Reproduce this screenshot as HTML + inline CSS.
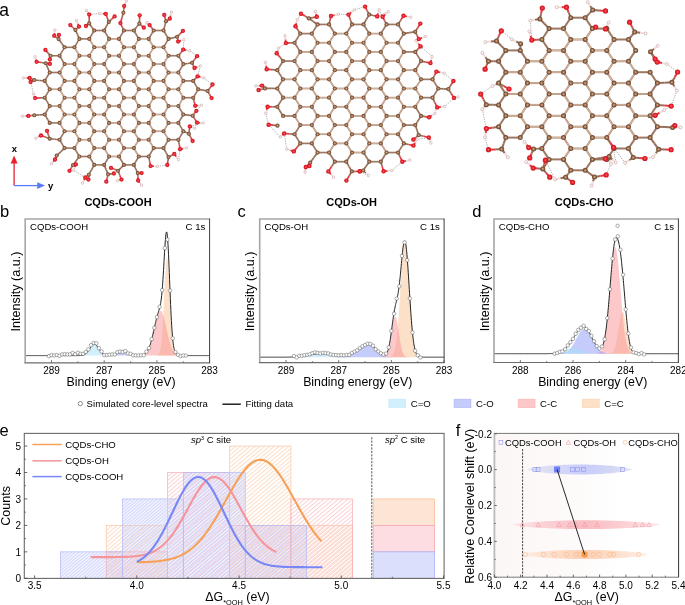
<!DOCTYPE html>
<html><head><meta charset="utf-8"><style>
html,body{margin:0;padding:0;background:#fff;width:685px;height:605px;overflow:hidden;}
svg{display:block;font-family:"Liberation Sans", sans-serif;will-change:transform;}
</style></head><body>
<svg width="685" height="605" viewBox="0 0 685 605">
<defs><clipPath id="clip1"><rect x="25.2" y="219" width="184.4" height="143.8"/></clipPath>
<clipPath id="clip2"><rect x="259.7" y="219" width="184.4" height="143.6"/></clipPath>
<clipPath id="clip3"><rect x="494" y="219" width="184.4" height="143.5"/></clipPath>
<pattern id="ho" patternUnits="userSpaceOnUse" x="0" width="3.1" height="3.1" patternTransform="rotate(50)"><line x1="0.5" y1="0" x2="0.5" y2="3.1" stroke="#fcd0b2" stroke-width="0.85"/></pattern>
<pattern id="hp" patternUnits="userSpaceOnUse" x="1.05" width="3.1" height="3.1" patternTransform="rotate(50)"><line x1="0.5" y1="0" x2="0.5" y2="3.1" stroke="#f9c0c5" stroke-width="0.85"/></pattern>
<pattern id="hb" patternUnits="userSpaceOnUse" x="0.55" width="2.4" height="2.4" patternTransform="rotate(50)"><line x1="0.5" y1="0" x2="0.5" y2="2.4" stroke="#c8cefa" stroke-width="0.85"/></pattern>
<linearGradient id="fbg" x1="0" y1="0" x2="1" y2="0"><stop offset="0" stop-color="#fcf7f6"/><stop offset="0.45" stop-color="#fdfafa"/><stop offset="0.7" stop-color="#ffffff"/></linearGradient>
<linearGradient id="gb" x1="0" y1="0" x2="1" y2="0"><stop offset="0" stop-color="#e6e6ee"/><stop offset="0.3" stop-color="#d6d9f6"/><stop offset="0.55" stop-color="#c8cdfa"/><stop offset="0.8" stop-color="#d4d7f4"/><stop offset="1" stop-color="#e8e8ee"/></linearGradient>
<linearGradient id="gp" x1="0" y1="0" x2="1" y2="0"><stop offset="0" stop-color="#fde6e8"/><stop offset="0.3" stop-color="#fbcbd0"/><stop offset="0.5" stop-color="#f9bcc2"/><stop offset="0.75" stop-color="#fbd0d4"/><stop offset="1" stop-color="#fde8ea"/></linearGradient>
<linearGradient id="go" x1="0" y1="0" x2="1" y2="0"><stop offset="0" stop-color="#fdf0e6"/><stop offset="0.3" stop-color="#fcdcc8"/><stop offset="0.5" stop-color="#fbd2b4"/><stop offset="0.75" stop-color="#fcdecc"/><stop offset="1" stop-color="#fdf2e8"/></linearGradient>
<radialGradient id="gc" cx="0.5" cy="0.5" r="0.5"><stop offset="0" stop-color="#e0b898"/><stop offset="0.4" stop-color="#a87858"/><stop offset="0.85" stop-color="#6e4a34"/><stop offset="1" stop-color="#684530"/></radialGradient>
<radialGradient id="go2" cx="0.5" cy="0.5" r="0.5"><stop offset="0" stop-color="#f46a70"/><stop offset="0.5" stop-color="#e8222c"/><stop offset="1" stop-color="#cc1420"/></radialGradient>
<radialGradient id="gh" cx="0.5" cy="0.5" r="0.5"><stop offset="0" stop-color="#ffffff"/><stop offset="0.6" stop-color="#f8eeee"/><stop offset="1" stop-color="#e2c8c8"/></radialGradient></defs>
<text x="-0.8" y="15.6" font-size="17.5" text-anchor="start" font-weight="normal" fill="#000" >a</text>
<text x="0" y="216.7" font-size="16.5" text-anchor="start" font-weight="normal" fill="#000" >b</text>
<text x="237.6" y="216.9" font-size="16.5" text-anchor="start" font-weight="normal" fill="#000" >c</text>
<text x="472.2" y="216.7" font-size="16.5" text-anchor="start" font-weight="normal" fill="#000" >d</text>
<text x="-0.4" y="436.2" font-size="16.5" text-anchor="start" font-weight="normal" fill="#000" >e</text>
<text x="455.8" y="435.8" font-size="16.5" text-anchor="start" font-weight="normal" fill="#000" >f</text>
<text x="118" y="205.5" font-size="11" text-anchor="middle" font-weight="bold" fill="#000" >CQDs-COOH</text>
<text x="351.6" y="205.5" font-size="11" text-anchor="middle" font-weight="bold" fill="#000" >CQDs-OH</text>
<text x="584.2" y="205.5" font-size="11" text-anchor="middle" font-weight="bold" fill="#000" >CQDs-CHO</text>
<g clip-path="url(#clip1)">
<path d="M155.86,355.6 L155.86,355.57 L156.14,355.55 L156.41,355.53 L156.69,355.5 L156.97,355.45 L157.24,355.39 L157.52,355.3 L157.8,355.18 L158.07,355.01 L158.35,354.8 L158.63,354.51 L158.9,354.14 L159.18,353.66 L159.46,353.04 L159.73,352.26 L160.01,351.29 L160.29,350.1 L160.56,348.64 L160.84,346.89 L161.12,344.8 L161.39,342.34 L161.67,339.48 L161.95,336.21 L162.22,332.5 L162.5,328.35 L162.78,323.78 L163.05,318.82 L163.33,313.5 L163.61,307.9 L163.88,302.08 L164.16,296.16 L164.44,290.24 L164.71,284.44 L164.99,278.89 L165.26,273.74 L165.54,269.12 L165.82,265.13 L166.09,261.91 L166.37,259.54 L166.65,258.09 L166.92,257.6 L167.2,258.09 L167.48,259.54 L167.75,261.91 L168.03,265.13 L168.31,269.12 L168.58,273.74 L168.86,278.89 L169.14,284.44 L169.41,290.24 L169.69,296.16 L169.97,302.08 L170.24,307.9 L170.52,313.5 L170.8,318.82 L171.07,323.78 L171.35,328.35 L171.63,332.5 L171.9,336.21 L172.18,339.48 L172.46,342.34 L172.73,344.8 L173.01,346.89 L173.29,348.64 L173.56,350.1 L173.84,351.29 L174.12,352.26 L174.39,353.04 L174.67,353.66 L174.95,354.14 L175.22,354.51 L175.5,354.8 L175.78,355.01 L176.05,355.18 L176.33,355.3 L176.61,355.39 L176.88,355.45 L177.16,355.5 L177.44,355.53 L177.71,355.55 L177.99,355.57 L177.99,355.6 Z" fill="#fbc191" fill-opacity="0.5"/>
<path d="M136.1,355.6 L136.1,355.58 L136.71,355.58 L137.32,355.57 L137.92,355.55 L138.53,355.53 L139.13,355.5 L139.74,355.46 L140.34,355.41 L140.95,355.33 L141.56,355.23 L142.16,355.1 L142.77,354.93 L143.37,354.71 L143.98,354.42 L144.59,354.07 L145.19,353.62 L145.8,353.07 L146.4,352.4 L147.01,351.6 L147.62,350.64 L148.22,349.51 L148.83,348.2 L149.43,346.69 L150.04,344.99 L150.64,343.09 L151.25,340.99 L151.86,338.71 L152.46,336.27 L153.07,333.7 L153.67,331.03 L154.28,328.31 L154.89,325.59 L155.49,322.92 L156.1,320.38 L156.7,318.01 L157.31,315.89 L157.92,314.06 L158.52,312.58 L159.13,311.49 L159.73,310.82 L160.34,310.6 L160.94,310.82 L161.55,311.49 L162.16,312.58 L162.76,314.06 L163.37,315.89 L163.97,318.01 L164.58,320.38 L165.19,322.92 L165.79,325.59 L166.4,328.31 L167,331.03 L167.61,333.7 L168.22,336.27 L168.82,338.71 L169.43,340.99 L170.03,343.09 L170.64,344.99 L171.24,346.69 L171.85,348.2 L172.46,349.51 L173.06,350.64 L173.67,351.6 L174.27,352.4 L174.88,353.07 L175.49,353.62 L176.09,354.07 L176.7,354.42 L177.3,354.71 L177.91,354.93 L178.52,355.1 L179.12,355.23 L179.73,355.33 L180.33,355.41 L180.94,355.46 L181.54,355.5 L182.15,355.53 L182.76,355.55 L183.36,355.57 L183.97,355.58 L184.57,355.58 L184.57,355.6 Z" fill="#f99195" fill-opacity="0.5"/>
<path d="M101.59,355.6 L101.59,355.6 L102.12,355.6 L102.65,355.6 L103.17,355.6 L103.7,355.59 L104.23,355.59 L104.76,355.59 L105.28,355.58 L105.81,355.57 L106.34,355.56 L106.86,355.55 L107.39,355.53 L107.92,355.51 L108.44,355.48 L108.97,355.45 L109.5,355.4 L110.02,355.35 L110.55,355.28 L111.08,355.2 L111.6,355.1 L112.13,354.99 L112.66,354.86 L113.19,354.71 L113.71,354.54 L114.24,354.35 L114.77,354.14 L115.29,353.91 L115.82,353.67 L116.35,353.41 L116.87,353.14 L117.4,352.87 L117.93,352.6 L118.45,352.33 L118.98,352.08 L119.51,351.84 L120.03,351.63 L120.56,351.45 L121.09,351.3 L121.61,351.19 L122.14,351.12 L122.67,351.1 L123.2,351.12 L123.72,351.19 L124.25,351.3 L124.78,351.45 L125.3,351.63 L125.83,351.84 L126.36,352.08 L126.88,352.33 L127.41,352.6 L127.94,352.87 L128.46,353.14 L128.99,353.41 L129.52,353.67 L130.04,353.91 L130.57,354.14 L131.1,354.35 L131.63,354.54 L132.15,354.71 L132.68,354.86 L133.21,354.99 L133.73,355.1 L134.26,355.2 L134.79,355.28 L135.31,355.35 L135.84,355.4 L136.37,355.45 L136.89,355.48 L137.42,355.51 L137.95,355.53 L138.47,355.55 L139,355.56 L139.53,355.57 L140.05,355.58 L140.58,355.59 L141.11,355.59 L141.64,355.59 L142.16,355.6 L142.69,355.6 L143.22,355.6 L143.74,355.6 L143.74,355.6 Z" fill="#8b97f5" fill-opacity="0.5"/>
<path d="M76.31,355.6 L76.31,355.6 L76.75,355.59 L77.2,355.59 L77.65,355.59 L78.1,355.58 L78.54,355.57 L78.99,355.56 L79.44,355.55 L79.89,355.53 L80.34,355.51 L80.78,355.47 L81.23,355.43 L81.68,355.37 L82.13,355.3 L82.57,355.21 L83.02,355.09 L83.47,354.95 L83.92,354.78 L84.37,354.58 L84.81,354.33 L85.26,354.04 L85.71,353.71 L86.16,353.32 L86.61,352.89 L87.05,352.4 L87.5,351.87 L87.95,351.28 L88.4,350.66 L88.84,350 L89.29,349.32 L89.74,348.62 L90.19,347.93 L90.64,347.25 L91.08,346.6 L91.53,345.99 L91.98,345.45 L92.43,344.98 L92.87,344.61 L93.32,344.33 L93.77,344.16 L94.22,344.1 L94.67,344.16 L95.11,344.33 L95.56,344.61 L96.01,344.98 L96.46,345.45 L96.91,345.99 L97.35,346.6 L97.8,347.25 L98.25,347.93 L98.7,348.62 L99.14,349.32 L99.59,350 L100.04,350.66 L100.49,351.28 L100.94,351.87 L101.38,352.4 L101.83,352.89 L102.28,353.32 L102.73,353.71 L103.17,354.04 L103.62,354.33 L104.07,354.58 L104.52,354.78 L104.97,354.95 L105.41,355.09 L105.86,355.21 L106.31,355.3 L106.76,355.37 L107.21,355.43 L107.65,355.47 L108.1,355.51 L108.55,355.53 L109,355.55 L109.44,355.56 L109.89,355.57 L110.34,355.58 L110.79,355.59 L111.24,355.59 L111.68,355.59 L112.13,355.6 L112.13,355.6 Z" fill="#a5e1f9" fill-opacity="0.5"/>
<path d="M25.2,355.6 L25.46,355.6 L25.73,355.6 L25.99,355.6 L26.25,355.6 L26.52,355.6 L26.78,355.6 L27.04,355.6 L27.31,355.6 L27.57,355.6 L27.83,355.6 L28.1,355.6 L28.36,355.6 L28.62,355.6 L28.89,355.6 L29.15,355.6 L29.41,355.6 L29.68,355.6 L29.94,355.6 L30.21,355.6 L30.47,355.6 L30.73,355.6 L31,355.6 L31.26,355.6 L31.52,355.6 L31.79,355.6 L32.05,355.6 L32.31,355.6 L32.58,355.6 L32.84,355.6 L33.1,355.6 L33.37,355.6 L33.63,355.6 L33.89,355.6 L34.16,355.6 L34.42,355.6 L34.68,355.6 L34.95,355.6 L35.21,355.6 L35.47,355.6 L35.74,355.6 L36,355.6 L36.26,355.6 L36.53,355.6 L36.79,355.6 L37.05,355.6 L37.32,355.6 L37.58,355.6 L37.84,355.6 L38.11,355.6 L38.37,355.6 L38.63,355.6 L38.9,355.6 L39.16,355.6 L39.43,355.6 L39.69,355.6 L39.95,355.6 L40.22,355.6 L40.48,355.6 L40.74,355.6 L41.01,355.6 L41.27,355.6 L41.53,355.6 L41.8,355.6 L42.06,355.6 L42.32,355.6 L42.59,355.6 L42.85,355.6 L43.11,355.6 L43.38,355.6 L43.64,355.6 L43.9,355.6 L44.17,355.6 L44.43,355.6 L44.69,355.6 L44.96,355.6 L45.22,355.6 L45.48,355.6 L45.75,355.6 L46.01,355.6 L46.27,355.6 L46.54,355.6 L46.8,355.6 L47.06,355.6 L47.33,355.6 L47.59,355.6 L47.85,355.6 L48.12,355.6 L48.38,355.6 L48.65,355.6 L48.91,355.6 L49.17,355.6 L49.44,355.6 L49.7,355.6 L49.96,355.6 L50.23,355.6 L50.49,355.6 L50.75,355.6 L51.02,355.6 L51.28,355.6 L51.54,355.6 L51.81,355.6 L52.07,355.6 L52.33,355.6 L52.6,355.6 L52.86,355.6 L53.12,355.6 L53.39,355.6 L53.65,355.6 L53.91,355.6 L54.18,355.6 L54.44,355.6 L54.7,355.6 L54.97,355.6 L55.23,355.6 L55.49,355.6 L55.76,355.6 L56.02,355.6 L56.28,355.6 L56.55,355.6 L56.81,355.6 L57.07,355.6 L57.34,355.6 L57.6,355.6 L57.87,355.6 L58.13,355.6 L58.39,355.6 L58.66,355.6 L58.92,355.6 L59.18,355.6 L59.45,355.6 L59.71,355.6 L59.97,355.6 L60.24,355.6 L60.5,355.6 L60.76,355.6 L61.03,355.6 L61.29,355.6 L61.55,355.6 L61.82,355.6 L62.08,355.6 L62.34,355.6 L62.61,355.6 L62.87,355.6 L63.13,355.6 L63.4,355.6 L63.66,355.6 L63.92,355.6 L64.19,355.6 L64.45,355.6 L64.71,355.6 L64.98,355.6 L65.24,355.6 L65.5,355.6 L65.77,355.6 L66.03,355.6 L66.29,355.6 L66.56,355.6 L66.82,355.6 L67.09,355.6 L67.35,355.6 L67.61,355.6 L67.88,355.6 L68.14,355.6 L68.4,355.6 L68.67,355.6 L68.93,355.6 L69.19,355.6 L69.46,355.6 L69.72,355.6 L69.98,355.6 L70.25,355.6 L70.51,355.6 L70.77,355.6 L71.04,355.6 L71.3,355.6 L71.56,355.6 L71.83,355.6 L72.09,355.6 L72.35,355.6 L72.62,355.6 L72.88,355.6 L73.14,355.6 L73.41,355.6 L73.67,355.6 L73.93,355.6 L74.2,355.6 L74.46,355.6 L74.72,355.6 L74.99,355.6 L75.25,355.6 L75.51,355.6 L75.78,355.6 L76.04,355.6 L76.31,355.6 L76.57,355.6 L76.83,355.59 L77.1,355.59 L77.36,355.59 L77.62,355.59 L77.89,355.59 L78.15,355.58 L78.41,355.58 L78.68,355.57 L78.94,355.57 L79.2,355.56 L79.47,355.55 L79.73,355.54 L79.99,355.53 L80.26,355.51 L80.52,355.49 L80.78,355.47 L81.05,355.45 L81.31,355.42 L81.57,355.39 L81.84,355.35 L82.1,355.3 L82.36,355.25 L82.63,355.2 L82.89,355.13 L83.15,355.06 L83.42,354.97 L83.68,354.88 L83.94,354.77 L84.21,354.65 L84.47,354.52 L84.73,354.38 L85,354.22 L85.26,354.04 L85.53,353.85 L85.79,353.64 L86.05,353.42 L86.32,353.18 L86.58,352.92 L86.84,352.64 L87.11,352.34 L87.37,352.03 L87.63,351.7 L87.9,351.35 L88.16,351 L88.42,350.62 L88.69,350.24 L88.95,349.84 L89.21,349.44 L89.48,349.03 L89.74,348.62 L90,348.22 L90.27,347.81 L90.53,347.41 L90.79,347.02 L91.06,346.64 L91.32,346.27 L91.58,345.93 L91.85,345.6 L92.11,345.31 L92.37,345.03 L92.64,344.79 L92.9,344.59 L93.16,344.41 L93.43,344.28 L93.69,344.18 L93.95,344.12 L94.22,344.1 L94.48,344.12 L94.75,344.18 L95.01,344.28 L95.27,344.41 L95.54,344.59 L95.8,344.79 L96.06,345.03 L96.33,345.31 L96.59,345.6 L96.85,345.93 L97.12,346.27 L97.38,346.64 L97.64,347.02 L97.91,347.41 L98.17,347.81 L98.43,348.21 L98.7,348.62 L98.96,349.03 L99.22,349.44 L99.49,349.84 L99.75,350.24 L100.01,350.62 L100.28,350.99 L100.54,351.35 L100.8,351.7 L101.07,352.03 L101.33,352.34 L101.59,352.64 L101.86,352.91 L102.12,353.17 L102.38,353.42 L102.65,353.64 L102.91,353.85 L103.17,354.04 L103.44,354.21 L103.7,354.37 L103.97,354.52 L104.23,354.64 L104.49,354.76 L104.76,354.86 L105.02,354.96 L105.28,355.04 L105.55,355.11 L105.81,355.17 L106.07,355.22 L106.34,355.27 L106.6,355.31 L106.86,355.34 L107.13,355.36 L107.39,355.38 L107.65,355.39 L107.92,355.4 L108.18,355.41 L108.44,355.41 L108.71,355.4 L108.97,355.4 L109.23,355.38 L109.5,355.37 L109.76,355.35 L110.02,355.32 L110.29,355.3 L110.55,355.27 L110.81,355.23 L111.08,355.19 L111.34,355.15 L111.6,355.1 L111.87,355.04 L112.13,354.99 L112.39,354.92 L112.66,354.86 L112.92,354.79 L113.19,354.71 L113.45,354.63 L113.71,354.54 L113.98,354.45 L114.24,354.35 L114.5,354.25 L114.77,354.14 L115.03,354.03 L115.29,353.91 L115.56,353.79 L115.82,353.67 L116.08,353.54 L116.35,353.41 L116.61,353.28 L116.87,353.14 L117.14,353.01 L117.4,352.87 L117.66,352.73 L117.93,352.6 L118.19,352.46 L118.45,352.33 L118.72,352.2 L118.98,352.08 L119.24,351.96 L119.51,351.84 L119.77,351.73 L120.03,351.63 L120.3,351.53 L120.56,351.45 L120.82,351.37 L121.09,351.3 L121.35,351.24 L121.61,351.19 L121.88,351.15 L122.14,351.12 L122.41,351.11 L122.67,351.1 L122.93,351.11 L123.2,351.12 L123.46,351.15 L123.72,351.19 L123.99,351.24 L124.25,351.3 L124.51,351.37 L124.78,351.45 L125.04,351.53 L125.3,351.63 L125.57,351.73 L125.83,351.84 L126.09,351.96 L126.36,352.08 L126.62,352.2 L126.88,352.33 L127.15,352.46 L127.41,352.6 L127.67,352.73 L127.94,352.87 L128.2,353.01 L128.46,353.14 L128.73,353.28 L128.99,353.41 L129.25,353.54 L129.52,353.67 L129.78,353.79 L130.04,353.91 L130.31,354.03 L130.57,354.14 L130.83,354.25 L131.1,354.35 L131.36,354.45 L131.63,354.54 L131.89,354.63 L132.15,354.71 L132.42,354.79 L132.68,354.86 L132.94,354.93 L133.21,354.99 L133.47,355.05 L133.73,355.1 L134,355.15 L134.26,355.2 L134.52,355.24 L134.79,355.27 L135.05,355.31 L135.31,355.34 L135.58,355.37 L135.84,355.39 L136.1,355.41 L136.37,355.43 L136.63,355.44 L136.89,355.46 L137.16,355.47 L137.42,355.48 L137.68,355.48 L137.95,355.48 L138.21,355.48 L138.47,355.48 L138.74,355.48 L139,355.47 L139.26,355.46 L139.53,355.45 L139.79,355.43 L140.05,355.41 L140.32,355.39 L140.58,355.37 L140.85,355.33 L141.11,355.3 L141.37,355.26 L141.64,355.21 L141.9,355.16 L142.16,355.1 L142.43,355.03 L142.69,354.95 L142.95,354.86 L143.22,354.77 L143.48,354.66 L143.74,354.54 L144.01,354.41 L144.27,354.26 L144.53,354.1 L144.8,353.92 L145.06,353.73 L145.32,353.51 L145.59,353.28 L145.85,353.02 L146.11,352.74 L146.38,352.44 L146.64,352.11 L146.9,351.75 L147.17,351.36 L147.43,350.95 L147.69,350.5 L147.96,350.02 L148.22,349.51 L148.48,348.96 L148.75,348.38 L149.01,347.76 L149.27,347.11 L149.54,346.41 L149.8,345.68 L150.07,344.91 L150.33,344.11 L150.59,343.26 L150.86,342.38 L151.12,341.46 L151.38,340.51 L151.65,339.52 L151.91,338.5 L152.17,337.46 L152.44,336.38 L152.7,335.28 L152.96,334.15 L153.23,333.01 L153.49,331.85 L153.75,330.67 L154.02,329.49 L154.28,328.3 L154.54,327.12 L154.81,325.93 L155.07,324.76 L155.33,323.59 L155.6,322.45 L155.86,321.32 L156.12,320.22 L156.39,319.15 L156.65,318.11 L156.91,317.1 L157.18,316.13 L157.44,315.19 L157.7,314.28 L157.97,313.4 L158.23,312.54 L158.49,311.69 L158.76,310.85 L159.02,310 L159.29,309.11 L159.55,308.18 L159.81,307.18 L160.08,306.07 L160.34,304.84 L160.6,303.45 L160.87,301.87 L161.13,300.07 L161.39,298.01 L161.66,295.68 L161.92,293.04 L162.18,290.09 L162.45,286.82 L162.71,283.23 L162.97,279.33 L163.24,275.17 L163.5,270.79 L163.76,266.24 L164.03,261.6 L164.29,256.95 L164.55,252.4 L164.82,248.04 L165.08,244 L165.34,240.37 L165.61,237.27 L165.87,234.8 L166.13,233.04 L166.4,232.07 L166.66,231.94 L166.92,232.67 L167.19,234.29 L167.45,236.77 L167.71,240.07 L167.98,244.14 L168.24,248.88 L168.51,254.22 L168.77,260.03 L169.03,266.21 L169.3,272.64 L169.56,279.19 L169.82,285.77 L170.09,292.26 L170.35,298.57 L170.61,304.62 L170.88,310.36 L171.14,315.72 L171.4,320.68 L171.67,325.22 L171.93,329.32 L172.19,332.99 L172.46,336.25 L172.72,339.11 L172.98,341.6 L173.25,343.76 L173.51,345.61 L173.77,347.18 L174.04,348.51 L174.3,349.64 L174.56,350.58 L174.83,351.37 L175.09,352.02 L175.35,352.57 L175.62,353.03 L175.88,353.41 L176.14,353.72 L176.41,353.99 L176.67,354.21 L176.93,354.4 L177.2,354.56 L177.46,354.7 L177.73,354.82 L177.99,354.92 L178.25,355.01 L178.52,355.09 L178.78,355.15 L179.04,355.21 L179.31,355.26 L179.57,355.3 L179.83,355.34 L180.1,355.38 L180.36,355.41 L180.62,355.43 L180.89,355.46 L181.15,355.48 L181.41,355.49 L181.68,355.51 L181.94,355.52 L182.2,355.53 L182.47,355.54 L182.73,355.55 L182.99,355.56 L183.26,355.56 L183.52,355.57 L183.78,355.57 L184.05,355.58 L184.31,355.58 L184.57,355.58 L184.84,355.59 L185.1,355.59 L185.36,355.59 L185.63,355.59 L185.89,355.59 L186.15,355.59 L186.42,355.6 L186.68,355.6 L186.95,355.6 L187.21,355.6 L187.47,355.6 L187.74,355.6 L188,355.6 L188.26,355.6 L188.53,355.6 L188.79,355.6 L189.05,355.6 L189.32,355.6 L189.58,355.6 L189.84,355.6 L190.11,355.6 L190.37,355.6 L190.63,355.6 L190.9,355.6 L191.16,355.6 L191.42,355.6 L191.69,355.6 L191.95,355.6 L192.21,355.6 L192.48,355.6 L192.74,355.6 L193,355.6 L193.27,355.6 L193.53,355.6 L193.79,355.6 L194.06,355.6 L194.32,355.6 L194.58,355.6 L194.85,355.6 L195.11,355.6 L195.37,355.6 L195.64,355.6 L195.9,355.6 L196.17,355.6 L196.43,355.6 L196.69,355.6 L196.96,355.6 L197.22,355.6 L197.48,355.6 L197.75,355.6 L198.01,355.6 L198.27,355.6 L198.54,355.6 L198.8,355.6 L199.06,355.6 L199.33,355.6 L199.59,355.6 L199.85,355.6 L200.12,355.6 L200.38,355.6 L200.64,355.6 L200.91,355.6 L201.17,355.6 L201.43,355.6 L201.7,355.6 L201.96,355.6 L202.22,355.6 L202.49,355.6 L202.75,355.6 L203.01,355.6 L203.28,355.6 L203.54,355.6 L203.8,355.6 L204.07,355.6 L204.33,355.6 L204.59,355.6 L204.86,355.6 L205.12,355.6 L205.39,355.6 L205.65,355.6 L205.91,355.6 L206.18,355.6 L206.44,355.6 L206.7,355.6 L206.97,355.6 L207.23,355.6 L207.49,355.6 L207.76,355.6 L208.02,355.6 L208.28,355.6 L208.55,355.6 L208.81,355.6 L209.07,355.6 L209.34,355.6 L209.6,355.6" fill="none" stroke="#222" stroke-width="1"/>
<circle cx="48.91" cy="356.14" r="1.75" fill="#fff" stroke="#666" stroke-width="0.55"/>
<circle cx="51.54" cy="355.1" r="1.75" fill="#fff" stroke="#666" stroke-width="0.55"/>
<circle cx="54.18" cy="355.46" r="1.75" fill="#fff" stroke="#666" stroke-width="0.55"/>
<circle cx="56.81" cy="355.09" r="1.75" fill="#fff" stroke="#666" stroke-width="0.55"/>
<circle cx="59.45" cy="355.81" r="1.75" fill="#fff" stroke="#666" stroke-width="0.55"/>
<circle cx="62.08" cy="354.39" r="1.75" fill="#fff" stroke="#666" stroke-width="0.55"/>
<circle cx="64.71" cy="354.22" r="1.75" fill="#fff" stroke="#666" stroke-width="0.55"/>
<circle cx="67.35" cy="354.39" r="1.75" fill="#fff" stroke="#666" stroke-width="0.55"/>
<circle cx="69.98" cy="354.4" r="1.75" fill="#fff" stroke="#666" stroke-width="0.55"/>
<circle cx="72.62" cy="353.03" r="1.75" fill="#fff" stroke="#666" stroke-width="0.55"/>
<circle cx="75.25" cy="354.23" r="1.75" fill="#fff" stroke="#666" stroke-width="0.55"/>
<circle cx="77.89" cy="352.68" r="1.75" fill="#fff" stroke="#666" stroke-width="0.55"/>
<circle cx="80.52" cy="353.82" r="1.75" fill="#fff" stroke="#666" stroke-width="0.55"/>
<circle cx="83.15" cy="353.87" r="1.75" fill="#fff" stroke="#666" stroke-width="0.55"/>
<circle cx="85.79" cy="351.98" r="1.75" fill="#fff" stroke="#666" stroke-width="0.55"/>
<circle cx="88.42" cy="349.39" r="1.75" fill="#fff" stroke="#666" stroke-width="0.55"/>
<circle cx="91.06" cy="345.21" r="1.75" fill="#fff" stroke="#666" stroke-width="0.55"/>
<circle cx="93.69" cy="342.97" r="1.75" fill="#fff" stroke="#666" stroke-width="0.55"/>
<circle cx="96.33" cy="343.36" r="1.75" fill="#fff" stroke="#666" stroke-width="0.55"/>
<circle cx="98.96" cy="348.22" r="1.75" fill="#fff" stroke="#666" stroke-width="0.55"/>
<circle cx="101.59" cy="351.51" r="1.75" fill="#fff" stroke="#666" stroke-width="0.55"/>
<circle cx="104.23" cy="355.16" r="1.75" fill="#fff" stroke="#666" stroke-width="0.55"/>
<circle cx="106.86" cy="354.94" r="1.75" fill="#fff" stroke="#666" stroke-width="0.55"/>
<circle cx="109.5" cy="354.65" r="1.75" fill="#fff" stroke="#666" stroke-width="0.55"/>
<circle cx="112.13" cy="354.44" r="1.75" fill="#fff" stroke="#666" stroke-width="0.55"/>
<circle cx="114.77" cy="354.44" r="1.75" fill="#fff" stroke="#666" stroke-width="0.55"/>
<circle cx="117.4" cy="352.2" r="1.75" fill="#fff" stroke="#666" stroke-width="0.55"/>
<circle cx="120.03" cy="351.6" r="1.75" fill="#fff" stroke="#666" stroke-width="0.55"/>
<circle cx="122.67" cy="351.91" r="1.75" fill="#fff" stroke="#666" stroke-width="0.55"/>
<circle cx="125.3" cy="351.17" r="1.75" fill="#fff" stroke="#666" stroke-width="0.55"/>
<circle cx="127.94" cy="353.39" r="1.75" fill="#fff" stroke="#666" stroke-width="0.55"/>
<circle cx="130.57" cy="353.8" r="1.75" fill="#fff" stroke="#666" stroke-width="0.55"/>
<circle cx="133.21" cy="355.19" r="1.75" fill="#fff" stroke="#666" stroke-width="0.55"/>
<circle cx="135.84" cy="355.37" r="1.75" fill="#fff" stroke="#666" stroke-width="0.55"/>
<circle cx="138.47" cy="355.45" r="1.75" fill="#fff" stroke="#666" stroke-width="0.55"/>
<circle cx="141.11" cy="355.32" r="1.75" fill="#fff" stroke="#666" stroke-width="0.55"/>
<circle cx="143.74" cy="355.26" r="1.75" fill="#fff" stroke="#666" stroke-width="0.55"/>
<circle cx="146.38" cy="351.65" r="1.75" fill="#fff" stroke="#666" stroke-width="0.55"/>
<circle cx="149.01" cy="348.09" r="1.75" fill="#fff" stroke="#666" stroke-width="0.55"/>
<circle cx="151.65" cy="339.05" r="1.75" fill="#fff" stroke="#666" stroke-width="0.55"/>
<circle cx="154.28" cy="327.81" r="1.75" fill="#fff" stroke="#666" stroke-width="0.55"/>
<circle cx="156.91" cy="317.15" r="1.75" fill="#fff" stroke="#666" stroke-width="0.55"/>
<circle cx="159.55" cy="306.87" r="1.75" fill="#fff" stroke="#666" stroke-width="0.55"/>
<circle cx="162.18" cy="290.13" r="1.75" fill="#fff" stroke="#666" stroke-width="0.55"/>
<circle cx="164.82" cy="248.1" r="1.75" fill="#fff" stroke="#666" stroke-width="0.55"/>
<circle cx="167.45" cy="239.56" r="1.75" fill="#fff" stroke="#666" stroke-width="0.55"/>
<circle cx="170.09" cy="290.59" r="1.75" fill="#fff" stroke="#666" stroke-width="0.55"/>
<circle cx="172.72" cy="338.25" r="1.75" fill="#fff" stroke="#666" stroke-width="0.55"/>
<circle cx="175.35" cy="352.07" r="1.75" fill="#fff" stroke="#666" stroke-width="0.55"/>
<circle cx="177.99" cy="354.83" r="1.75" fill="#fff" stroke="#666" stroke-width="0.55"/>
<circle cx="180.62" cy="356.14" r="1.75" fill="#fff" stroke="#666" stroke-width="0.55"/>
<circle cx="183.26" cy="355.45" r="1.75" fill="#fff" stroke="#666" stroke-width="0.55"/>
<circle cx="185.89" cy="355.59" r="1.75" fill="#fff" stroke="#666" stroke-width="0.55"/>
</g>
<path d="M25.2,362.8 L25.2,219 L209.6,219" fill="none" stroke="#a6a6a6" stroke-width="1.6"/>
<line x1="24.4" y1="362.8" x2="209.6" y2="362.8" stroke="#6e6e6e" stroke-width="1.2"/>
<line x1="209.6" y1="218.5" x2="209.6" y2="363.3" stroke="#3c3c3c" stroke-width="1"/>
<line x1="51.54" y1="362.8" x2="51.54" y2="360.2" stroke="#555" stroke-width="0.8"/>
<text x="51.54" y="374" font-size="10" text-anchor="middle" font-weight="normal" fill="#000" >289</text>
<line x1="104.23" y1="362.8" x2="104.23" y2="360.2" stroke="#555" stroke-width="0.8"/>
<text x="104.23" y="374" font-size="10" text-anchor="middle" font-weight="normal" fill="#000" >287</text>
<line x1="156.91" y1="362.8" x2="156.91" y2="360.2" stroke="#555" stroke-width="0.8"/>
<text x="156.91" y="374" font-size="10" text-anchor="middle" font-weight="normal" fill="#000" >285</text>
<line x1="209.6" y1="362.8" x2="209.6" y2="360.2" stroke="#555" stroke-width="0.8"/>
<text x="209.6" y="374" font-size="10" text-anchor="middle" font-weight="normal" fill="#000" >283</text>
<line x1="77.89" y1="362.8" x2="77.89" y2="361.2" stroke="#555" stroke-width="0.7"/>
<line x1="130.57" y1="362.8" x2="130.57" y2="361.2" stroke="#555" stroke-width="0.7"/>
<line x1="183.26" y1="362.8" x2="183.26" y2="361.2" stroke="#555" stroke-width="0.7"/>
<text x="30" y="229.5" font-size="9.6" text-anchor="start" font-weight="normal" fill="#000" >CQDs-COOH</text>
<text x="205.3" y="229.5" font-size="9.6" text-anchor="end" font-weight="normal" fill="#000" >C 1s</text>
<text x="121.1" y="385.8" font-size="12.35" text-anchor="middle" font-weight="normal" fill="#000" >Binding energy (eV)</text>
<text transform="translate(19.8,291.5) rotate(-90)" font-size="12.6" text-anchor="middle" fill="#000">Intensity (a.u.)</text>
<g clip-path="url(#clip2)">
<path d="M387.46,357.2 L387.46,357.16 L387.9,357.14 L388.33,357.12 L388.77,357.08 L389.2,357.02 L389.64,356.95 L390.07,356.84 L390.51,356.7 L390.94,356.51 L391.37,356.26 L391.81,355.92 L392.24,355.48 L392.68,354.92 L393.11,354.2 L393.55,353.28 L393.98,352.15 L394.42,350.74 L394.85,349.03 L395.29,346.97 L395.72,344.52 L396.16,341.64 L396.59,338.29 L397.03,334.44 L397.46,330.09 L397.89,325.23 L398.33,319.86 L398.76,314.04 L399.2,307.8 L399.63,301.22 L400.07,294.4 L400.5,287.45 L400.94,280.5 L401.37,273.69 L401.81,267.19 L402.24,261.14 L402.68,255.71 L403.11,251.04 L403.55,247.26 L403.98,244.48 L404.41,242.77 L404.85,242.2 L405.28,242.77 L405.72,244.48 L406.15,247.26 L406.59,251.04 L407.02,255.71 L407.46,261.14 L407.89,267.19 L408.33,273.69 L408.76,280.5 L409.2,287.45 L409.63,294.4 L410.07,301.22 L410.5,307.8 L410.93,314.04 L411.37,319.86 L411.8,325.23 L412.24,330.09 L412.67,334.44 L413.11,338.29 L413.54,341.64 L413.98,344.52 L414.41,346.97 L414.85,349.03 L415.28,350.74 L415.72,352.15 L416.15,353.28 L416.58,354.2 L417.02,354.92 L417.45,355.48 L417.89,355.92 L418.32,356.26 L418.76,356.51 L419.19,356.7 L419.63,356.84 L420.06,356.95 L420.5,357.02 L420.93,357.08 L421.37,357.12 L421.8,357.14 L422.24,357.16 L422.24,357.2 Z" fill="#fbc191" fill-opacity="0.5"/>
<path d="M380.35,357.2 L380.35,357.19 L380.72,357.18 L381.09,357.17 L381.46,357.16 L381.83,357.14 L382.19,357.11 L382.56,357.07 L382.93,357.02 L383.3,356.95 L383.67,356.86 L384.04,356.74 L384.41,356.59 L384.78,356.39 L385.14,356.13 L385.51,355.8 L385.88,355.4 L386.25,354.9 L386.62,354.29 L386.99,353.55 L387.36,352.68 L387.73,351.65 L388.1,350.46 L388.46,349.09 L388.83,347.53 L389.2,345.8 L389.57,343.89 L389.94,341.81 L390.31,339.59 L390.68,337.24 L391.05,334.81 L391.41,332.33 L391.78,329.85 L392.15,327.43 L392.52,325.11 L392.89,322.95 L393.26,321.02 L393.63,319.35 L394,318 L394.36,317.01 L394.73,316.4 L395.1,316.2 L395.47,316.4 L395.84,317.01 L396.21,318 L396.58,319.35 L396.95,321.02 L397.32,322.95 L397.68,325.11 L398.05,327.43 L398.42,329.85 L398.79,332.33 L399.16,334.81 L399.53,337.24 L399.9,339.59 L400.27,341.81 L400.63,343.89 L401,345.8 L401.37,347.53 L401.74,349.09 L402.11,350.46 L402.48,351.65 L402.85,352.68 L403.22,353.55 L403.58,354.29 L403.95,354.9 L404.32,355.4 L404.69,355.8 L405.06,356.13 L405.43,356.39 L405.8,356.59 L406.17,356.74 L406.54,356.86 L406.9,356.95 L407.27,357.02 L407.64,357.07 L408.01,357.11 L408.38,357.14 L408.75,357.16 L409.12,357.17 L409.49,357.18 L409.85,357.19 L409.85,357.2 Z" fill="#f99195" fill-opacity="0.5"/>
<path d="M326.87,357.2 L326.87,357.2 L327.76,357.19 L328.64,357.19 L329.52,357.19 L330.4,357.18 L331.29,357.18 L332.17,357.17 L333.05,357.16 L333.93,357.15 L334.82,357.13 L335.7,357.11 L336.58,357.09 L337.46,357.05 L338.35,357.01 L339.23,356.96 L340.11,356.9 L340.99,356.82 L341.88,356.73 L342.76,356.62 L343.64,356.49 L344.52,356.33 L345.41,356.15 L346.29,355.93 L347.17,355.69 L348.05,355.41 L348.94,355.09 L349.82,354.73 L350.7,354.33 L351.58,353.89 L352.47,353.42 L353.35,352.9 L354.23,352.35 L355.11,351.76 L356,351.15 L356.88,350.51 L357.76,349.86 L358.64,349.2 L359.53,348.54 L360.41,347.89 L361.29,347.27 L362.17,346.68 L363.06,346.13 L363.94,345.63 L364.82,345.19 L365.7,344.83 L366.59,344.54 L367.47,344.34 L368.35,344.23 L369.23,344.21 L370.12,344.35 L371,344.69 L371.88,345.21 L372.76,345.88 L373.65,346.68 L374.53,347.57 L375.41,348.51 L376.29,349.49 L377.18,350.46 L378.06,351.4 L378.94,352.28 L379.82,353.1 L380.71,353.83 L381.59,354.47 L382.47,355.02 L383.35,355.49 L384.24,355.88 L385.12,356.2 L386,356.45 L386.88,356.64 L387.77,356.8 L388.65,356.91 L389.53,357 L390.41,357.06 L391.3,357.1 L392.18,357.14 L393.06,357.16 L393.94,357.17 L394.83,357.18 L395.71,357.19 L396.59,357.19 L397.47,357.2 L397.47,357.2 Z" fill="#8b97f5" fill-opacity="0.5"/>
<path d="M274.19,357.2 L274.19,357.2 L275.37,357.2 L276.56,357.2 L277.74,357.2 L278.93,357.19 L280.12,357.19 L281.3,357.19 L282.49,357.18 L283.67,357.18 L284.86,357.17 L286.04,357.16 L287.23,357.15 L288.41,357.13 L289.6,357.11 L290.78,357.08 L291.97,357.04 L293.16,357 L294.34,356.94 L295.53,356.88 L296.71,356.8 L297.9,356.71 L299.08,356.61 L300.27,356.49 L301.45,356.35 L302.64,356.2 L303.82,356.03 L305.01,355.85 L306.2,355.65 L307.38,355.45 L308.57,355.23 L309.75,355.02 L310.94,354.8 L312.12,354.59 L313.31,354.38 L314.49,354.19 L315.68,354.02 L316.86,353.88 L318.05,353.76 L319.23,353.67 L320.42,353.62 L321.61,353.6 L322.79,353.62 L323.98,353.67 L325.16,353.76 L326.35,353.88 L327.53,354.02 L328.72,354.19 L329.9,354.38 L331.09,354.59 L332.27,354.8 L333.46,355.02 L334.65,355.23 L335.83,355.45 L337.02,355.65 L338.2,355.85 L339.39,356.03 L340.57,356.2 L341.76,356.35 L342.94,356.49 L344.13,356.61 L345.31,356.71 L346.5,356.8 L347.69,356.88 L348.87,356.94 L350.06,357 L351.24,357.04 L352.43,357.08 L353.61,357.11 L354.8,357.13 L355.98,357.15 L357.17,357.16 L358.35,357.17 L359.54,357.18 L360.72,357.18 L361.91,357.19 L363.1,357.19 L364.28,357.19 L365.47,357.2 L366.65,357.2 L367.84,357.2 L369.02,357.2 L369.02,357.2 Z" fill="#a5e1f9" fill-opacity="0.5"/>
<path d="M259.7,357.2 L259.96,357.2 L260.23,357.2 L260.49,357.2 L260.75,357.2 L261.02,357.2 L261.28,357.2 L261.54,357.2 L261.81,357.2 L262.07,357.2 L262.33,357.2 L262.6,357.2 L262.86,357.2 L263.12,357.2 L263.39,357.2 L263.65,357.2 L263.91,357.2 L264.18,357.2 L264.44,357.2 L264.71,357.2 L264.97,357.2 L265.23,357.2 L265.5,357.2 L265.76,357.2 L266.02,357.2 L266.29,357.2 L266.55,357.2 L266.81,357.2 L267.08,357.2 L267.34,357.2 L267.6,357.2 L267.87,357.2 L268.13,357.2 L268.39,357.2 L268.66,357.2 L268.92,357.2 L269.18,357.2 L269.45,357.2 L269.71,357.2 L269.97,357.2 L270.24,357.2 L270.5,357.2 L270.76,357.2 L271.03,357.2 L271.29,357.2 L271.55,357.2 L271.82,357.2 L272.08,357.2 L272.34,357.2 L272.61,357.2 L272.87,357.2 L273.13,357.2 L273.4,357.2 L273.66,357.2 L273.93,357.2 L274.19,357.2 L274.45,357.2 L274.72,357.2 L274.98,357.2 L275.24,357.2 L275.51,357.2 L275.77,357.2 L276.03,357.2 L276.3,357.2 L276.56,357.2 L276.82,357.2 L277.09,357.2 L277.35,357.2 L277.61,357.2 L277.88,357.2 L278.14,357.2 L278.4,357.2 L278.67,357.19 L278.93,357.19 L279.19,357.19 L279.46,357.19 L279.72,357.19 L279.98,357.19 L280.25,357.19 L280.51,357.19 L280.77,357.19 L281.04,357.19 L281.3,357.19 L281.56,357.19 L281.83,357.19 L282.09,357.19 L282.35,357.19 L282.62,357.18 L282.88,357.18 L283.15,357.18 L283.41,357.18 L283.67,357.18 L283.94,357.18 L284.2,357.18 L284.46,357.17 L284.73,357.17 L284.99,357.17 L285.25,357.17 L285.52,357.17 L285.78,357.16 L286.04,357.16 L286.31,357.16 L286.57,357.15 L286.83,357.15 L287.1,357.15 L287.36,357.14 L287.62,357.14 L287.89,357.14 L288.15,357.13 L288.41,357.13 L288.68,357.12 L288.94,357.12 L289.2,357.11 L289.47,357.11 L289.73,357.1 L289.99,357.1 L290.26,357.09 L290.52,357.08 L290.78,357.08 L291.05,357.07 L291.31,357.06 L291.57,357.05 L291.84,357.05 L292.1,357.04 L292.37,357.03 L292.63,357.02 L292.89,357.01 L293.16,357 L293.42,356.99 L293.68,356.98 L293.95,356.96 L294.21,356.95 L294.47,356.94 L294.74,356.92 L295,356.91 L295.26,356.9 L295.53,356.88 L295.79,356.86 L296.05,356.85 L296.32,356.83 L296.58,356.81 L296.84,356.79 L297.11,356.77 L297.37,356.75 L297.63,356.73 L297.9,356.71 L298.16,356.69 L298.42,356.67 L298.69,356.64 L298.95,356.62 L299.21,356.6 L299.48,356.57 L299.74,356.54 L300,356.52 L300.27,356.49 L300.53,356.46 L300.79,356.43 L301.06,356.4 L301.32,356.37 L301.59,356.34 L301.85,356.3 L302.11,356.27 L302.38,356.23 L302.64,356.2 L302.9,356.16 L303.17,356.13 L303.43,356.09 L303.69,356.05 L303.96,356.01 L304.22,355.97 L304.48,355.93 L304.75,355.89 L305.01,355.85 L305.27,355.81 L305.54,355.76 L305.8,355.72 L306.06,355.68 L306.33,355.63 L306.59,355.59 L306.85,355.54 L307.12,355.49 L307.38,355.45 L307.64,355.4 L307.91,355.35 L308.17,355.31 L308.43,355.26 L308.7,355.21 L308.96,355.16 L309.22,355.11 L309.49,355.07 L309.75,355.02 L310.01,354.97 L310.28,354.92 L310.54,354.87 L310.81,354.82 L311.07,354.77 L311.33,354.73 L311.6,354.68 L311.86,354.63 L312.12,354.59 L312.39,354.54 L312.65,354.49 L312.91,354.45 L313.18,354.4 L313.44,354.36 L313.7,354.32 L313.97,354.28 L314.23,354.23 L314.49,354.19 L314.76,354.15 L315.02,354.11 L315.28,354.08 L315.55,354.04 L315.81,354.01 L316.07,353.97 L316.34,353.94 L316.6,353.91 L316.86,353.88 L317.13,353.85 L317.39,353.82 L317.65,353.79 L317.92,353.77 L318.18,353.75 L318.44,353.73 L318.71,353.71 L318.97,353.69 L319.23,353.67 L319.5,353.66 L319.76,353.64 L320.03,353.63 L320.29,353.62 L320.55,353.61 L320.82,353.61 L321.08,353.6 L321.34,353.6 L321.61,353.6 L321.87,353.6 L322.13,353.6 L322.4,353.61 L322.66,353.61 L322.92,353.62 L323.19,353.63 L323.45,353.64 L323.71,353.66 L323.98,353.67 L324.24,353.69 L324.5,353.7 L324.77,353.72 L325.03,353.74 L325.29,353.77 L325.56,353.79 L325.82,353.82 L326.08,353.84 L326.35,353.87 L326.61,353.9 L326.87,353.93 L327.14,353.97 L327.4,354 L327.66,354.03 L327.93,354.07 L328.19,354.11 L328.45,354.15 L328.72,354.18 L328.98,354.22 L329.25,354.26 L329.51,354.31 L329.77,354.35 L330.04,354.39 L330.3,354.43 L330.56,354.48 L330.83,354.52 L331.09,354.57 L331.35,354.61 L331.62,354.66 L331.88,354.7 L332.14,354.75 L332.41,354.79 L332.67,354.84 L332.93,354.88 L333.2,354.93 L333.46,354.97 L333.72,355.02 L333.99,355.06 L334.25,355.11 L334.51,355.15 L334.78,355.19 L335.04,355.23 L335.3,355.28 L335.57,355.32 L335.83,355.36 L336.09,355.4 L336.36,355.43 L336.62,355.47 L336.88,355.51 L337.15,355.54 L337.41,355.58 L337.67,355.61 L337.94,355.64 L338.2,355.67 L338.47,355.7 L338.73,355.72 L338.99,355.75 L339.26,355.77 L339.52,355.79 L339.78,355.81 L340.05,355.83 L340.31,355.85 L340.57,355.86 L340.84,355.87 L341.1,355.88 L341.36,355.89 L341.63,355.89 L341.89,355.9 L342.15,355.9 L342.42,355.89 L342.68,355.89 L342.94,355.88 L343.21,355.87 L343.47,355.86 L343.73,355.84 L344,355.82 L344.26,355.8 L344.52,355.77 L344.79,355.74 L345.05,355.71 L345.31,355.68 L345.58,355.64 L345.84,355.6 L346.1,355.55 L346.37,355.5 L346.63,355.45 L346.89,355.4 L347.16,355.34 L347.42,355.27 L347.69,355.21 L347.95,355.14 L348.21,355.06 L348.48,354.98 L348.74,354.9 L349,354.81 L349.27,354.72 L349.53,354.63 L349.79,354.53 L350.06,354.43 L350.32,354.32 L350.58,354.21 L350.85,354.09 L351.11,353.97 L351.37,353.85 L351.64,353.72 L351.9,353.59 L352.16,353.46 L352.43,353.32 L352.69,353.17 L352.95,353.03 L353.22,352.88 L353.48,352.72 L353.74,352.57 L354.01,352.4 L354.27,352.24 L354.53,352.07 L354.8,351.9 L355.06,351.73 L355.32,351.55 L355.59,351.37 L355.85,351.19 L356.11,351.01 L356.38,350.82 L356.64,350.64 L356.91,350.45 L357.17,350.26 L357.43,350.06 L357.7,349.87 L357.96,349.68 L358.22,349.48 L358.49,349.29 L358.75,349.09 L359.01,348.9 L359.28,348.7 L359.54,348.51 L359.8,348.31 L360.07,348.12 L360.33,347.93 L360.59,347.74 L360.86,347.56 L361.12,347.37 L361.38,347.19 L361.65,347.01 L361.91,346.84 L362.17,346.67 L362.44,346.5 L362.7,346.33 L362.96,346.17 L363.23,346.02 L363.49,345.87 L363.75,345.72 L364.02,345.58 L364.28,345.45 L364.54,345.32 L364.81,345.19 L365.07,345.08 L365.33,344.97 L365.6,344.87 L365.86,344.77 L366.13,344.68 L366.39,344.6 L366.65,344.52 L366.92,344.45 L367.18,344.4 L367.44,344.34 L367.71,344.3 L367.97,344.26 L368.23,344.23 L368.5,344.21 L368.76,344.2 L369.02,344.2 L369.29,344.21 L369.55,344.23 L369.81,344.28 L370.08,344.34 L370.34,344.42 L370.6,344.52 L370.87,344.63 L371.13,344.76 L371.39,344.9 L371.66,345.06 L371.92,345.23 L372.18,345.42 L372.45,345.62 L372.71,345.83 L372.97,346.06 L373.24,346.29 L373.5,346.54 L373.76,346.79 L374.03,347.05 L374.29,347.32 L374.55,347.59 L374.82,347.87 L375.08,348.16 L375.35,348.44 L375.61,348.73 L375.87,349.02 L376.14,349.31 L376.4,349.61 L376.66,349.9 L376.93,350.19 L377.19,350.47 L377.45,350.76 L377.72,351.04 L377.98,351.32 L378.24,351.59 L378.51,351.85 L378.77,352.11 L379.03,352.37 L379.3,352.62 L379.56,352.86 L379.82,353.09 L380.09,353.31 L380.35,353.53 L380.61,353.74 L380.88,353.93 L381.14,354.12 L381.4,354.3 L381.67,354.47 L381.93,354.63 L382.19,354.77 L382.46,354.9 L382.72,355.02 L382.98,355.12 L383.25,355.21 L383.51,355.27 L383.77,355.32 L384.04,355.34 L384.3,355.34 L384.57,355.31 L384.83,355.25 L385.09,355.15 L385.36,355.02 L385.62,354.84 L385.88,354.61 L386.15,354.32 L386.41,353.98 L386.67,353.58 L386.94,353.1 L387.2,352.55 L387.46,351.91 L387.73,351.19 L387.99,350.38 L388.25,349.48 L388.52,348.47 L388.78,347.37 L389.04,346.16 L389.31,344.86 L389.57,343.45 L389.83,341.95 L390.1,340.35 L390.36,338.67 L390.62,336.91 L390.89,335.09 L391.15,333.2 L391.41,331.27 L391.68,329.31 L391.94,327.33 L392.2,325.35 L392.47,323.39 L392.73,321.44 L392.99,319.54 L393.26,317.69 L393.52,315.91 L393.79,314.2 L394.05,312.57 L394.31,311.02 L394.58,309.56 L394.84,308.18 L395.1,306.88 L395.37,305.65 L395.63,304.48 L395.89,303.36 L396.16,302.27 L396.42,301.19 L396.68,300.1 L396.95,298.99 L397.21,297.83 L397.47,296.6 L397.74,295.28 L398,293.86 L398.26,292.31 L398.53,290.63 L398.79,288.8 L399.05,286.83 L399.32,284.7 L399.58,282.42 L399.84,280 L400.11,277.45 L400.37,274.78 L400.63,272.02 L400.9,269.2 L401.16,266.33 L401.42,263.45 L401.69,260.6 L401.95,257.81 L402.21,255.11 L402.48,252.55 L402.74,250.15 L403.01,247.97 L403.27,246.02 L403.53,244.35 L403.8,242.98 L404.06,241.94 L404.32,241.24 L404.59,240.91 L404.85,240.95 L405.11,241.38 L405.38,242.2 L405.64,243.39 L405.9,244.97 L406.17,246.91 L406.43,249.19 L406.69,251.8 L406.96,254.72 L407.22,257.91 L407.48,261.35 L407.75,265 L408.01,268.83 L408.27,272.82 L408.54,276.91 L408.8,281.08 L409.06,285.3 L409.33,289.54 L409.59,293.75 L409.85,297.93 L410.12,302.03 L410.38,306.03 L410.64,309.92 L410.91,313.67 L411.17,317.27 L411.43,320.71 L411.7,323.97 L411.96,327.05 L412.23,329.95 L412.49,332.66 L412.75,335.18 L413.02,337.51 L413.28,339.66 L413.54,341.64 L413.81,343.44 L414.07,345.08 L414.33,346.56 L414.6,347.89 L414.86,349.09 L415.12,350.16 L415.39,351.11 L415.65,351.95 L415.91,352.69 L416.18,353.35 L416.44,353.91 L416.7,354.41 L416.97,354.84 L417.23,355.21 L417.49,355.53 L417.76,355.8 L418.02,356.03 L418.28,356.23 L418.55,356.4 L418.81,356.54 L419.07,356.66 L419.34,356.76 L419.6,356.84 L419.86,356.91 L420.13,356.96 L420.39,357.01 L420.65,357.05 L420.92,357.08 L421.18,357.1 L421.45,357.12 L421.71,357.14 L421.97,357.15 L422.24,357.16 L422.5,357.17 L422.76,357.18 L423.03,357.18 L423.29,357.19 L423.55,357.19 L423.82,357.19 L424.08,357.19 L424.34,357.2 L424.61,357.2 L424.87,357.2 L425.13,357.2 L425.4,357.2 L425.66,357.2 L425.92,357.2 L426.19,357.2 L426.45,357.2 L426.71,357.2 L426.98,357.2 L427.24,357.2 L427.5,357.2 L427.77,357.2 L428.03,357.2 L428.29,357.2 L428.56,357.2 L428.82,357.2 L429.08,357.2 L429.35,357.2 L429.61,357.2 L429.87,357.2 L430.14,357.2 L430.4,357.2 L430.67,357.2 L430.93,357.2 L431.19,357.2 L431.46,357.2 L431.72,357.2 L431.98,357.2 L432.25,357.2 L432.51,357.2 L432.77,357.2 L433.04,357.2 L433.3,357.2 L433.56,357.2 L433.83,357.2 L434.09,357.2 L434.35,357.2 L434.62,357.2 L434.88,357.2 L435.14,357.2 L435.41,357.2 L435.67,357.2 L435.93,357.2 L436.2,357.2 L436.46,357.2 L436.72,357.2 L436.99,357.2 L437.25,357.2 L437.51,357.2 L437.78,357.2 L438.04,357.2 L438.3,357.2 L438.57,357.2 L438.83,357.2 L439.09,357.2 L439.36,357.2 L439.62,357.2 L439.89,357.2 L440.15,357.2 L440.41,357.2 L440.68,357.2 L440.94,357.2 L441.2,357.2 L441.47,357.2 L441.73,357.2 L441.99,357.2 L442.26,357.2 L442.52,357.2 L442.78,357.2 L443.05,357.2 L443.31,357.2 L443.57,357.2 L443.84,357.2 L444.1,357.2" fill="none" stroke="#222" stroke-width="1"/>
<circle cx="293.95" cy="356.12" r="1.75" fill="#fff" stroke="#666" stroke-width="0.55"/>
<circle cx="296.58" cy="357.36" r="1.75" fill="#fff" stroke="#666" stroke-width="0.55"/>
<circle cx="299.21" cy="355.79" r="1.75" fill="#fff" stroke="#666" stroke-width="0.55"/>
<circle cx="301.85" cy="355.67" r="1.75" fill="#fff" stroke="#666" stroke-width="0.55"/>
<circle cx="304.48" cy="355.25" r="1.75" fill="#fff" stroke="#666" stroke-width="0.55"/>
<circle cx="307.12" cy="354.76" r="1.75" fill="#fff" stroke="#666" stroke-width="0.55"/>
<circle cx="309.75" cy="354.36" r="1.75" fill="#fff" stroke="#666" stroke-width="0.55"/>
<circle cx="312.39" cy="353.21" r="1.75" fill="#fff" stroke="#666" stroke-width="0.55"/>
<circle cx="315.02" cy="352.41" r="1.75" fill="#fff" stroke="#666" stroke-width="0.55"/>
<circle cx="317.65" cy="352.93" r="1.75" fill="#fff" stroke="#666" stroke-width="0.55"/>
<circle cx="320.29" cy="353.49" r="1.75" fill="#fff" stroke="#666" stroke-width="0.55"/>
<circle cx="322.92" cy="352.82" r="1.75" fill="#fff" stroke="#666" stroke-width="0.55"/>
<circle cx="325.56" cy="353.12" r="1.75" fill="#fff" stroke="#666" stroke-width="0.55"/>
<circle cx="328.19" cy="353.41" r="1.75" fill="#fff" stroke="#666" stroke-width="0.55"/>
<circle cx="330.83" cy="354.52" r="1.75" fill="#fff" stroke="#666" stroke-width="0.55"/>
<circle cx="333.46" cy="354.93" r="1.75" fill="#fff" stroke="#666" stroke-width="0.55"/>
<circle cx="336.09" cy="355.07" r="1.75" fill="#fff" stroke="#666" stroke-width="0.55"/>
<circle cx="338.73" cy="355.3" r="1.75" fill="#fff" stroke="#666" stroke-width="0.55"/>
<circle cx="341.36" cy="355.13" r="1.75" fill="#fff" stroke="#666" stroke-width="0.55"/>
<circle cx="344" cy="355.35" r="1.75" fill="#fff" stroke="#666" stroke-width="0.55"/>
<circle cx="346.63" cy="354.97" r="1.75" fill="#fff" stroke="#666" stroke-width="0.55"/>
<circle cx="349.27" cy="354.87" r="1.75" fill="#fff" stroke="#666" stroke-width="0.55"/>
<circle cx="351.9" cy="352.92" r="1.75" fill="#fff" stroke="#666" stroke-width="0.55"/>
<circle cx="354.53" cy="351.6" r="1.75" fill="#fff" stroke="#666" stroke-width="0.55"/>
<circle cx="357.17" cy="350.3" r="1.75" fill="#fff" stroke="#666" stroke-width="0.55"/>
<circle cx="359.8" cy="348.1" r="1.75" fill="#fff" stroke="#666" stroke-width="0.55"/>
<circle cx="362.44" cy="346.28" r="1.75" fill="#fff" stroke="#666" stroke-width="0.55"/>
<circle cx="365.07" cy="345.03" r="1.75" fill="#fff" stroke="#666" stroke-width="0.55"/>
<circle cx="367.71" cy="343.69" r="1.75" fill="#fff" stroke="#666" stroke-width="0.55"/>
<circle cx="370.34" cy="343.99" r="1.75" fill="#fff" stroke="#666" stroke-width="0.55"/>
<circle cx="372.97" cy="345.71" r="1.75" fill="#fff" stroke="#666" stroke-width="0.55"/>
<circle cx="375.61" cy="349.27" r="1.75" fill="#fff" stroke="#666" stroke-width="0.55"/>
<circle cx="378.24" cy="351.38" r="1.75" fill="#fff" stroke="#666" stroke-width="0.55"/>
<circle cx="380.88" cy="353.33" r="1.75" fill="#fff" stroke="#666" stroke-width="0.55"/>
<circle cx="383.51" cy="354.64" r="1.75" fill="#fff" stroke="#666" stroke-width="0.55"/>
<circle cx="386.15" cy="353.56" r="1.75" fill="#fff" stroke="#666" stroke-width="0.55"/>
<circle cx="388.78" cy="347.35" r="1.75" fill="#fff" stroke="#666" stroke-width="0.55"/>
<circle cx="391.41" cy="330.89" r="1.75" fill="#fff" stroke="#666" stroke-width="0.55"/>
<circle cx="394.05" cy="313.65" r="1.75" fill="#fff" stroke="#666" stroke-width="0.55"/>
<circle cx="396.68" cy="298.6" r="1.75" fill="#fff" stroke="#666" stroke-width="0.55"/>
<circle cx="399.32" cy="286.35" r="1.75" fill="#fff" stroke="#666" stroke-width="0.55"/>
<circle cx="401.95" cy="255.95" r="1.75" fill="#fff" stroke="#666" stroke-width="0.55"/>
<circle cx="404.59" cy="242.41" r="1.75" fill="#fff" stroke="#666" stroke-width="0.55"/>
<circle cx="407.22" cy="260.15" r="1.75" fill="#fff" stroke="#666" stroke-width="0.55"/>
<circle cx="409.85" cy="298.49" r="1.75" fill="#fff" stroke="#666" stroke-width="0.55"/>
<circle cx="412.49" cy="332.54" r="1.75" fill="#fff" stroke="#666" stroke-width="0.55"/>
<circle cx="415.12" cy="350.78" r="1.75" fill="#fff" stroke="#666" stroke-width="0.55"/>
<circle cx="417.76" cy="355.26" r="1.75" fill="#fff" stroke="#666" stroke-width="0.55"/>
<circle cx="420.39" cy="357.47" r="1.75" fill="#fff" stroke="#666" stroke-width="0.55"/>
</g>
<path d="M259.7,362.6 L259.7,219 L444.1,219" fill="none" stroke="#a6a6a6" stroke-width="1.6"/>
<line x1="258.9" y1="362.6" x2="444.1" y2="362.6" stroke="#6e6e6e" stroke-width="1.2"/>
<line x1="444.1" y1="218.5" x2="444.1" y2="363.1" stroke="#3c3c3c" stroke-width="1"/>
<line x1="286.04" y1="362.6" x2="286.04" y2="360" stroke="#555" stroke-width="0.8"/>
<text x="286.04" y="373.8" font-size="10" text-anchor="middle" font-weight="normal" fill="#000" >289</text>
<line x1="338.73" y1="362.6" x2="338.73" y2="360" stroke="#555" stroke-width="0.8"/>
<text x="338.73" y="373.8" font-size="10" text-anchor="middle" font-weight="normal" fill="#000" >287</text>
<line x1="391.41" y1="362.6" x2="391.41" y2="360" stroke="#555" stroke-width="0.8"/>
<text x="391.41" y="373.8" font-size="10" text-anchor="middle" font-weight="normal" fill="#000" >285</text>
<line x1="444.1" y1="362.6" x2="444.1" y2="360" stroke="#555" stroke-width="0.8"/>
<text x="444.1" y="373.8" font-size="10" text-anchor="middle" font-weight="normal" fill="#000" >283</text>
<line x1="312.39" y1="362.6" x2="312.39" y2="361" stroke="#555" stroke-width="0.7"/>
<line x1="365.07" y1="362.6" x2="365.07" y2="361" stroke="#555" stroke-width="0.7"/>
<line x1="417.76" y1="362.6" x2="417.76" y2="361" stroke="#555" stroke-width="0.7"/>
<text x="264.5" y="229.5" font-size="9.6" text-anchor="start" font-weight="normal" fill="#000" >CQDs-OH</text>
<text x="439.8" y="229.5" font-size="9.6" text-anchor="end" font-weight="normal" fill="#000" >C 1s</text>
<text x="357.7" y="385.6" font-size="12.35" text-anchor="middle" font-weight="normal" fill="#000" >Binding energy (eV)</text>
<text transform="translate(254.3,291.4) rotate(-90)" font-size="12.6" text-anchor="middle" fill="#000">Intensity (a.u.)</text>
<circle cx="617.6" cy="225.8" r="1.75" fill="#fff" stroke="#666" stroke-width="0.55"/>
<g clip-path="url(#clip3)">
<path d="M606.75,353.7 L606.75,353.69 L607.14,353.68 L607.54,353.67 L607.93,353.66 L608.33,353.64 L608.72,353.61 L609.12,353.57 L609.51,353.52 L609.91,353.45 L610.3,353.36 L610.7,353.23 L611.09,353.07 L611.49,352.87 L611.88,352.6 L612.28,352.27 L612.67,351.85 L613.07,351.34 L613.46,350.72 L613.86,349.97 L614.26,349.07 L614.65,348.02 L615.05,346.79 L615.44,345.39 L615.84,343.8 L616.23,342.02 L616.63,340.06 L617.02,337.94 L617.42,335.66 L617.81,333.26 L618.21,330.76 L618.6,328.23 L619,325.69 L619.39,323.2 L619.79,320.83 L620.18,318.62 L620.58,316.64 L620.97,314.93 L621.37,313.55 L621.76,312.53 L622.16,311.91 L622.55,311.7 L622.95,311.91 L623.34,312.53 L623.74,313.55 L624.13,314.93 L624.53,316.64 L624.92,318.62 L625.32,320.83 L625.71,323.2 L626.11,325.69 L626.5,328.23 L626.9,330.76 L627.29,333.26 L627.69,335.66 L628.09,337.94 L628.48,340.06 L628.88,342.02 L629.27,343.8 L629.67,345.39 L630.06,346.79 L630.46,348.02 L630.85,349.07 L631.25,349.97 L631.64,350.72 L632.04,351.34 L632.43,351.85 L632.83,352.27 L633.22,352.6 L633.62,352.87 L634.01,353.07 L634.41,353.23 L634.8,353.36 L635.2,353.45 L635.59,353.52 L635.99,353.57 L636.38,353.61 L636.78,353.64 L637.17,353.66 L637.57,353.67 L637.96,353.68 L638.36,353.69 L638.36,353.7 Z" fill="#fbc191" fill-opacity="0.5"/>
<path d="M594.1,353.7 L594.1,353.66 L594.63,353.65 L595.16,353.62 L595.68,353.59 L596.21,353.54 L596.74,353.47 L597.26,353.37 L597.79,353.24 L598.32,353.06 L598.84,352.83 L599.37,352.52 L599.9,352.11 L600.43,351.59 L600.95,350.92 L601.48,350.07 L602.01,349.02 L602.53,347.72 L603.06,346.14 L603.59,344.23 L604.11,341.96 L604.64,339.29 L605.17,336.18 L605.69,332.62 L606.22,328.59 L606.75,324.09 L607.27,319.12 L607.8,313.73 L608.33,307.95 L608.85,301.86 L609.38,295.54 L609.91,289.1 L610.44,282.67 L610.96,276.37 L611.49,270.34 L612.02,264.74 L612.54,259.71 L613.07,255.39 L613.6,251.89 L614.12,249.31 L614.65,247.73 L615.18,247.2 L615.7,247.73 L616.23,249.31 L616.76,251.89 L617.28,255.39 L617.81,259.71 L618.34,264.74 L618.87,270.34 L619.39,276.37 L619.92,282.67 L620.45,289.1 L620.97,295.54 L621.5,301.86 L622.03,307.95 L622.55,313.73 L623.08,319.12 L623.61,324.09 L624.13,328.59 L624.66,332.62 L625.19,336.18 L625.71,339.29 L626.24,341.96 L626.77,344.23 L627.29,346.14 L627.82,347.72 L628.35,349.02 L628.88,350.07 L629.4,350.92 L629.93,351.59 L630.46,352.11 L630.98,352.52 L631.51,352.83 L632.04,353.06 L632.56,353.24 L633.09,353.37 L633.62,353.47 L634.14,353.54 L634.67,353.59 L635.2,353.62 L635.72,353.65 L636.25,353.66 L636.25,353.7 Z" fill="#f99195" fill-opacity="0.5"/>
<path d="M552.74,353.7 L552.74,353.69 L553.53,353.69 L554.33,353.68 L555.12,353.67 L555.91,353.66 L556.7,353.65 L557.49,353.62 L558.28,353.59 L559.07,353.55 L559.86,353.5 L560.65,353.42 L561.44,353.33 L562.23,353.2 L563.02,353.05 L563.81,352.85 L564.6,352.6 L565.39,352.3 L566.18,351.92 L566.97,351.48 L567.76,350.94 L568.55,350.32 L569.34,349.59 L570.13,348.75 L570.92,347.81 L571.71,346.75 L572.5,345.58 L573.29,344.32 L574.08,342.96 L574.87,341.53 L575.66,340.05 L576.45,338.54 L577.24,337.03 L578.03,335.55 L578.82,334.13 L579.61,332.82 L580.4,331.64 L581.19,330.62 L581.99,329.8 L582.78,329.2 L583.57,328.82 L584.36,328.7 L585.15,328.82 L585.94,329.2 L586.73,329.8 L587.52,330.62 L588.31,331.64 L589.1,332.82 L589.89,334.13 L590.68,335.55 L591.47,337.03 L592.26,338.54 L593.05,340.05 L593.84,341.53 L594.63,342.96 L595.42,344.32 L596.21,345.58 L597,346.75 L597.79,347.81 L598.58,348.75 L599.37,349.59 L600.16,350.32 L600.95,350.94 L601.74,351.48 L602.53,351.92 L603.32,352.3 L604.11,352.6 L604.9,352.85 L605.69,353.05 L606.48,353.2 L607.27,353.33 L608.06,353.42 L608.85,353.5 L609.65,353.55 L610.44,353.59 L611.23,353.62 L612.02,353.65 L612.81,353.66 L613.6,353.67 L614.39,353.68 L615.18,353.69 L615.97,353.69 L615.97,353.7 Z" fill="#8b97f5" fill-opacity="0.5"/>
<path d="M541.42,353.7 L541.42,353.7 L542.21,353.7 L543,353.7 L543.79,353.69 L544.58,353.69 L545.37,353.69 L546.16,353.68 L546.95,353.67 L547.74,353.66 L548.53,353.65 L549.32,353.63 L550.11,353.61 L550.9,353.58 L551.69,353.54 L552.48,353.5 L553.27,353.44 L554.06,353.36 L554.85,353.27 L555.64,353.17 L556.43,353.04 L557.22,352.89 L558.01,352.71 L558.8,352.51 L559.59,352.29 L560.38,352.03 L561.17,351.75 L561.96,351.45 L562.75,351.12 L563.55,350.78 L564.34,350.42 L565.13,350.06 L565.92,349.7 L566.71,349.34 L567.5,349 L568.29,348.69 L569.08,348.41 L569.87,348.16 L570.66,347.96 L571.45,347.82 L572.24,347.73 L573.03,347.7 L573.82,347.73 L574.61,347.82 L575.4,347.96 L576.19,348.16 L576.98,348.41 L577.77,348.69 L578.56,349 L579.35,349.34 L580.14,349.7 L580.93,350.06 L581.72,350.42 L582.51,350.78 L583.3,351.12 L584.09,351.45 L584.88,351.75 L585.67,352.03 L586.46,352.29 L587.25,352.51 L588.04,352.71 L588.83,352.89 L589.62,353.04 L590.41,353.17 L591.21,353.27 L592,353.36 L592.79,353.44 L593.58,353.5 L594.37,353.54 L595.16,353.58 L595.95,353.61 L596.74,353.63 L597.53,353.65 L598.32,353.66 L599.11,353.67 L599.9,353.68 L600.69,353.69 L601.48,353.69 L602.27,353.69 L603.06,353.7 L603.85,353.7 L604.64,353.7 L604.64,353.7 Z" fill="#a5e1f9" fill-opacity="0.5"/>
<path d="M494,353.7 L494.26,353.7 L494.53,353.7 L494.79,353.7 L495.05,353.7 L495.32,353.7 L495.58,353.7 L495.84,353.7 L496.11,353.7 L496.37,353.7 L496.63,353.7 L496.9,353.7 L497.16,353.7 L497.42,353.7 L497.69,353.7 L497.95,353.7 L498.21,353.7 L498.48,353.7 L498.74,353.7 L499.01,353.7 L499.27,353.7 L499.53,353.7 L499.8,353.7 L500.06,353.7 L500.32,353.7 L500.59,353.7 L500.85,353.7 L501.11,353.7 L501.38,353.7 L501.64,353.7 L501.9,353.7 L502.17,353.7 L502.43,353.7 L502.69,353.7 L502.96,353.7 L503.22,353.7 L503.48,353.7 L503.75,353.7 L504.01,353.7 L504.27,353.7 L504.54,353.7 L504.8,353.7 L505.06,353.7 L505.33,353.7 L505.59,353.7 L505.85,353.7 L506.12,353.7 L506.38,353.7 L506.64,353.7 L506.91,353.7 L507.17,353.7 L507.43,353.7 L507.7,353.7 L507.96,353.7 L508.23,353.7 L508.49,353.7 L508.75,353.7 L509.02,353.7 L509.28,353.7 L509.54,353.7 L509.81,353.7 L510.07,353.7 L510.33,353.7 L510.6,353.7 L510.86,353.7 L511.12,353.7 L511.39,353.7 L511.65,353.7 L511.91,353.7 L512.18,353.7 L512.44,353.7 L512.7,353.7 L512.97,353.7 L513.23,353.7 L513.49,353.7 L513.76,353.7 L514.02,353.7 L514.28,353.7 L514.55,353.7 L514.81,353.7 L515.07,353.7 L515.34,353.7 L515.6,353.7 L515.86,353.7 L516.13,353.7 L516.39,353.7 L516.65,353.7 L516.92,353.7 L517.18,353.7 L517.45,353.7 L517.71,353.7 L517.97,353.7 L518.24,353.7 L518.5,353.7 L518.76,353.7 L519.03,353.7 L519.29,353.7 L519.55,353.7 L519.82,353.7 L520.08,353.7 L520.34,353.7 L520.61,353.7 L520.87,353.7 L521.13,353.7 L521.4,353.7 L521.66,353.7 L521.92,353.7 L522.19,353.7 L522.45,353.7 L522.71,353.7 L522.98,353.7 L523.24,353.7 L523.5,353.7 L523.77,353.7 L524.03,353.7 L524.29,353.7 L524.56,353.7 L524.82,353.7 L525.08,353.7 L525.35,353.7 L525.61,353.7 L525.87,353.7 L526.14,353.7 L526.4,353.7 L526.67,353.7 L526.93,353.7 L527.19,353.7 L527.46,353.7 L527.72,353.7 L527.98,353.7 L528.25,353.7 L528.51,353.7 L528.77,353.7 L529.04,353.7 L529.3,353.7 L529.56,353.7 L529.83,353.7 L530.09,353.7 L530.35,353.7 L530.62,353.7 L530.88,353.7 L531.14,353.7 L531.41,353.7 L531.67,353.7 L531.93,353.7 L532.2,353.7 L532.46,353.7 L532.72,353.7 L532.99,353.7 L533.25,353.7 L533.51,353.7 L533.78,353.7 L534.04,353.7 L534.3,353.7 L534.57,353.7 L534.83,353.7 L535.09,353.7 L535.36,353.7 L535.62,353.7 L535.89,353.7 L536.15,353.7 L536.41,353.7 L536.68,353.7 L536.94,353.7 L537.2,353.7 L537.47,353.7 L537.73,353.7 L537.99,353.7 L538.26,353.7 L538.52,353.7 L538.78,353.7 L539.05,353.7 L539.31,353.7 L539.57,353.7 L539.84,353.7 L540.1,353.7 L540.36,353.7 L540.63,353.7 L540.89,353.7 L541.15,353.7 L541.42,353.7 L541.68,353.7 L541.94,353.7 L542.21,353.7 L542.47,353.7 L542.73,353.7 L543,353.7 L543.26,353.69 L543.52,353.69 L543.79,353.69 L544.05,353.69 L544.31,353.69 L544.58,353.69 L544.84,353.69 L545.11,353.69 L545.37,353.69 L545.63,353.69 L545.9,353.68 L546.16,353.68 L546.42,353.68 L546.69,353.68 L546.95,353.67 L547.21,353.67 L547.48,353.67 L547.74,353.66 L548,353.66 L548.27,353.65 L548.53,353.65 L548.79,353.64 L549.06,353.64 L549.32,353.63 L549.58,353.62 L549.85,353.62 L550.11,353.61 L550.37,353.6 L550.64,353.59 L550.9,353.58 L551.16,353.57 L551.43,353.55 L551.69,353.54 L551.95,353.52 L552.22,353.51 L552.48,353.49 L552.74,353.47 L553.01,353.45 L553.27,353.43 L553.53,353.4 L553.8,353.38 L554.06,353.35 L554.33,353.32 L554.59,353.28 L554.85,353.25 L555.12,353.21 L555.38,353.17 L555.64,353.13 L555.91,353.09 L556.17,353.04 L556.43,352.99 L556.7,352.94 L556.96,352.88 L557.22,352.82 L557.49,352.76 L557.75,352.69 L558.01,352.62 L558.28,352.54 L558.54,352.46 L558.8,352.38 L559.07,352.29 L559.33,352.2 L559.59,352.1 L559.86,352 L560.12,351.89 L560.38,351.78 L560.65,351.66 L560.91,351.54 L561.17,351.41 L561.44,351.28 L561.7,351.14 L561.96,351 L562.23,350.85 L562.49,350.69 L562.75,350.53 L563.02,350.36 L563.28,350.18 L563.55,350 L563.81,349.81 L564.07,349.62 L564.34,349.41 L564.6,349.2 L564.86,348.99 L565.13,348.77 L565.39,348.54 L565.65,348.3 L565.92,348.05 L566.18,347.8 L566.44,347.54 L566.71,347.28 L566.97,347 L567.23,346.72 L567.5,346.44 L567.76,346.14 L568.02,345.84 L568.29,345.52 L568.55,345.21 L568.81,344.88 L569.08,344.55 L569.34,344.21 L569.6,343.86 L569.87,343.5 L570.13,343.14 L570.39,342.77 L570.66,342.4 L570.92,342.02 L571.18,341.63 L571.45,341.23 L571.71,340.83 L571.97,340.43 L572.24,340.01 L572.5,339.6 L572.77,339.18 L573.03,338.75 L573.29,338.32 L573.56,337.89 L573.82,337.45 L574.08,337.01 L574.35,336.57 L574.61,336.13 L574.87,335.69 L575.14,335.25 L575.4,334.81 L575.66,334.37 L575.93,333.94 L576.19,333.5 L576.45,333.07 L576.72,332.65 L576.98,332.23 L577.24,331.82 L577.51,331.42 L577.77,331.02 L578.03,330.64 L578.3,330.26 L578.56,329.9 L578.82,329.55 L579.09,329.21 L579.35,328.89 L579.61,328.58 L579.88,328.29 L580.14,328.01 L580.4,327.76 L580.67,327.52 L580.93,327.3 L581.19,327.1 L581.46,326.93 L581.72,326.77 L581.99,326.64 L582.25,326.54 L582.51,326.45 L582.78,326.39 L583.04,326.35 L583.3,326.34 L583.57,326.36 L583.83,326.4 L584.09,326.46 L584.36,326.55 L584.62,326.67 L584.88,326.81 L585.15,326.97 L585.41,327.16 L585.67,327.38 L585.94,327.61 L586.2,327.88 L586.46,328.16 L586.73,328.46 L586.99,328.79 L587.25,329.14 L587.52,329.5 L587.78,329.89 L588.04,330.29 L588.31,330.71 L588.57,331.15 L588.83,331.6 L589.1,332.06 L589.36,332.53 L589.62,333.02 L589.89,333.51 L590.15,334.02 L590.41,334.53 L590.68,335.05 L590.94,335.57 L591.21,336.1 L591.47,336.63 L591.73,337.16 L592,337.69 L592.26,338.22 L592.52,338.75 L592.79,339.27 L593.05,339.79 L593.31,340.3 L593.58,340.81 L593.84,341.31 L594.1,341.81 L594.37,342.29 L594.63,342.76 L594.89,343.23 L595.16,343.68 L595.42,344.11 L595.68,344.54 L595.95,344.95 L596.21,345.34 L596.47,345.71 L596.74,346.07 L597,346.41 L597.26,346.73 L597.53,347.03 L597.79,347.3 L598.05,347.55 L598.32,347.78 L598.58,347.97 L598.84,348.14 L599.11,348.28 L599.37,348.38 L599.63,348.45 L599.9,348.48 L600.16,348.47 L600.43,348.41 L600.69,348.3 L600.95,348.15 L601.22,347.94 L601.48,347.67 L601.74,347.34 L602.01,346.95 L602.27,346.48 L602.53,345.94 L602.8,345.32 L603.06,344.61 L603.32,343.82 L603.59,342.93 L603.85,341.95 L604.11,340.86 L604.38,339.66 L604.64,338.36 L604.9,336.94 L605.17,335.4 L605.43,333.74 L605.69,331.96 L605.96,330.06 L606.22,328.04 L606.48,325.89 L606.75,323.62 L607.01,321.23 L607.27,318.73 L607.54,316.11 L607.8,313.38 L608.06,310.56 L608.33,307.64 L608.59,304.63 L608.85,301.55 L609.12,298.41 L609.38,295.21 L609.65,291.98 L609.91,288.72 L610.17,285.45 L610.44,282.18 L610.7,278.93 L610.96,275.71 L611.23,272.54 L611.49,269.44 L611.75,266.42 L612.02,263.49 L612.28,260.67 L612.54,257.97 L612.81,255.41 L613.07,253 L613.33,250.74 L613.6,248.64 L613.86,246.72 L614.12,244.97 L614.39,243.41 L614.65,242.03 L614.91,240.84 L615.18,239.83 L615.44,239.01 L615.7,238.37 L615.97,237.91 L616.23,237.62 L616.49,237.51 L616.76,237.55 L617.02,237.76 L617.28,238.12 L617.55,238.62 L617.81,239.27 L618.07,240.05 L618.34,240.96 L618.6,242 L618.87,243.17 L619.13,244.46 L619.39,245.87 L619.66,247.39 L619.92,249.03 L620.18,250.8 L620.45,252.67 L620.71,254.66 L620.97,256.77 L621.24,258.99 L621.5,261.33 L621.76,263.77 L622.03,266.32 L622.29,268.98 L622.55,271.73 L622.82,274.57 L623.08,277.5 L623.34,280.49 L623.61,283.56 L623.87,286.67 L624.13,289.82 L624.4,293 L624.66,296.19 L624.92,299.38 L625.19,302.55 L625.45,305.69 L625.71,308.79 L625.98,311.82 L626.24,314.79 L626.5,317.67 L626.77,320.45 L627.03,323.13 L627.29,325.69 L627.56,328.14 L627.82,330.45 L628.09,332.64 L628.35,334.69 L628.61,336.61 L628.88,338.4 L629.14,340.05 L629.4,341.57 L629.67,342.96 L629.93,344.23 L630.19,345.38 L630.46,346.43 L630.72,347.36 L630.98,348.2 L631.25,348.95 L631.51,349.61 L631.77,350.19 L632.04,350.71 L632.3,351.15 L632.56,351.54 L632.83,351.88 L633.09,352.17 L633.35,352.42 L633.62,352.63 L633.88,352.81 L634.14,352.97 L634.41,353.1 L634.67,353.21 L634.93,353.3 L635.2,353.37 L635.46,353.43 L635.72,353.48 L635.99,353.53 L636.25,353.56 L636.51,353.59 L636.78,353.61 L637.04,353.63 L637.31,353.64 L637.57,353.66 L637.83,353.67 L638.1,353.67 L638.36,353.68 L638.62,353.68 L638.89,353.69 L639.15,353.69 L639.41,353.69 L639.68,353.69 L639.94,353.7 L640.2,353.7 L640.47,353.7 L640.73,353.7 L640.99,353.7 L641.26,353.7 L641.52,353.7 L641.78,353.7 L642.05,353.7 L642.31,353.7 L642.57,353.7 L642.84,353.7 L643.1,353.7 L643.36,353.7 L643.63,353.7 L643.89,353.7 L644.15,353.7 L644.42,353.7 L644.68,353.7 L644.94,353.7 L645.21,353.7 L645.47,353.7 L645.73,353.7 L646,353.7 L646.26,353.7 L646.53,353.7 L646.79,353.7 L647.05,353.7 L647.32,353.7 L647.58,353.7 L647.84,353.7 L648.11,353.7 L648.37,353.7 L648.63,353.7 L648.9,353.7 L649.16,353.7 L649.42,353.7 L649.69,353.7 L649.95,353.7 L650.21,353.7 L650.48,353.7 L650.74,353.7 L651,353.7 L651.27,353.7 L651.53,353.7 L651.79,353.7 L652.06,353.7 L652.32,353.7 L652.58,353.7 L652.85,353.7 L653.11,353.7 L653.37,353.7 L653.64,353.7 L653.9,353.7 L654.16,353.7 L654.43,353.7 L654.69,353.7 L654.95,353.7 L655.22,353.7 L655.48,353.7 L655.75,353.7 L656.01,353.7 L656.27,353.7 L656.54,353.7 L656.8,353.7 L657.06,353.7 L657.33,353.7 L657.59,353.7 L657.85,353.7 L658.12,353.7 L658.38,353.7 L658.64,353.7 L658.91,353.7 L659.17,353.7 L659.43,353.7 L659.7,353.7 L659.96,353.7 L660.22,353.7 L660.49,353.7 L660.75,353.7 L661.01,353.7 L661.28,353.7 L661.54,353.7 L661.8,353.7 L662.07,353.7 L662.33,353.7 L662.59,353.7 L662.86,353.7 L663.12,353.7 L663.38,353.7 L663.65,353.7 L663.91,353.7 L664.17,353.7 L664.44,353.7 L664.7,353.7 L664.97,353.7 L665.23,353.7 L665.49,353.7 L665.76,353.7 L666.02,353.7 L666.28,353.7 L666.55,353.7 L666.81,353.7 L667.07,353.7 L667.34,353.7 L667.6,353.7 L667.86,353.7 L668.13,353.7 L668.39,353.7 L668.65,353.7 L668.92,353.7 L669.18,353.7 L669.44,353.7 L669.71,353.7 L669.97,353.7 L670.23,353.7 L670.5,353.7 L670.76,353.7 L671.02,353.7 L671.29,353.7 L671.55,353.7 L671.81,353.7 L672.08,353.7 L672.34,353.7 L672.6,353.7 L672.87,353.7 L673.13,353.7 L673.39,353.7 L673.66,353.7 L673.92,353.7 L674.19,353.7 L674.45,353.7 L674.71,353.7 L674.98,353.7 L675.24,353.7 L675.5,353.7 L675.77,353.7 L676.03,353.7 L676.29,353.7 L676.56,353.7 L676.82,353.7 L677.08,353.7 L677.35,353.7 L677.61,353.7 L677.87,353.7 L678.14,353.7 L678.4,353.7" fill="none" stroke="#222" stroke-width="1"/>
<circle cx="554.59" cy="353.7" r="1.75" fill="#fff" stroke="#666" stroke-width="0.55"/>
<circle cx="557.22" cy="353.02" r="1.75" fill="#fff" stroke="#666" stroke-width="0.55"/>
<circle cx="559.86" cy="351.84" r="1.75" fill="#fff" stroke="#666" stroke-width="0.55"/>
<circle cx="562.49" cy="351.41" r="1.75" fill="#fff" stroke="#666" stroke-width="0.55"/>
<circle cx="565.13" cy="349.23" r="1.75" fill="#fff" stroke="#666" stroke-width="0.55"/>
<circle cx="567.76" cy="345.36" r="1.75" fill="#fff" stroke="#666" stroke-width="0.55"/>
<circle cx="570.39" cy="342.25" r="1.75" fill="#fff" stroke="#666" stroke-width="0.55"/>
<circle cx="573.03" cy="338.84" r="1.75" fill="#fff" stroke="#666" stroke-width="0.55"/>
<circle cx="575.66" cy="333.73" r="1.75" fill="#fff" stroke="#666" stroke-width="0.55"/>
<circle cx="578.3" cy="329.89" r="1.75" fill="#fff" stroke="#666" stroke-width="0.55"/>
<circle cx="580.93" cy="327.72" r="1.75" fill="#fff" stroke="#666" stroke-width="0.55"/>
<circle cx="583.57" cy="325.8" r="1.75" fill="#fff" stroke="#666" stroke-width="0.55"/>
<circle cx="586.2" cy="328.92" r="1.75" fill="#fff" stroke="#666" stroke-width="0.55"/>
<circle cx="588.83" cy="331.05" r="1.75" fill="#fff" stroke="#666" stroke-width="0.55"/>
<circle cx="591.47" cy="335.89" r="1.75" fill="#fff" stroke="#666" stroke-width="0.55"/>
<circle cx="594.1" cy="341.16" r="1.75" fill="#fff" stroke="#666" stroke-width="0.55"/>
<circle cx="596.74" cy="346.1" r="1.75" fill="#fff" stroke="#666" stroke-width="0.55"/>
<circle cx="599.37" cy="348.33" r="1.75" fill="#fff" stroke="#666" stroke-width="0.55"/>
<circle cx="602.01" cy="346.51" r="1.75" fill="#fff" stroke="#666" stroke-width="0.55"/>
<circle cx="604.64" cy="339.2" r="1.75" fill="#fff" stroke="#666" stroke-width="0.55"/>
<circle cx="607.27" cy="318.12" r="1.75" fill="#fff" stroke="#666" stroke-width="0.55"/>
<circle cx="609.91" cy="289.29" r="1.75" fill="#fff" stroke="#666" stroke-width="0.55"/>
<circle cx="612.54" cy="258.62" r="1.75" fill="#fff" stroke="#666" stroke-width="0.55"/>
<circle cx="615.18" cy="239.49" r="1.75" fill="#fff" stroke="#666" stroke-width="0.55"/>
<circle cx="617.81" cy="236.36" r="1.75" fill="#fff" stroke="#666" stroke-width="0.55"/>
<circle cx="620.45" cy="249.78" r="1.75" fill="#fff" stroke="#666" stroke-width="0.55"/>
<circle cx="623.08" cy="274.68" r="1.75" fill="#fff" stroke="#666" stroke-width="0.55"/>
<circle cx="625.71" cy="309.42" r="1.75" fill="#fff" stroke="#666" stroke-width="0.55"/>
<circle cx="628.35" cy="333.59" r="1.75" fill="#fff" stroke="#666" stroke-width="0.55"/>
<circle cx="630.98" cy="347.53" r="1.75" fill="#fff" stroke="#666" stroke-width="0.55"/>
<circle cx="633.62" cy="352.31" r="1.75" fill="#fff" stroke="#666" stroke-width="0.55"/>
<circle cx="636.25" cy="353.03" r="1.75" fill="#fff" stroke="#666" stroke-width="0.55"/>
<circle cx="638.89" cy="354.03" r="1.75" fill="#fff" stroke="#666" stroke-width="0.55"/>
<circle cx="641.52" cy="353.13" r="1.75" fill="#fff" stroke="#666" stroke-width="0.55"/>
<circle cx="644.15" cy="354.36" r="1.75" fill="#fff" stroke="#666" stroke-width="0.55"/>
</g>
<path d="M494,362.5 L494,219 L678.4,219" fill="none" stroke="#a6a6a6" stroke-width="1.6"/>
<line x1="493.2" y1="362.5" x2="678.4" y2="362.5" stroke="#6e6e6e" stroke-width="1.2"/>
<line x1="678.4" y1="218.5" x2="678.4" y2="363" stroke="#3c3c3c" stroke-width="1"/>
<line x1="520.34" y1="362.5" x2="520.34" y2="359.9" stroke="#555" stroke-width="0.8"/>
<text x="520.34" y="373.7" font-size="10" text-anchor="middle" font-weight="normal" fill="#000" >288</text>
<line x1="573.03" y1="362.5" x2="573.03" y2="359.9" stroke="#555" stroke-width="0.8"/>
<text x="573.03" y="373.7" font-size="10" text-anchor="middle" font-weight="normal" fill="#000" >286</text>
<line x1="625.71" y1="362.5" x2="625.71" y2="359.9" stroke="#555" stroke-width="0.8"/>
<text x="625.71" y="373.7" font-size="10" text-anchor="middle" font-weight="normal" fill="#000" >284</text>
<line x1="678.4" y1="362.5" x2="678.4" y2="359.9" stroke="#555" stroke-width="0.8"/>
<text x="678.4" y="373.7" font-size="10" text-anchor="middle" font-weight="normal" fill="#000" >282</text>
<line x1="546.69" y1="362.5" x2="546.69" y2="360.9" stroke="#555" stroke-width="0.7"/>
<line x1="599.37" y1="362.5" x2="599.37" y2="360.9" stroke="#555" stroke-width="0.7"/>
<line x1="652.06" y1="362.5" x2="652.06" y2="360.9" stroke="#555" stroke-width="0.7"/>
<text x="498.8" y="229.5" font-size="9.6" text-anchor="start" font-weight="normal" fill="#000" >CQDs-CHO</text>
<text x="674.1" y="229.5" font-size="9.6" text-anchor="end" font-weight="normal" fill="#000" >C 1s</text>
<text x="592.7" y="385.5" font-size="12.35" text-anchor="middle" font-weight="normal" fill="#000" >Binding energy (eV)</text>
<text transform="translate(488.6,291.35) rotate(-90)" font-size="12.6" text-anchor="middle" fill="#000">Intensity (a.u.)</text>
<circle cx="80.3" cy="403.6" r="2.1" fill="#fff" stroke="#444" stroke-width="0.6"/>
<text x="86.6" y="407" font-size="9.62" text-anchor="start" font-weight="normal" fill="#000" >Simulated core-level spectra</text>
<line x1="222.4" y1="404.2" x2="240.8" y2="404.2" stroke="#111" stroke-width="1.4"/>
<text x="245.6" y="407" font-size="9.65" text-anchor="start" font-weight="normal" fill="#000" >Fitting data</text>
<rect x="388.8" y="399.1" width="17" height="8.6" fill="#a5e1f9" fill-opacity="0.5" stroke="#a5e1f9" stroke-opacity="0.5" stroke-width="0.6"/>
<text x="410.8" y="407" font-size="9.65" text-anchor="start" font-weight="normal" fill="#000" >C=O</text>
<rect x="454" y="399.1" width="17" height="8.6" fill="#8b97f5" fill-opacity="0.5" stroke="#8b97f5" stroke-opacity="0.5" stroke-width="0.6"/>
<text x="476" y="407" font-size="9.65" text-anchor="start" font-weight="normal" fill="#000" >C-O</text>
<rect x="518.1" y="399.1" width="17" height="8.6" fill="#f99195" fill-opacity="0.5" stroke="#f99195" stroke-opacity="0.5" stroke-width="0.6"/>
<text x="540.1" y="407" font-size="9.65" text-anchor="start" font-weight="normal" fill="#000" >C-C</text>
<rect x="582.3" y="399.1" width="17" height="8.6" fill="#fbc191" fill-opacity="0.5" stroke="#fbc191" stroke-opacity="0.5" stroke-width="0.6"/>
<text x="604.3" y="407" font-size="9.65" text-anchor="start" font-weight="normal" fill="#000" >C=C</text>
<rect x="60.4" y="551.85" width="62.2" height="26.45" fill="#f2f3fe"/>
<rect x="122.6" y="498.95" width="60.7" height="79.35" fill="#f2f3fe"/>
<rect x="183.3" y="472.5" width="61.9" height="105.8" fill="#f2f3fe"/>
<rect x="245.2" y="525.4" width="61.4" height="52.9" fill="#f2f3fe"/>
<rect x="106.3" y="525.4" width="61.1" height="52.9" fill="url(#ho)" fill-opacity="0.85" stroke="#fbc7a6" stroke-width="0.7"/>
<rect x="229.4" y="446.05" width="61.5" height="132.25" fill="url(#ho)" fill-opacity="0.85" stroke="#fbc7a6" stroke-width="0.7"/>
<rect x="290.9" y="525.4" width="61.7" height="52.9" fill="url(#ho)" fill-opacity="0.85" stroke="#fbc7a6" stroke-width="0.7"/>
<rect x="106.3" y="551.85" width="61.1" height="26.45" fill="url(#hp)" fill-opacity="0.85" stroke="#f8aeb4" stroke-width="0.7"/>
<rect x="167.4" y="472.5" width="62" height="105.8" fill="url(#hp)" fill-opacity="0.85" stroke="#f8aeb4" stroke-width="0.7"/>
<rect x="229.4" y="525.4" width="61.5" height="52.9" fill="url(#hp)" fill-opacity="0.85" stroke="#f8aeb4" stroke-width="0.7"/>
<rect x="290.9" y="498.95" width="61.7" height="79.35" fill="url(#hp)" fill-opacity="0.85" stroke="#f8aeb4" stroke-width="0.7"/>
<rect x="60.4" y="551.85" width="62.2" height="26.45" fill="url(#hb)" fill-opacity="0.85" stroke="#b4bbf6" stroke-width="0.7"/>
<rect x="122.6" y="498.95" width="60.7" height="79.35" fill="url(#hb)" fill-opacity="0.85" stroke="#b4bbf6" stroke-width="0.7"/>
<rect x="183.3" y="472.5" width="61.9" height="105.8" fill="url(#hb)" fill-opacity="0.85" stroke="#b4bbf6" stroke-width="0.7"/>
<rect x="245.2" y="525.4" width="61.4" height="52.9" fill="url(#hb)" fill-opacity="0.85" stroke="#b4bbf6" stroke-width="0.7"/>
<rect x="373.2" y="498.95" width="61.3" height="26.45" fill="#fde5d6" stroke="#f9bf98" stroke-width="0.8"/>
<rect x="373.2" y="525.4" width="61.3" height="26.45" fill="#fddde1" stroke="#f7a9af" stroke-width="0.8"/>
<rect x="373.2" y="551.85" width="61.3" height="26.45" fill="#dcdffb" stroke="#a9b1f6" stroke-width="0.8"/>
<line x1="371.8" y1="437.2" x2="371.8" y2="578" stroke="#555" stroke-width="1" stroke-dasharray="2.2,1.2"/>
<path d="M136.82,562.27 L138.36,562.24 L139.9,562.21 L141.44,562.17 L142.98,562.13 L144.52,562.08 L146.06,562.02 L147.59,561.96 L149.13,561.89 L150.67,561.8 L152.21,561.71 L153.75,561.6 L155.29,561.47 L156.83,561.33 L158.36,561.18 L159.9,561 L161.44,560.8 L162.98,560.58 L164.52,560.33 L166.06,560.05 L167.59,559.74 L169.13,559.4 L170.67,559.02 L172.21,558.61 L173.75,558.14 L175.29,557.64 L176.83,557.08 L178.36,556.47 L179.9,555.81 L181.44,555.08 L182.98,554.29 L184.52,553.44 L186.06,552.51 L187.6,551.52 L189.13,550.44 L190.67,549.29 L192.21,548.06 L193.75,546.74 L195.29,545.33 L196.83,543.84 L198.36,542.25 L199.9,540.57 L201.44,538.81 L202.98,536.95 L204.52,535 L206.06,532.96 L207.6,530.83 L209.13,528.61 L210.67,526.31 L212.21,523.94 L213.75,521.49 L215.29,518.97 L216.83,516.38 L218.36,513.75 L219.9,511.06 L221.44,508.34 L222.98,505.58 L224.52,502.8 L226.06,500.02 L227.6,497.23 L229.13,494.46 L230.67,491.71 L232.21,488.99 L233.75,486.33 L235.29,483.73 L236.83,481.2 L238.37,478.76 L239.9,476.41 L241.44,474.18 L242.98,472.07 L244.52,470.1 L246.06,468.27 L247.6,466.6 L249.13,465.1 L250.67,463.77 L252.21,462.62 L253.75,461.66 L255.29,460.9 L256.83,460.33 L258.37,459.97 L259.9,459.81 L261.44,459.86 L262.98,460.11 L264.52,460.57 L266.06,461.23 L267.6,462.09 L269.13,463.13 L270.67,464.37 L272.21,465.78 L273.75,467.36 L275.29,469.11 L276.83,471.01 L278.37,473.04 L279.9,475.21 L281.44,477.5 L282.98,479.89 L284.52,482.37 L286.06,484.94 L287.6,487.57 L289.14,490.26 L290.67,492.99 L292.21,495.75 L293.75,498.54 L295.29,501.32 L296.83,504.11 L298.37,506.87 L299.9,509.62 L301.44,512.32 L302.98,514.99 L304.52,517.6 L306.06,520.16 L307.6,522.64 L309.14,525.06 L310.67,527.4 L312.21,529.66 L313.75,531.84 L315.29,533.92 L316.83,535.92 L318.37,537.83 L319.9,539.65 L321.44,541.37" fill="none" stroke="#f5a258" stroke-width="2.1"/>
<path d="M90.62,557.14 L92.17,557.14 L93.72,557.14 L95.27,557.14 L96.81,557.14 L98.36,557.13 L99.91,557.13 L101.46,557.13 L103.01,557.13 L104.56,557.13 L106.11,557.12 L107.66,557.12 L109.2,557.11 L110.75,557.1 L112.3,557.09 L113.85,557.08 L115.4,557.07 L116.95,557.05 L118.5,557.03 L120.04,557.01 L121.59,556.97 L123.14,556.94 L124.69,556.89 L126.24,556.84 L127.79,556.77 L129.34,556.69 L130.89,556.6 L132.43,556.49 L133.98,556.36 L135.53,556.21 L137.08,556.04 L138.63,555.83 L140.18,555.6 L141.73,555.32 L143.28,555.01 L144.82,554.65 L146.37,554.24 L147.92,553.77 L149.47,553.24 L151.02,552.64 L152.57,551.97 L154.12,551.21 L155.67,550.38 L157.21,549.45 L158.76,548.42 L160.31,547.29 L161.86,546.05 L163.41,544.7 L164.96,543.23 L166.51,541.64 L168.05,539.93 L169.6,538.09 L171.15,536.13 L172.7,534.05 L174.25,531.86 L175.8,529.55 L177.35,527.13 L178.9,524.61 L180.44,522 L181.99,519.31 L183.54,516.56 L185.09,513.76 L186.64,510.92 L188.19,508.07 L189.74,505.22 L191.29,502.39 L192.83,499.61 L194.38,496.9 L195.93,494.28 L197.48,491.76 L199.03,489.38 L200.58,487.16 L202.13,485.11 L203.68,483.26 L205.22,481.62 L206.77,480.2 L208.32,479.04 L209.87,478.13 L211.42,477.48 L212.97,477.1 L214.52,477 L216.06,477.17 L217.61,477.62 L219.16,478.34 L220.71,479.32 L222.26,480.55 L223.81,482.03 L225.36,483.73 L226.91,485.63 L228.45,487.73 L230,490 L231.55,492.41 L233.1,494.96 L234.65,497.61 L236.2,500.34 L237.75,503.14 L239.3,505.97 L240.84,508.82 L242.39,511.67 L243.94,514.5 L245.49,517.29 L247.04,520.03 L248.59,522.7 L250.14,525.28 L251.69,527.78 L253.23,530.17 L254.78,532.45 L256.33,534.61 L257.88,536.66 L259.43,538.59 L260.98,540.39 L262.53,542.07 L264.07,543.63 L265.62,545.06 L267.17,546.39 L268.72,547.6 L270.27,548.7 L271.82,549.7 L273.37,550.61 L274.92,551.42 L276.46,552.15" fill="none" stroke="#f5949b" stroke-width="2.1"/>
<path d="M136.82,561.89 L138.37,561.09 L139.92,560.19 L141.47,559.18 L143.01,558.07 L144.56,556.84 L146.11,555.48 L147.65,553.99 L149.2,552.37 L150.75,550.61 L152.3,548.7 L153.84,546.66 L155.39,544.46 L156.94,542.12 L158.48,539.65 L160.03,537.03 L161.58,534.29 L163.12,531.42 L164.67,528.45 L166.22,525.38 L167.77,522.23 L169.31,519.01 L170.86,515.75 L172.41,512.47 L173.95,509.19 L175.5,505.93 L177.05,502.73 L178.59,499.6 L180.14,496.57 L181.69,493.67 L183.24,490.93 L184.78,488.37 L186.33,486.02 L187.88,483.9 L189.42,482.04 L190.97,480.44 L192.52,479.13 L194.06,478.13 L195.61,477.44 L197.16,477.06 L198.71,477.02 L200.25,477.29 L201.8,477.89 L203.35,478.81 L204.89,480.03 L206.44,481.54 L207.99,483.33 L209.53,485.37 L211.08,487.66 L212.63,490.16 L214.18,492.85 L215.72,495.7 L217.27,498.69 L218.82,501.79 L220.36,504.98 L221.91,508.22 L223.46,511.5 L225,514.79 L226.55,518.05 L228.1,521.28 L229.65,524.45 L231.19,527.55 L232.74,530.55 L234.29,533.45 L235.83,536.23 L237.38,538.89 L238.93,541.41 L240.47,543.79 L242.02,546.02 L243.57,548.12 L245.12,550.06 L246.66,551.87 L248.21,553.53 L249.76,555.06 L251.3,556.45 L252.85,557.72 L254.4,558.87 L255.94,559.9 L257.49,560.83 L259.04,561.66 L260.59,562.4 L262.13,563.06 L263.68,563.64 L265.23,564.15 L266.77,564.59 L268.32,564.98 L269.87,565.32 L271.41,565.61 L272.96,565.86 L274.51,566.07 L276.06,566.26 L277.6,566.41 L279.15,566.55 L280.7,566.66 L282.24,566.75 L283.79,566.83 L285.34,566.9 L286.88,566.95 L288.43,567 L289.98,567.03 L291.53,567.06 L293.07,567.09 L294.62,567.11 L296.17,567.13 L297.71,567.14 L299.26,567.15 L300.81,567.16 L302.35,567.17 L303.9,567.17 L305.45,567.18 L307,567.18 L308.54,567.18 L310.09,567.18 L311.64,567.19 L313.18,567.19 L314.73,567.19 L316.28,567.19 L317.82,567.19 L319.37,567.19 L320.92,567.19 L322.47,567.19" fill="none" stroke="#7788f6" stroke-width="2.1"/>
<rect x="24.3" y="433.4" width="419.8" height="145" fill="none" stroke="#6a6a6a" stroke-width="1.1"/>
<line x1="34.6" y1="578.4" x2="34.6" y2="575.4" stroke="#444" stroke-width="0.8"/>
<text x="34.6" y="588.8" font-size="10" text-anchor="middle" font-weight="normal" fill="#000" >3.5</text>
<line x1="136.82" y1="578.4" x2="136.82" y2="575.4" stroke="#444" stroke-width="0.8"/>
<text x="136.82" y="588.8" font-size="10" text-anchor="middle" font-weight="normal" fill="#000" >4.0</text>
<line x1="239.05" y1="578.4" x2="239.05" y2="575.4" stroke="#444" stroke-width="0.8"/>
<text x="239.05" y="588.8" font-size="10" text-anchor="middle" font-weight="normal" fill="#000" >4.5</text>
<line x1="341.27" y1="578.4" x2="341.27" y2="575.4" stroke="#444" stroke-width="0.8"/>
<text x="341.27" y="588.8" font-size="10" text-anchor="middle" font-weight="normal" fill="#000" >5.0</text>
<line x1="443.5" y1="578.4" x2="443.5" y2="575.4" stroke="#444" stroke-width="0.8"/>
<text x="443.5" y="588.8" font-size="10" text-anchor="middle" font-weight="normal" fill="#000" >5.5</text>
<line x1="85.71" y1="578.4" x2="85.71" y2="576.7" stroke="#444" stroke-width="0.7"/>
<line x1="187.94" y1="578.4" x2="187.94" y2="576.7" stroke="#444" stroke-width="0.7"/>
<line x1="290.16" y1="578.4" x2="290.16" y2="576.7" stroke="#444" stroke-width="0.7"/>
<line x1="392.39" y1="578.4" x2="392.39" y2="576.7" stroke="#444" stroke-width="0.7"/>
<line x1="24.3" y1="578.3" x2="27.3" y2="578.3" stroke="#444" stroke-width="0.8"/>
<text x="21" y="582.2" font-size="10" text-anchor="end" font-weight="normal" fill="#000" >0</text>
<line x1="24.3" y1="551.85" x2="27.3" y2="551.85" stroke="#444" stroke-width="0.8"/>
<text x="21" y="555.75" font-size="10" text-anchor="end" font-weight="normal" fill="#000" >1</text>
<line x1="24.3" y1="525.4" x2="27.3" y2="525.4" stroke="#444" stroke-width="0.8"/>
<text x="21" y="529.3" font-size="10" text-anchor="end" font-weight="normal" fill="#000" >2</text>
<line x1="24.3" y1="498.95" x2="27.3" y2="498.95" stroke="#444" stroke-width="0.8"/>
<text x="21" y="502.85" font-size="10" text-anchor="end" font-weight="normal" fill="#000" >3</text>
<line x1="24.3" y1="472.5" x2="27.3" y2="472.5" stroke="#444" stroke-width="0.8"/>
<text x="21" y="476.4" font-size="10" text-anchor="end" font-weight="normal" fill="#000" >4</text>
<line x1="24.3" y1="446.05" x2="27.3" y2="446.05" stroke="#444" stroke-width="0.8"/>
<text x="21" y="449.95" font-size="10" text-anchor="end" font-weight="normal" fill="#000" >5</text>
<line x1="24.3" y1="565.07" x2="26" y2="565.07" stroke="#444" stroke-width="0.7"/>
<line x1="24.3" y1="538.62" x2="26" y2="538.62" stroke="#444" stroke-width="0.7"/>
<line x1="24.3" y1="512.17" x2="26" y2="512.17" stroke="#444" stroke-width="0.7"/>
<line x1="24.3" y1="485.72" x2="26" y2="485.72" stroke="#444" stroke-width="0.7"/>
<line x1="24.3" y1="459.27" x2="26" y2="459.27" stroke="#444" stroke-width="0.7"/>
<line x1="32.4" y1="444.5" x2="61.7" y2="444.5" stroke="#f5a258" stroke-width="1.5"/>
<text x="65.2" y="448" font-size="9.6" text-anchor="start" font-weight="normal" fill="#000" >CQDs-CHO</text>
<line x1="32.4" y1="460.8" x2="61.7" y2="460.8" stroke="#f5949b" stroke-width="1.5"/>
<text x="65.2" y="464.3" font-size="9.6" text-anchor="start" font-weight="normal" fill="#000" >CQDs-OH</text>
<line x1="32.4" y1="476.6" x2="61.7" y2="476.6" stroke="#7788f6" stroke-width="1.5"/>
<text x="65.2" y="480.1" font-size="9.6" text-anchor="start" font-weight="normal" fill="#000" >CQDs-COOH</text>
<text x="191" y="442.8" font-size="9.55" fill="#000"><tspan font-style="italic">sp</tspan><tspan font-size="5.3" dy="-3.3">3</tspan><tspan dy="3.3"> C site</tspan></text>
<text x="385" y="442.7" font-size="9.55" fill="#000"><tspan font-style="italic">sp</tspan><tspan font-size="5.3" dy="-3.3">2</tspan><tspan dy="3.3"> C site</tspan></text>
<text transform="translate(10.4,505.9) rotate(-90)" font-size="12.5" text-anchor="middle" fill="#000">Counts</text>
<text x="205.3" y="600.7" font-size="12.35" fill="#000">ΔG<tspan font-size="7.4" dy="3.9">*OOH</tspan><tspan dy="-3.9"> (eV)</tspan></text>
<rect x="494.4" y="433.4" width="184.2" height="143.8" fill="url(#fbg)"/>
<path d="M527,469.5 L529.64,468.52 L532.27,467.94 L534.91,467.46 L537.55,467.05 L540.19,466.7 L542.83,466.38 L545.46,466.1 L548.1,465.84 L550.74,465.61 L553.38,465.41 L556.01,465.23 L558.65,465.07 L561.29,464.94 L563.92,464.82 L566.56,464.72 L569.2,464.64 L571.84,464.58 L574.48,464.54 L577.11,464.51 L579.75,464.5 L582.39,464.51 L585.02,464.54 L587.66,464.58 L590.3,464.64 L592.94,464.72 L595.58,464.82 L598.21,464.94 L600.85,465.07 L603.49,465.23 L606.12,465.41 L608.76,465.61 L611.4,465.84 L614.04,466.1 L616.67,466.38 L619.31,466.7 L621.95,467.05 L624.59,467.46 L627.23,467.94 L629.86,468.52 L632.5,469.5 L632.5,469.5 L629.86,470.48 L627.23,471.06 L624.59,471.54 L621.95,471.95 L619.31,472.3 L616.67,472.62 L614.04,472.9 L611.4,473.16 L608.76,473.39 L606.12,473.59 L603.49,473.77 L600.85,473.93 L598.21,474.06 L595.58,474.18 L592.94,474.28 L590.3,474.36 L587.66,474.42 L585.02,474.46 L582.39,474.49 L579.75,474.5 L577.11,474.49 L574.48,474.46 L571.84,474.42 L569.2,474.36 L566.56,474.28 L563.92,474.18 L561.29,474.06 L558.65,473.93 L556.01,473.77 L553.38,473.59 L550.74,473.39 L548.1,473.16 L545.46,472.9 L542.83,472.62 L540.19,472.3 L537.55,471.95 L534.91,471.54 L532.27,471.06 L529.64,470.48 L527,469.5 Z" fill="url(#gb)"/>
<path d="M511.8,524.7 L515.51,523.84 L519.23,523.32 L522.94,522.91 L526.65,522.55 L530.36,522.23 L534.07,521.95 L537.79,521.7 L541.5,521.48 L545.21,521.28 L548.92,521.1 L552.64,520.94 L556.35,520.81 L560.06,520.68 L563.77,520.58 L567.49,520.49 L571.2,520.42 L574.91,520.37 L578.62,520.33 L582.34,520.31 L586.05,520.3 L589.76,520.31 L593.47,520.33 L597.19,520.37 L600.9,520.42 L604.61,520.49 L608.32,520.58 L612.04,520.68 L615.75,520.81 L619.46,520.94 L623.17,521.1 L626.89,521.28 L630.6,521.48 L634.31,521.7 L638.02,521.95 L641.74,522.23 L645.45,522.55 L649.16,522.91 L652.87,523.32 L656.59,523.84 L660.3,524.7 L660.3,524.7 L656.59,525.56 L652.87,526.08 L649.16,526.49 L645.45,526.85 L641.74,527.17 L638.02,527.45 L634.31,527.7 L630.6,527.92 L626.89,528.12 L623.17,528.3 L619.46,528.46 L615.75,528.59 L612.04,528.72 L608.32,528.82 L604.61,528.91 L600.9,528.98 L597.19,529.03 L593.47,529.07 L589.76,529.09 L586.05,529.1 L582.34,529.09 L578.62,529.07 L574.91,529.03 L571.2,528.98 L567.49,528.91 L563.77,528.82 L560.06,528.72 L556.35,528.59 L552.64,528.46 L548.92,528.3 L545.21,528.12 L541.5,527.92 L537.79,527.7 L534.07,527.45 L530.36,527.17 L526.65,526.85 L522.94,526.49 L519.23,526.08 L515.51,525.56 L511.8,524.7 Z" fill="url(#gp)"/>
<path d="M519.7,554.5 L522.92,553.6 L526.13,553.06 L529.35,552.62 L532.57,552.25 L535.79,551.92 L539,551.63 L542.22,551.37 L545.44,551.13 L548.66,550.93 L551.88,550.74 L555.09,550.57 L558.31,550.43 L561.53,550.3 L564.75,550.19 L567.96,550.1 L571.18,550.03 L574.4,549.97 L577.62,549.93 L580.83,549.91 L584.05,549.9 L587.27,549.91 L590.48,549.93 L593.7,549.97 L596.92,550.03 L600.14,550.1 L603.35,550.19 L606.57,550.3 L609.79,550.43 L613.01,550.57 L616.22,550.74 L619.44,550.93 L622.66,551.13 L625.88,551.37 L629.09,551.63 L632.31,551.92 L635.53,552.25 L638.75,552.62 L641.96,553.06 L645.18,553.6 L648.4,554.5 L648.4,554.5 L645.18,555.4 L641.96,555.94 L638.75,556.38 L635.53,556.75 L632.31,557.08 L629.09,557.37 L625.88,557.63 L622.66,557.87 L619.44,558.07 L616.22,558.26 L613.01,558.43 L609.79,558.57 L606.57,558.7 L603.35,558.81 L600.14,558.9 L596.92,558.97 L593.7,559.03 L590.48,559.07 L587.27,559.09 L584.05,559.1 L580.83,559.09 L577.62,559.07 L574.4,559.03 L571.18,558.97 L567.96,558.9 L564.75,558.81 L561.53,558.7 L558.31,558.57 L555.09,558.43 L551.88,558.26 L548.66,558.07 L545.44,557.87 L542.22,557.63 L539,557.37 L535.79,557.08 L532.57,556.75 L529.35,556.38 L526.13,555.94 L522.92,555.4 L519.7,554.5 Z" fill="url(#go)"/>
<line x1="522.6" y1="449" x2="522.6" y2="577" stroke="#444" stroke-width="1" stroke-dasharray="2.2,1.2"/>
<rect x="532.9" y="467.5" width="4" height="4" fill="none" stroke="#8d95f3" stroke-width="0.6"/>
<rect x="536" y="467.5" width="4" height="4" fill="none" stroke="#8d95f3" stroke-width="0.6"/>
<rect x="570.6" y="467.5" width="4" height="4" fill="none" stroke="#8d95f3" stroke-width="0.6"/>
<rect x="575.5" y="467.5" width="4" height="4" fill="none" stroke="#8d95f3" stroke-width="0.6"/>
<rect x="581.6" y="467.5" width="4" height="4" fill="none" stroke="#8d95f3" stroke-width="0.6"/>
<rect x="620.5" y="467.5" width="4" height="4" fill="none" stroke="#8d95f3" stroke-width="0.6"/>
<rect x="554.1" y="466.5" width="6" height="6" fill="#6b7ef2"/>
<path d="M520,526.6 L524.6,526.6 L522.3,522.4 Z" fill="none" stroke="#f49aa1" stroke-width="0.6"/>
<path d="M535.8,526.6 L540.4,526.6 L538.1,522.4 Z" fill="none" stroke="#f49aa1" stroke-width="0.6"/>
<path d="M556.8,526.6 L561.4,526.6 L559.1,522.4 Z" fill="none" stroke="#f49aa1" stroke-width="0.6"/>
<path d="M567.3,526.6 L571.9,526.6 L569.6,522.4 Z" fill="none" stroke="#f49aa1" stroke-width="0.6"/>
<path d="M573.9,526.6 L578.5,526.6 L576.2,522.4 Z" fill="none" stroke="#f49aa1" stroke-width="0.6"/>
<path d="M582.3,526.6 L586.9,526.6 L584.6,522.4 Z" fill="none" stroke="#f49aa1" stroke-width="0.6"/>
<path d="M594.9,526.6 L599.5,526.6 L597.2,522.4 Z" fill="none" stroke="#f49aa1" stroke-width="0.6"/>
<path d="M633,526.6 L637.6,526.6 L635.3,522.4 Z" fill="none" stroke="#f49aa1" stroke-width="0.6"/>
<path d="M640.4,526.6 L645,526.6 L642.7,522.4 Z" fill="none" stroke="#f49aa1" stroke-width="0.6"/>
<path d="M646.7,526.6 L651.3,526.6 L649,522.4 Z" fill="none" stroke="#f49aa1" stroke-width="0.6"/>
<circle cx="525.5" cy="554.5" r="2.2" fill="none" stroke="#f9b98c" stroke-width="0.6"/>
<circle cx="543.4" cy="554.5" r="2.2" fill="none" stroke="#f9b98c" stroke-width="0.6"/>
<circle cx="553.9" cy="554.5" r="2.2" fill="none" stroke="#f9b98c" stroke-width="0.6"/>
<circle cx="566.5" cy="554.5" r="2.2" fill="none" stroke="#f9b98c" stroke-width="0.6"/>
<circle cx="576.2" cy="554.5" r="2.2" fill="none" stroke="#f9b98c" stroke-width="0.6"/>
<circle cx="580.1" cy="554.5" r="2.2" fill="none" stroke="#f9b98c" stroke-width="0.6"/>
<circle cx="593.3" cy="554.5" r="2.2" fill="none" stroke="#f9b98c" stroke-width="0.6"/>
<circle cx="599.3" cy="554.5" r="2.2" fill="none" stroke="#f9b98c" stroke-width="0.6"/>
<circle cx="609.8" cy="554.5" r="2.2" fill="none" stroke="#f9b98c" stroke-width="0.6"/>
<circle cx="613.8" cy="554.5" r="2.2" fill="none" stroke="#f9b98c" stroke-width="0.6"/>
<circle cx="638.5" cy="554.5" r="2.2" fill="none" stroke="#f9b98c" stroke-width="0.6"/>
<circle cx="584.6" cy="554.5" r="3.2" fill="#f79a4e"/>
<line x1="557.1" y1="469.5" x2="584.6" y2="554.5" stroke="#111" stroke-width="0.9"/>
<line x1="494.4" y1="433.4" x2="494.4" y2="577.2" stroke="#bbb" stroke-width="1.8"/>
<line x1="494.4" y1="433.4" x2="678.6" y2="433.4" stroke="#777" stroke-width="1"/>
<line x1="678.6" y1="433.4" x2="678.6" y2="577.2" stroke="#333" stroke-width="1"/>
<line x1="494.4" y1="577.2" x2="678.6" y2="577.2" stroke="#777" stroke-width="1"/>
<line x1="494.4" y1="577.2" x2="494.4" y2="574.6" stroke="#444" stroke-width="0.8"/>
<text x="494.4" y="589" font-size="10" text-anchor="middle" font-weight="normal" fill="#000" >4.0</text>
<line x1="520.7" y1="577.2" x2="520.7" y2="574.6" stroke="#444" stroke-width="0.8"/>
<text x="520.7" y="589" font-size="10" text-anchor="middle" font-weight="normal" fill="#000" >4.2</text>
<line x1="547" y1="577.2" x2="547" y2="574.6" stroke="#444" stroke-width="0.8"/>
<text x="547" y="589" font-size="10" text-anchor="middle" font-weight="normal" fill="#000" >4.4</text>
<line x1="573.3" y1="577.2" x2="573.3" y2="574.6" stroke="#444" stroke-width="0.8"/>
<text x="573.3" y="589" font-size="10" text-anchor="middle" font-weight="normal" fill="#000" >4.6</text>
<line x1="599.6" y1="577.2" x2="599.6" y2="574.6" stroke="#444" stroke-width="0.8"/>
<text x="599.6" y="589" font-size="10" text-anchor="middle" font-weight="normal" fill="#000" >4.8</text>
<line x1="625.9" y1="577.2" x2="625.9" y2="574.6" stroke="#444" stroke-width="0.8"/>
<text x="625.9" y="589" font-size="10" text-anchor="middle" font-weight="normal" fill="#000" >5.0</text>
<line x1="652.2" y1="577.2" x2="652.2" y2="574.6" stroke="#444" stroke-width="0.8"/>
<text x="652.2" y="589" font-size="10" text-anchor="middle" font-weight="normal" fill="#000" >5.2</text>
<line x1="678.5" y1="577.2" x2="678.5" y2="574.6" stroke="#444" stroke-width="0.8"/>
<text x="678.5" y="589" font-size="10" text-anchor="middle" font-weight="normal" fill="#000" >5.4</text>
<line x1="507.55" y1="577.2" x2="507.55" y2="575.6" stroke="#444" stroke-width="0.7"/>
<line x1="533.85" y1="577.2" x2="533.85" y2="575.6" stroke="#444" stroke-width="0.7"/>
<line x1="560.15" y1="577.2" x2="560.15" y2="575.6" stroke="#444" stroke-width="0.7"/>
<line x1="586.45" y1="577.2" x2="586.45" y2="575.6" stroke="#444" stroke-width="0.7"/>
<line x1="612.75" y1="577.2" x2="612.75" y2="575.6" stroke="#444" stroke-width="0.7"/>
<line x1="639.05" y1="577.2" x2="639.05" y2="575.6" stroke="#444" stroke-width="0.7"/>
<line x1="665.35" y1="577.2" x2="665.35" y2="575.6" stroke="#444" stroke-width="0.7"/>
<line x1="494.4" y1="433.7" x2="496.8" y2="433.7" stroke="#444" stroke-width="0.8"/>
<text x="492" y="437.5" font-size="10" text-anchor="end" font-weight="normal" fill="#000" >-0.2</text>
<line x1="494.4" y1="469.6" x2="496.8" y2="469.6" stroke="#444" stroke-width="0.8"/>
<text x="492" y="473.4" font-size="10" text-anchor="end" font-weight="normal" fill="#000" >0.0</text>
<line x1="494.4" y1="505.5" x2="496.8" y2="505.5" stroke="#444" stroke-width="0.8"/>
<text x="492" y="509.3" font-size="10" text-anchor="end" font-weight="normal" fill="#000" >0.2</text>
<line x1="494.4" y1="541.4" x2="496.8" y2="541.4" stroke="#444" stroke-width="0.8"/>
<text x="492" y="545.2" font-size="10" text-anchor="end" font-weight="normal" fill="#000" >0.4</text>
<line x1="494.4" y1="577.3" x2="496.8" y2="577.3" stroke="#444" stroke-width="0.8"/>
<text x="492" y="581.1" font-size="10" text-anchor="end" font-weight="normal" fill="#000" >0.6</text>
<line x1="494.4" y1="451.65" x2="495.9" y2="451.65" stroke="#444" stroke-width="0.7"/>
<line x1="494.4" y1="487.55" x2="495.9" y2="487.55" stroke="#444" stroke-width="0.7"/>
<line x1="494.4" y1="523.45" x2="495.9" y2="523.45" stroke="#444" stroke-width="0.7"/>
<line x1="494.4" y1="559.35" x2="495.9" y2="559.35" stroke="#444" stroke-width="0.7"/>
<rect x="499" y="440.4" width="3.8" height="3.8" fill="none" stroke="#8d95f3" stroke-width="0.6"/>
<text x="504.9" y="445.8" font-size="9.4" text-anchor="start" font-weight="normal" fill="#000" >CQDs-COOH</text>
<path d="M566.2,444.3 L570.6,444.3 L568.4,440.3 Z" fill="none" stroke="#f49aa1" stroke-width="0.6"/>
<text x="573.4" y="445.8" font-size="9.4" text-anchor="start" font-weight="normal" fill="#000" >CQDs-OH</text>
<circle cx="625" cy="442.3" r="2" fill="none" stroke="#f9b98c" stroke-width="0.6"/>
<text x="628.3" y="445.8" font-size="9.4" text-anchor="start" font-weight="normal" fill="#000" >CQDs-CHO</text>
<text transform="translate(473.6,506.4) rotate(-90)" font-size="12.5" text-anchor="middle" fill="#000">Relative Corelevel shift (eV)</text>
<text x="554.6" y="600.7" font-size="12.35" fill="#000">ΔG<tspan font-size="7.4" dy="3.9">*OOH</tspan><tspan dy="-3.9"> (eV)</tspan></text>
<g stroke="#b38a70" stroke-width="1.65"><line x1="104.15" y1="47.3" x2="109.1" y2="55.7"/><line x1="133.85" y1="148.1" x2="138.8" y2="156.5"/><line x1="153.65" y1="80.9" x2="148.7" y2="89.3"/><line x1="89.3" y1="38.9" x2="94.25" y2="47.3"/><line x1="163.55" y1="114.5" x2="168.5" y2="122.9"/><line x1="138.8" y1="72.5" x2="148.7" y2="72.5"/><line x1="74.45" y1="97.7" x2="79.4" y2="106.1"/><line x1="168.5" y1="89.3" x2="163.55" y2="97.7"/><line x1="94.25" y1="97.7" x2="104.15" y2="97.7"/><line x1="49.7" y1="106.1" x2="59.6" y2="106.1"/><line x1="168.5" y1="55.7" x2="163.55" y2="64.1"/><line x1="104.15" y1="131.3" x2="109.1" y2="139.7"/><line x1="133.85" y1="47.3" x2="138.8" y2="55.7"/><line x1="64.55" y1="131.3" x2="74.45" y2="131.3"/><line x1="64.55" y1="64.1" x2="74.45" y2="64.1"/><line x1="138.8" y1="139.7" x2="148.7" y2="139.7"/><line x1="79.4" y1="72.5" x2="74.45" y2="80.9"/><line x1="94.25" y1="148.1" x2="104.15" y2="148.1"/><line x1="163.55" y1="97.7" x2="168.5" y2="106.1"/><line x1="59.6" y1="72.5" x2="64.55" y2="80.9"/><line x1="153.65" y1="97.7" x2="148.7" y2="106.1"/><line x1="74.45" y1="47.3" x2="79.4" y2="55.7"/><line x1="123.95" y1="97.7" x2="119" y2="106.1"/><line x1="74.45" y1="64.1" x2="79.4" y2="72.5"/><line x1="123.95" y1="131.3" x2="119" y2="139.7"/><line x1="89.3" y1="122.9" x2="94.25" y2="131.3"/><line x1="168.5" y1="72.5" x2="163.55" y2="80.9"/><line x1="123.95" y1="131.3" x2="133.85" y2="131.3"/><line x1="168.5" y1="122.9" x2="163.55" y2="131.3"/><line x1="104.15" y1="114.5" x2="109.1" y2="122.9"/><line x1="123.95" y1="47.3" x2="133.85" y2="47.3"/><line x1="59.6" y1="106.1" x2="64.55" y2="114.5"/><line x1="109.1" y1="38.9" x2="119" y2="38.9"/><line x1="109.1" y1="72.5" x2="119" y2="72.5"/><line x1="123.95" y1="148.1" x2="133.85" y2="148.1"/><line x1="109.1" y1="122.9" x2="104.15" y2="131.3"/><line x1="94.25" y1="148.1" x2="89.3" y2="156.5"/><line x1="138.8" y1="106.1" x2="148.7" y2="106.1"/><line x1="119" y1="38.9" x2="123.95" y2="47.3"/><line x1="109.1" y1="156.5" x2="119" y2="156.5"/><line x1="64.55" y1="80.9" x2="74.45" y2="80.9"/><line x1="119" y1="55.7" x2="123.95" y2="64.1"/><line x1="153.65" y1="131.3" x2="163.55" y2="131.3"/><line x1="138.8" y1="139.7" x2="133.85" y2="148.1"/><line x1="138.8" y1="55.7" x2="148.7" y2="55.7"/><line x1="94.25" y1="64.1" x2="104.15" y2="64.1"/><line x1="59.6" y1="89.3" x2="64.55" y2="97.7"/><line x1="109.1" y1="55.7" x2="119" y2="55.7"/><line x1="109.1" y1="55.7" x2="104.15" y2="64.1"/><line x1="59.6" y1="122.9" x2="64.55" y2="131.3"/><line x1="138.8" y1="89.3" x2="133.85" y2="97.7"/><line x1="109.1" y1="38.9" x2="104.15" y2="47.3"/><line x1="109.1" y1="72.5" x2="104.15" y2="80.9"/><line x1="79.4" y1="122.9" x2="89.3" y2="122.9"/><line x1="74.45" y1="114.5" x2="79.4" y2="122.9"/><line x1="133.85" y1="80.9" x2="138.8" y2="89.3"/><line x1="133.85" y1="131.3" x2="138.8" y2="139.7"/><line x1="94.25" y1="80.9" x2="89.3" y2="89.3"/><line x1="89.3" y1="89.3" x2="94.25" y2="97.7"/><line x1="109.1" y1="139.7" x2="119" y2="139.7"/><line x1="94.25" y1="97.7" x2="89.3" y2="106.1"/><line x1="153.65" y1="97.7" x2="163.55" y2="97.7"/><line x1="94.25" y1="131.3" x2="89.3" y2="139.7"/><line x1="64.55" y1="97.7" x2="74.45" y2="97.7"/><line x1="119" y1="89.3" x2="123.95" y2="97.7"/><line x1="89.3" y1="72.5" x2="94.25" y2="80.9"/><line x1="64.55" y1="114.5" x2="74.45" y2="114.5"/><line x1="74.45" y1="131.3" x2="79.4" y2="139.7"/><line x1="94.25" y1="131.3" x2="104.15" y2="131.3"/><line x1="138.8" y1="89.3" x2="148.7" y2="89.3"/><line x1="119" y1="122.9" x2="123.95" y2="131.3"/><line x1="109.1" y1="106.1" x2="104.15" y2="114.5"/><line x1="148.7" y1="89.3" x2="153.65" y2="97.7"/><line x1="109.1" y1="139.7" x2="104.15" y2="148.1"/><line x1="64.55" y1="114.5" x2="59.6" y2="122.9"/><line x1="153.65" y1="80.9" x2="163.55" y2="80.9"/><line x1="79.4" y1="89.3" x2="89.3" y2="89.3"/><line x1="153.65" y1="47.3" x2="163.55" y2="47.3"/><line x1="133.85" y1="64.1" x2="138.8" y2="72.5"/><line x1="163.55" y1="47.3" x2="168.5" y2="55.7"/><line x1="79.4" y1="89.3" x2="74.45" y2="97.7"/><line x1="138.8" y1="122.9" x2="133.85" y2="131.3"/><line x1="148.7" y1="139.7" x2="153.65" y2="148.1"/><line x1="74.45" y1="80.9" x2="79.4" y2="89.3"/><line x1="168.5" y1="89.3" x2="178.4" y2="89.3"/><line x1="148.7" y1="72.5" x2="153.65" y2="80.9"/><line x1="94.25" y1="114.5" x2="104.15" y2="114.5"/><line x1="79.4" y1="55.7" x2="89.3" y2="55.7"/><line x1="64.55" y1="64.1" x2="59.6" y2="72.5"/><line x1="153.65" y1="64.1" x2="163.55" y2="64.1"/><line x1="183.35" y1="80.9" x2="178.4" y2="89.3"/><line x1="94.25" y1="64.1" x2="89.3" y2="72.5"/><line x1="178.4" y1="89.3" x2="183.35" y2="97.7"/><line x1="133.85" y1="114.5" x2="138.8" y2="122.9"/><line x1="89.3" y1="106.1" x2="94.25" y2="114.5"/><line x1="109.1" y1="89.3" x2="104.15" y2="97.7"/><line x1="79.4" y1="139.7" x2="89.3" y2="139.7"/><line x1="138.8" y1="72.5" x2="133.85" y2="80.9"/><line x1="94.25" y1="114.5" x2="89.3" y2="122.9"/><line x1="119" y1="139.7" x2="123.95" y2="148.1"/><line x1="109.1" y1="89.3" x2="119" y2="89.3"/><line x1="123.95" y1="47.3" x2="119" y2="55.7"/><line x1="64.55" y1="97.7" x2="59.6" y2="106.1"/><line x1="89.3" y1="55.7" x2="94.25" y2="64.1"/><line x1="89.3" y1="139.7" x2="94.25" y2="148.1"/><line x1="153.65" y1="47.3" x2="148.7" y2="55.7"/><line x1="123.95" y1="64.1" x2="133.85" y2="64.1"/><line x1="138.8" y1="106.1" x2="133.85" y2="114.5"/><line x1="123.95" y1="114.5" x2="133.85" y2="114.5"/><line x1="153.65" y1="64.1" x2="148.7" y2="72.5"/><line x1="168.5" y1="106.1" x2="163.55" y2="114.5"/><line x1="148.7" y1="55.7" x2="153.65" y2="64.1"/><line x1="79.4" y1="106.1" x2="74.45" y2="114.5"/><line x1="104.15" y1="97.7" x2="109.1" y2="106.1"/><line x1="79.4" y1="55.7" x2="74.45" y2="64.1"/><line x1="138.8" y1="122.9" x2="148.7" y2="122.9"/><line x1="163.55" y1="80.9" x2="168.5" y2="89.3"/><line x1="148.7" y1="38.9" x2="153.65" y2="47.3"/><line x1="94.25" y1="80.9" x2="104.15" y2="80.9"/><line x1="123.95" y1="114.5" x2="119" y2="122.9"/><line x1="49.7" y1="89.3" x2="59.6" y2="89.3"/><line x1="123.95" y1="148.1" x2="119" y2="156.5"/><line x1="123.95" y1="97.7" x2="133.85" y2="97.7"/><line x1="178.4" y1="72.5" x2="183.35" y2="80.9"/><line x1="104.15" y1="148.1" x2="109.1" y2="156.5"/><line x1="79.4" y1="106.1" x2="89.3" y2="106.1"/><line x1="79.4" y1="139.7" x2="74.45" y2="148.1"/><line x1="148.7" y1="106.1" x2="153.65" y2="114.5"/><line x1="168.5" y1="106.1" x2="178.4" y2="106.1"/><line x1="153.65" y1="114.5" x2="163.55" y2="114.5"/><line x1="64.55" y1="80.9" x2="59.6" y2="89.3"/><line x1="119" y1="106.1" x2="123.95" y2="114.5"/><line x1="153.65" y1="131.3" x2="148.7" y2="139.7"/><line x1="94.25" y1="47.3" x2="89.3" y2="55.7"/><line x1="183.35" y1="97.7" x2="178.4" y2="106.1"/><line x1="138.8" y1="55.7" x2="133.85" y2="64.1"/><line x1="123.95" y1="64.1" x2="119" y2="72.5"/><line x1="168.5" y1="122.9" x2="178.4" y2="122.9"/><line x1="153.65" y1="114.5" x2="148.7" y2="122.9"/><line x1="163.55" y1="64.1" x2="168.5" y2="72.5"/><line x1="104.15" y1="80.9" x2="109.1" y2="89.3"/><line x1="123.95" y1="80.9" x2="119" y2="89.3"/><line x1="168.5" y1="72.5" x2="178.4" y2="72.5"/><line x1="163.55" y1="131.3" x2="168.5" y2="139.7"/><line x1="138.8" y1="38.9" x2="148.7" y2="38.9"/><line x1="148.7" y1="122.9" x2="153.65" y2="131.3"/><line x1="109.1" y1="106.1" x2="119" y2="106.1"/><line x1="109.1" y1="122.9" x2="119" y2="122.9"/><line x1="104.15" y1="64.1" x2="109.1" y2="72.5"/><line x1="138.8" y1="38.9" x2="133.85" y2="47.3"/><line x1="133.85" y1="97.7" x2="138.8" y2="106.1"/><line x1="123.95" y1="80.9" x2="133.85" y2="80.9"/><line x1="79.4" y1="72.5" x2="89.3" y2="72.5"/><line x1="94.25" y1="47.3" x2="104.15" y2="47.3"/><line x1="79.4" y1="122.9" x2="74.45" y2="131.3"/><line x1="119" y1="72.5" x2="123.95" y2="80.9"/></g>
<g stroke="#d9bda8" stroke-width="0.74"><line x1="104.15" y1="47.3" x2="109.1" y2="55.7"/><line x1="133.85" y1="148.1" x2="138.8" y2="156.5"/><line x1="153.65" y1="80.9" x2="148.7" y2="89.3"/><line x1="89.3" y1="38.9" x2="94.25" y2="47.3"/><line x1="163.55" y1="114.5" x2="168.5" y2="122.9"/><line x1="138.8" y1="72.5" x2="148.7" y2="72.5"/><line x1="74.45" y1="97.7" x2="79.4" y2="106.1"/><line x1="168.5" y1="89.3" x2="163.55" y2="97.7"/><line x1="94.25" y1="97.7" x2="104.15" y2="97.7"/><line x1="49.7" y1="106.1" x2="59.6" y2="106.1"/><line x1="168.5" y1="55.7" x2="163.55" y2="64.1"/><line x1="104.15" y1="131.3" x2="109.1" y2="139.7"/><line x1="133.85" y1="47.3" x2="138.8" y2="55.7"/><line x1="64.55" y1="131.3" x2="74.45" y2="131.3"/><line x1="64.55" y1="64.1" x2="74.45" y2="64.1"/><line x1="138.8" y1="139.7" x2="148.7" y2="139.7"/><line x1="79.4" y1="72.5" x2="74.45" y2="80.9"/><line x1="94.25" y1="148.1" x2="104.15" y2="148.1"/><line x1="163.55" y1="97.7" x2="168.5" y2="106.1"/><line x1="59.6" y1="72.5" x2="64.55" y2="80.9"/><line x1="153.65" y1="97.7" x2="148.7" y2="106.1"/><line x1="74.45" y1="47.3" x2="79.4" y2="55.7"/><line x1="123.95" y1="97.7" x2="119" y2="106.1"/><line x1="74.45" y1="64.1" x2="79.4" y2="72.5"/><line x1="123.95" y1="131.3" x2="119" y2="139.7"/><line x1="89.3" y1="122.9" x2="94.25" y2="131.3"/><line x1="168.5" y1="72.5" x2="163.55" y2="80.9"/><line x1="123.95" y1="131.3" x2="133.85" y2="131.3"/><line x1="168.5" y1="122.9" x2="163.55" y2="131.3"/><line x1="104.15" y1="114.5" x2="109.1" y2="122.9"/><line x1="123.95" y1="47.3" x2="133.85" y2="47.3"/><line x1="59.6" y1="106.1" x2="64.55" y2="114.5"/><line x1="109.1" y1="38.9" x2="119" y2="38.9"/><line x1="109.1" y1="72.5" x2="119" y2="72.5"/><line x1="123.95" y1="148.1" x2="133.85" y2="148.1"/><line x1="109.1" y1="122.9" x2="104.15" y2="131.3"/><line x1="94.25" y1="148.1" x2="89.3" y2="156.5"/><line x1="138.8" y1="106.1" x2="148.7" y2="106.1"/><line x1="119" y1="38.9" x2="123.95" y2="47.3"/><line x1="109.1" y1="156.5" x2="119" y2="156.5"/><line x1="64.55" y1="80.9" x2="74.45" y2="80.9"/><line x1="119" y1="55.7" x2="123.95" y2="64.1"/><line x1="153.65" y1="131.3" x2="163.55" y2="131.3"/><line x1="138.8" y1="139.7" x2="133.85" y2="148.1"/><line x1="138.8" y1="55.7" x2="148.7" y2="55.7"/><line x1="94.25" y1="64.1" x2="104.15" y2="64.1"/><line x1="59.6" y1="89.3" x2="64.55" y2="97.7"/><line x1="109.1" y1="55.7" x2="119" y2="55.7"/><line x1="109.1" y1="55.7" x2="104.15" y2="64.1"/><line x1="59.6" y1="122.9" x2="64.55" y2="131.3"/><line x1="138.8" y1="89.3" x2="133.85" y2="97.7"/><line x1="109.1" y1="38.9" x2="104.15" y2="47.3"/><line x1="109.1" y1="72.5" x2="104.15" y2="80.9"/><line x1="79.4" y1="122.9" x2="89.3" y2="122.9"/><line x1="74.45" y1="114.5" x2="79.4" y2="122.9"/><line x1="133.85" y1="80.9" x2="138.8" y2="89.3"/><line x1="133.85" y1="131.3" x2="138.8" y2="139.7"/><line x1="94.25" y1="80.9" x2="89.3" y2="89.3"/><line x1="89.3" y1="89.3" x2="94.25" y2="97.7"/><line x1="109.1" y1="139.7" x2="119" y2="139.7"/><line x1="94.25" y1="97.7" x2="89.3" y2="106.1"/><line x1="153.65" y1="97.7" x2="163.55" y2="97.7"/><line x1="94.25" y1="131.3" x2="89.3" y2="139.7"/><line x1="64.55" y1="97.7" x2="74.45" y2="97.7"/><line x1="119" y1="89.3" x2="123.95" y2="97.7"/><line x1="89.3" y1="72.5" x2="94.25" y2="80.9"/><line x1="64.55" y1="114.5" x2="74.45" y2="114.5"/><line x1="74.45" y1="131.3" x2="79.4" y2="139.7"/><line x1="94.25" y1="131.3" x2="104.15" y2="131.3"/><line x1="138.8" y1="89.3" x2="148.7" y2="89.3"/><line x1="119" y1="122.9" x2="123.95" y2="131.3"/><line x1="109.1" y1="106.1" x2="104.15" y2="114.5"/><line x1="148.7" y1="89.3" x2="153.65" y2="97.7"/><line x1="109.1" y1="139.7" x2="104.15" y2="148.1"/><line x1="64.55" y1="114.5" x2="59.6" y2="122.9"/><line x1="153.65" y1="80.9" x2="163.55" y2="80.9"/><line x1="79.4" y1="89.3" x2="89.3" y2="89.3"/><line x1="153.65" y1="47.3" x2="163.55" y2="47.3"/><line x1="133.85" y1="64.1" x2="138.8" y2="72.5"/><line x1="163.55" y1="47.3" x2="168.5" y2="55.7"/><line x1="79.4" y1="89.3" x2="74.45" y2="97.7"/><line x1="138.8" y1="122.9" x2="133.85" y2="131.3"/><line x1="148.7" y1="139.7" x2="153.65" y2="148.1"/><line x1="74.45" y1="80.9" x2="79.4" y2="89.3"/><line x1="168.5" y1="89.3" x2="178.4" y2="89.3"/><line x1="148.7" y1="72.5" x2="153.65" y2="80.9"/><line x1="94.25" y1="114.5" x2="104.15" y2="114.5"/><line x1="79.4" y1="55.7" x2="89.3" y2="55.7"/><line x1="64.55" y1="64.1" x2="59.6" y2="72.5"/><line x1="153.65" y1="64.1" x2="163.55" y2="64.1"/><line x1="183.35" y1="80.9" x2="178.4" y2="89.3"/><line x1="94.25" y1="64.1" x2="89.3" y2="72.5"/><line x1="178.4" y1="89.3" x2="183.35" y2="97.7"/><line x1="133.85" y1="114.5" x2="138.8" y2="122.9"/><line x1="89.3" y1="106.1" x2="94.25" y2="114.5"/><line x1="109.1" y1="89.3" x2="104.15" y2="97.7"/><line x1="79.4" y1="139.7" x2="89.3" y2="139.7"/><line x1="138.8" y1="72.5" x2="133.85" y2="80.9"/><line x1="94.25" y1="114.5" x2="89.3" y2="122.9"/><line x1="119" y1="139.7" x2="123.95" y2="148.1"/><line x1="109.1" y1="89.3" x2="119" y2="89.3"/><line x1="123.95" y1="47.3" x2="119" y2="55.7"/><line x1="64.55" y1="97.7" x2="59.6" y2="106.1"/><line x1="89.3" y1="55.7" x2="94.25" y2="64.1"/><line x1="89.3" y1="139.7" x2="94.25" y2="148.1"/><line x1="153.65" y1="47.3" x2="148.7" y2="55.7"/><line x1="123.95" y1="64.1" x2="133.85" y2="64.1"/><line x1="138.8" y1="106.1" x2="133.85" y2="114.5"/><line x1="123.95" y1="114.5" x2="133.85" y2="114.5"/><line x1="153.65" y1="64.1" x2="148.7" y2="72.5"/><line x1="168.5" y1="106.1" x2="163.55" y2="114.5"/><line x1="148.7" y1="55.7" x2="153.65" y2="64.1"/><line x1="79.4" y1="106.1" x2="74.45" y2="114.5"/><line x1="104.15" y1="97.7" x2="109.1" y2="106.1"/><line x1="79.4" y1="55.7" x2="74.45" y2="64.1"/><line x1="138.8" y1="122.9" x2="148.7" y2="122.9"/><line x1="163.55" y1="80.9" x2="168.5" y2="89.3"/><line x1="148.7" y1="38.9" x2="153.65" y2="47.3"/><line x1="94.25" y1="80.9" x2="104.15" y2="80.9"/><line x1="123.95" y1="114.5" x2="119" y2="122.9"/><line x1="49.7" y1="89.3" x2="59.6" y2="89.3"/><line x1="123.95" y1="148.1" x2="119" y2="156.5"/><line x1="123.95" y1="97.7" x2="133.85" y2="97.7"/><line x1="178.4" y1="72.5" x2="183.35" y2="80.9"/><line x1="104.15" y1="148.1" x2="109.1" y2="156.5"/><line x1="79.4" y1="106.1" x2="89.3" y2="106.1"/><line x1="79.4" y1="139.7" x2="74.45" y2="148.1"/><line x1="148.7" y1="106.1" x2="153.65" y2="114.5"/><line x1="168.5" y1="106.1" x2="178.4" y2="106.1"/><line x1="153.65" y1="114.5" x2="163.55" y2="114.5"/><line x1="64.55" y1="80.9" x2="59.6" y2="89.3"/><line x1="119" y1="106.1" x2="123.95" y2="114.5"/><line x1="153.65" y1="131.3" x2="148.7" y2="139.7"/><line x1="94.25" y1="47.3" x2="89.3" y2="55.7"/><line x1="183.35" y1="97.7" x2="178.4" y2="106.1"/><line x1="138.8" y1="55.7" x2="133.85" y2="64.1"/><line x1="123.95" y1="64.1" x2="119" y2="72.5"/><line x1="168.5" y1="122.9" x2="178.4" y2="122.9"/><line x1="153.65" y1="114.5" x2="148.7" y2="122.9"/><line x1="163.55" y1="64.1" x2="168.5" y2="72.5"/><line x1="104.15" y1="80.9" x2="109.1" y2="89.3"/><line x1="123.95" y1="80.9" x2="119" y2="89.3"/><line x1="168.5" y1="72.5" x2="178.4" y2="72.5"/><line x1="163.55" y1="131.3" x2="168.5" y2="139.7"/><line x1="138.8" y1="38.9" x2="148.7" y2="38.9"/><line x1="148.7" y1="122.9" x2="153.65" y2="131.3"/><line x1="109.1" y1="106.1" x2="119" y2="106.1"/><line x1="109.1" y1="122.9" x2="119" y2="122.9"/><line x1="104.15" y1="64.1" x2="109.1" y2="72.5"/><line x1="138.8" y1="38.9" x2="133.85" y2="47.3"/><line x1="133.85" y1="97.7" x2="138.8" y2="106.1"/><line x1="123.95" y1="80.9" x2="133.85" y2="80.9"/><line x1="79.4" y1="72.5" x2="89.3" y2="72.5"/><line x1="94.25" y1="47.3" x2="104.15" y2="47.3"/><line x1="79.4" y1="122.9" x2="74.45" y2="131.3"/><line x1="119" y1="72.5" x2="123.95" y2="80.9"/></g>
<g stroke="#9e7862" stroke-width="1.65"><line x1="163.55" y1="30.5" x2="168.5" y2="38.9"/><line x1="79.4" y1="38.9" x2="74.45" y2="47.3"/><line x1="153.65" y1="30.5" x2="148.7" y2="38.9"/><line x1="44.75" y1="97.7" x2="49.7" y2="106.1"/><line x1="138.8" y1="156.5" x2="133.85" y2="164.9"/><line x1="79.4" y1="156.5" x2="89.3" y2="156.5"/><line x1="183.35" y1="80.9" x2="193.25" y2="80.9"/><line x1="198.2" y1="89.3" x2="193.25" y2="97.7"/><line x1="49.7" y1="122.9" x2="59.6" y2="122.9"/><line x1="193.25" y1="80.9" x2="198.2" y2="89.3"/><line x1="44.75" y1="80.9" x2="49.7" y2="89.3"/><line x1="123.95" y1="30.5" x2="133.85" y2="30.5"/><line x1="49.7" y1="72.5" x2="59.6" y2="72.5"/><line x1="138.8" y1="156.5" x2="148.7" y2="156.5"/><line x1="49.7" y1="106.1" x2="44.75" y2="114.5"/><line x1="183.35" y1="114.5" x2="178.4" y2="122.9"/><line x1="64.55" y1="47.3" x2="59.6" y2="55.7"/><line x1="59.6" y1="139.7" x2="64.55" y2="148.1"/><line x1="94.25" y1="30.5" x2="104.15" y2="30.5"/><line x1="94.25" y1="30.5" x2="89.3" y2="38.9"/><line x1="178.4" y1="55.7" x2="183.35" y2="64.1"/><line x1="123.95" y1="164.9" x2="133.85" y2="164.9"/><line x1="64.55" y1="148.1" x2="74.45" y2="148.1"/><line x1="168.5" y1="55.7" x2="178.4" y2="55.7"/><line x1="64.55" y1="47.3" x2="74.45" y2="47.3"/><line x1="153.65" y1="30.5" x2="163.55" y2="30.5"/><line x1="64.55" y1="131.3" x2="59.6" y2="139.7"/><line x1="168.5" y1="38.9" x2="163.55" y2="47.3"/><line x1="153.65" y1="148.1" x2="148.7" y2="156.5"/><line x1="49.7" y1="72.5" x2="44.75" y2="80.9"/><line x1="44.75" y1="114.5" x2="49.7" y2="122.9"/><line x1="133.85" y1="30.5" x2="138.8" y2="38.9"/><line x1="49.7" y1="89.3" x2="44.75" y2="97.7"/><line x1="168.5" y1="139.7" x2="178.4" y2="139.7"/><line x1="183.35" y1="64.1" x2="178.4" y2="72.5"/><line x1="74.45" y1="148.1" x2="79.4" y2="156.5"/><line x1="178.4" y1="122.9" x2="183.35" y2="131.3"/><line x1="119" y1="156.5" x2="123.95" y2="164.9"/><line x1="168.5" y1="139.7" x2="163.55" y2="148.1"/><line x1="178.4" y1="106.1" x2="183.35" y2="114.5"/><line x1="183.35" y1="131.3" x2="178.4" y2="139.7"/><line x1="94.25" y1="164.9" x2="104.15" y2="164.9"/><line x1="89.3" y1="156.5" x2="94.25" y2="164.9"/><line x1="109.1" y1="156.5" x2="104.15" y2="164.9"/><line x1="79.4" y1="38.9" x2="89.3" y2="38.9"/><line x1="123.95" y1="30.5" x2="119" y2="38.9"/><line x1="183.35" y1="97.7" x2="193.25" y2="97.7"/><line x1="104.15" y1="30.5" x2="109.1" y2="38.9"/><line x1="59.6" y1="55.7" x2="64.55" y2="64.1"/><line x1="153.65" y1="148.1" x2="163.55" y2="148.1"/></g>
<line x1="99.5" y1="13.4" x2="89.2" y2="14.6" stroke="#7a7a7a" stroke-width="0.6" stroke-dasharray="1.3,1.1"/><line x1="147" y1="22.6" x2="143.8" y2="27.7" stroke="#7a7a7a" stroke-width="0.6" stroke-dasharray="1.3,1.1"/><line x1="183.9" y1="39.7" x2="183.2" y2="49.6" stroke="#7a7a7a" stroke-width="0.6" stroke-dasharray="1.3,1.1"/><line x1="189.8" y1="50.8" x2="197.1" y2="56.2" stroke="#7a7a7a" stroke-width="0.6" stroke-dasharray="1.3,1.1"/><line x1="200.5" y1="65.9" x2="197.6" y2="76.3" stroke="#7a7a7a" stroke-width="0.6" stroke-dasharray="1.3,1.1"/><line x1="203.8" y1="77.9" x2="212.5" y2="84.5" stroke="#7a7a7a" stroke-width="0.6" stroke-dasharray="1.3,1.1"/><line x1="201.4" y1="105.2" x2="196.4" y2="110.8" stroke="#7a7a7a" stroke-width="0.6" stroke-dasharray="1.3,1.1"/><line x1="203.2" y1="122.9" x2="189.8" y2="126.4" stroke="#7a7a7a" stroke-width="0.6" stroke-dasharray="1.3,1.1"/><line x1="194.7" y1="128.2" x2="197" y2="122.6" stroke="#7a7a7a" stroke-width="0.6" stroke-dasharray="1.3,1.1"/><line x1="178.4" y1="159.5" x2="180.1" y2="149.2" stroke="#7a7a7a" stroke-width="0.6" stroke-dasharray="1.3,1.1"/><line x1="157.4" y1="166.5" x2="167.3" y2="165" stroke="#7a7a7a" stroke-width="0.6" stroke-dasharray="1.3,1.1"/><line x1="73.6" y1="170.2" x2="85.3" y2="177.5" stroke="#7a7a7a" stroke-width="0.6" stroke-dasharray="1.3,1.1"/><line x1="33.6" y1="93.9" x2="30.6" y2="82" stroke="#7a7a7a" stroke-width="0.6" stroke-dasharray="1.3,1.1"/>
<line x1="79.4" y1="38.9" x2="77.4" y2="34.4" stroke="#98705a" stroke-width="1.65"/>
<line x1="77.4" y1="34.4" x2="75.4" y2="29.9" stroke="#98705a" stroke-width="1.65"/>
<line x1="75.4" y1="29.9" x2="72.85" y2="27.5" stroke="#98705a" stroke-width="1.65"/>
<line x1="72.85" y1="27.5" x2="70.3" y2="25.1" stroke="#e83a40" stroke-width="1.65"/>
<line x1="75.4" y1="29.9" x2="77.2" y2="28.25" stroke="#98705a" stroke-width="1.65"/>
<line x1="77.2" y1="28.25" x2="79" y2="26.6" stroke="#e83a40" stroke-width="1.65"/>
<line x1="79" y1="26.6" x2="77.7" y2="23.5" stroke="#e83a40" stroke-width="1.65"/>
<line x1="77.7" y1="23.5" x2="76.4" y2="20.4" stroke="#f0dcdc" stroke-width="1.65"/>
<line x1="94.25" y1="30.5" x2="91.72" y2="26.95" stroke="#98705a" stroke-width="1.65"/>
<line x1="91.72" y1="26.95" x2="89.2" y2="23.4" stroke="#98705a" stroke-width="1.65"/>
<line x1="89.2" y1="23.4" x2="87.6" y2="24.7" stroke="#98705a" stroke-width="1.65"/>
<line x1="87.6" y1="24.7" x2="86" y2="26" stroke="#e83a40" stroke-width="1.65"/>
<line x1="89.2" y1="23.4" x2="89.2" y2="19" stroke="#98705a" stroke-width="1.65"/>
<line x1="89.2" y1="19" x2="89.2" y2="14.6" stroke="#e83a40" stroke-width="1.65"/>
<line x1="89.2" y1="14.6" x2="87.75" y2="12.55" stroke="#e83a40" stroke-width="1.65"/>
<line x1="87.75" y1="12.55" x2="86.3" y2="10.5" stroke="#f0dcdc" stroke-width="1.65"/>
<line x1="104.15" y1="30.5" x2="106.47" y2="26.2" stroke="#98705a" stroke-width="1.65"/>
<line x1="106.47" y1="26.2" x2="108.8" y2="21.9" stroke="#98705a" stroke-width="1.65"/>
<line x1="108.8" y1="21.9" x2="111.7" y2="19.15" stroke="#98705a" stroke-width="1.65"/>
<line x1="111.7" y1="19.15" x2="114.6" y2="16.4" stroke="#e83a40" stroke-width="1.65"/>
<line x1="108.8" y1="21.9" x2="107.3" y2="17.9" stroke="#98705a" stroke-width="1.65"/>
<line x1="107.3" y1="17.9" x2="105.8" y2="13.9" stroke="#e83a40" stroke-width="1.65"/>
<line x1="105.8" y1="13.9" x2="102.65" y2="13.65" stroke="#e83a40" stroke-width="1.65"/>
<line x1="102.65" y1="13.65" x2="99.5" y2="13.4" stroke="#f0dcdc" stroke-width="1.65"/>
<line x1="123.95" y1="30.5" x2="122.18" y2="26.8" stroke="#98705a" stroke-width="1.65"/>
<line x1="122.18" y1="26.8" x2="120.4" y2="23.1" stroke="#e83a40" stroke-width="1.65"/>
<line x1="120.4" y1="23.1" x2="121.9" y2="17.95" stroke="#e83a40" stroke-width="1.65"/>
<line x1="121.9" y1="17.95" x2="123.4" y2="12.8" stroke="#98705a" stroke-width="1.65"/>
<line x1="123.4" y1="12.8" x2="123.75" y2="9.45" stroke="#98705a" stroke-width="1.65"/>
<line x1="123.75" y1="9.45" x2="124.1" y2="6.1" stroke="#e83a40" stroke-width="1.65"/>
<line x1="124.1" y1="6.1" x2="125.2" y2="3.5" stroke="#e83a40" stroke-width="1.65"/>
<line x1="125.2" y1="3.5" x2="126.3" y2="0.9" stroke="#f0dcdc" stroke-width="1.65"/>
<line x1="133.85" y1="30.5" x2="136.62" y2="27.05" stroke="#98705a" stroke-width="1.65"/>
<line x1="136.62" y1="27.05" x2="139.4" y2="23.6" stroke="#98705a" stroke-width="1.65"/>
<line x1="139.4" y1="23.6" x2="139.55" y2="19.45" stroke="#98705a" stroke-width="1.65"/>
<line x1="139.55" y1="19.45" x2="139.7" y2="15.3" stroke="#e83a40" stroke-width="1.65"/>
<line x1="139.4" y1="23.6" x2="141.6" y2="25.65" stroke="#98705a" stroke-width="1.65"/>
<line x1="141.6" y1="25.65" x2="143.8" y2="27.7" stroke="#e83a40" stroke-width="1.65"/>
<line x1="153.65" y1="30.5" x2="151.62" y2="27.8" stroke="#98705a" stroke-width="1.65"/>
<line x1="151.62" y1="27.8" x2="149.6" y2="25.1" stroke="#e83a40" stroke-width="1.65"/>
<line x1="149.6" y1="25.1" x2="148.3" y2="23.85" stroke="#e83a40" stroke-width="1.65"/>
<line x1="148.3" y1="23.85" x2="147" y2="22.6" stroke="#f0dcdc" stroke-width="1.65"/>
<line x1="163.55" y1="30.5" x2="164.78" y2="25.85" stroke="#98705a" stroke-width="1.65"/>
<line x1="164.78" y1="25.85" x2="166" y2="21.2" stroke="#98705a" stroke-width="1.65"/>
<line x1="166" y1="21.2" x2="165.1" y2="18.05" stroke="#98705a" stroke-width="1.65"/>
<line x1="165.1" y1="18.05" x2="164.2" y2="14.9" stroke="#e83a40" stroke-width="1.65"/>
<line x1="166" y1="21.2" x2="167.9" y2="19.95" stroke="#98705a" stroke-width="1.65"/>
<line x1="167.9" y1="19.95" x2="169.8" y2="18.7" stroke="#e83a40" stroke-width="1.65"/>
<line x1="169.8" y1="18.7" x2="170.65" y2="15.35" stroke="#e83a40" stroke-width="1.65"/>
<line x1="170.65" y1="15.35" x2="171.5" y2="12" stroke="#f0dcdc" stroke-width="1.65"/>
<line x1="168.5" y1="38.9" x2="172.8" y2="37.85" stroke="#98705a" stroke-width="1.65"/>
<line x1="172.8" y1="37.85" x2="177.1" y2="36.8" stroke="#98705a" stroke-width="1.65"/>
<line x1="177.1" y1="36.8" x2="180" y2="33.85" stroke="#98705a" stroke-width="1.65"/>
<line x1="180" y1="33.85" x2="182.9" y2="30.9" stroke="#e83a40" stroke-width="1.65"/>
<line x1="177.1" y1="36.8" x2="177.6" y2="39.2" stroke="#98705a" stroke-width="1.65"/>
<line x1="177.6" y1="39.2" x2="178.1" y2="41.6" stroke="#e83a40" stroke-width="1.65"/>
<line x1="178.1" y1="41.6" x2="181" y2="40.65" stroke="#e83a40" stroke-width="1.65"/>
<line x1="181" y1="40.65" x2="183.9" y2="39.7" stroke="#f0dcdc" stroke-width="1.65"/>
<line x1="178.4" y1="55.7" x2="180.8" y2="52.65" stroke="#98705a" stroke-width="1.65"/>
<line x1="180.8" y1="52.65" x2="183.2" y2="49.6" stroke="#e83a40" stroke-width="1.65"/>
<line x1="183.2" y1="49.6" x2="186.5" y2="50.2" stroke="#e83a40" stroke-width="1.65"/>
<line x1="186.5" y1="50.2" x2="189.8" y2="50.8" stroke="#f0dcdc" stroke-width="1.65"/>
<line x1="183.35" y1="64.1" x2="187.68" y2="63.45" stroke="#98705a" stroke-width="1.65"/>
<line x1="187.68" y1="63.45" x2="192" y2="62.8" stroke="#98705a" stroke-width="1.65"/>
<line x1="192" y1="62.8" x2="194.55" y2="59.5" stroke="#98705a" stroke-width="1.65"/>
<line x1="194.55" y1="59.5" x2="197.1" y2="56.2" stroke="#e83a40" stroke-width="1.65"/>
<line x1="192" y1="62.8" x2="193.25" y2="65.4" stroke="#98705a" stroke-width="1.65"/>
<line x1="193.25" y1="65.4" x2="194.5" y2="68" stroke="#e83a40" stroke-width="1.65"/>
<line x1="194.5" y1="68" x2="197.5" y2="66.95" stroke="#e83a40" stroke-width="1.65"/>
<line x1="197.5" y1="66.95" x2="200.5" y2="65.9" stroke="#f0dcdc" stroke-width="1.65"/>
<line x1="193.25" y1="80.9" x2="195.43" y2="78.6" stroke="#98705a" stroke-width="1.65"/>
<line x1="195.43" y1="78.6" x2="197.6" y2="76.3" stroke="#e83a40" stroke-width="1.65"/>
<line x1="197.6" y1="76.3" x2="200.7" y2="77.1" stroke="#e83a40" stroke-width="1.65"/>
<line x1="200.7" y1="77.1" x2="203.8" y2="77.9" stroke="#f0dcdc" stroke-width="1.65"/>
<line x1="198.2" y1="89.3" x2="202.9" y2="90.15" stroke="#98705a" stroke-width="1.65"/>
<line x1="202.9" y1="90.15" x2="207.6" y2="91" stroke="#98705a" stroke-width="1.65"/>
<line x1="207.6" y1="91" x2="210.05" y2="87.75" stroke="#98705a" stroke-width="1.65"/>
<line x1="210.05" y1="87.75" x2="212.5" y2="84.5" stroke="#e83a40" stroke-width="1.65"/>
<line x1="207.6" y1="91" x2="209.6" y2="94.55" stroke="#98705a" stroke-width="1.65"/>
<line x1="209.6" y1="94.55" x2="211.6" y2="98.1" stroke="#e83a40" stroke-width="1.65"/>
<line x1="193.25" y1="97.7" x2="194.23" y2="101.75" stroke="#98705a" stroke-width="1.65"/>
<line x1="194.23" y1="101.75" x2="195.2" y2="105.8" stroke="#e83a40" stroke-width="1.65"/>
<line x1="195.2" y1="105.8" x2="198.3" y2="105.5" stroke="#e83a40" stroke-width="1.65"/>
<line x1="198.3" y1="105.5" x2="201.4" y2="105.2" stroke="#f0dcdc" stroke-width="1.65"/>
<line x1="183.35" y1="114.5" x2="188.03" y2="115.1" stroke="#98705a" stroke-width="1.65"/>
<line x1="188.03" y1="115.1" x2="192.7" y2="115.7" stroke="#98705a" stroke-width="1.65"/>
<line x1="192.7" y1="115.7" x2="194.55" y2="113.25" stroke="#98705a" stroke-width="1.65"/>
<line x1="194.55" y1="113.25" x2="196.4" y2="110.8" stroke="#e83a40" stroke-width="1.65"/>
<line x1="192.7" y1="115.7" x2="194.85" y2="119.15" stroke="#98705a" stroke-width="1.65"/>
<line x1="194.85" y1="119.15" x2="197" y2="122.6" stroke="#e83a40" stroke-width="1.65"/>
<line x1="197" y1="122.6" x2="200.1" y2="122.75" stroke="#e83a40" stroke-width="1.65"/>
<line x1="200.1" y1="122.75" x2="203.2" y2="122.9" stroke="#f0dcdc" stroke-width="1.65"/>
<line x1="183.35" y1="131.3" x2="186.12" y2="132.55" stroke="#98705a" stroke-width="1.65"/>
<line x1="186.12" y1="132.55" x2="188.9" y2="133.8" stroke="#98705a" stroke-width="1.65"/>
<line x1="188.9" y1="133.8" x2="189.35" y2="130.1" stroke="#98705a" stroke-width="1.65"/>
<line x1="189.35" y1="130.1" x2="189.8" y2="126.4" stroke="#e83a40" stroke-width="1.65"/>
<line x1="188.9" y1="133.8" x2="190.75" y2="137.4" stroke="#98705a" stroke-width="1.65"/>
<line x1="190.75" y1="137.4" x2="192.6" y2="141" stroke="#e83a40" stroke-width="1.65"/>
<line x1="189.8" y1="126.4" x2="192.25" y2="127.3" stroke="#e83a40" stroke-width="1.65"/>
<line x1="192.25" y1="127.3" x2="194.7" y2="128.2" stroke="#f0dcdc" stroke-width="1.65"/>
<line x1="178.4" y1="139.7" x2="179.25" y2="144.45" stroke="#98705a" stroke-width="1.65"/>
<line x1="179.25" y1="144.45" x2="180.1" y2="149.2" stroke="#e83a40" stroke-width="1.65"/>
<line x1="180.1" y1="149.2" x2="183.35" y2="148.5" stroke="#e83a40" stroke-width="1.65"/>
<line x1="183.35" y1="148.5" x2="186.6" y2="147.8" stroke="#f0dcdc" stroke-width="1.65"/>
<line x1="163.55" y1="148.1" x2="166.03" y2="152.6" stroke="#98705a" stroke-width="1.65"/>
<line x1="166.03" y1="152.6" x2="168.5" y2="157.1" stroke="#98705a" stroke-width="1.65"/>
<line x1="168.5" y1="157.1" x2="171.4" y2="155.5" stroke="#98705a" stroke-width="1.65"/>
<line x1="171.4" y1="155.5" x2="174.3" y2="153.9" stroke="#e83a40" stroke-width="1.65"/>
<line x1="168.5" y1="157.1" x2="167.9" y2="161.05" stroke="#98705a" stroke-width="1.65"/>
<line x1="167.9" y1="161.05" x2="167.3" y2="165" stroke="#e83a40" stroke-width="1.65"/>
<line x1="174.3" y1="153.9" x2="176.35" y2="156.7" stroke="#e83a40" stroke-width="1.65"/>
<line x1="176.35" y1="156.7" x2="178.4" y2="159.5" stroke="#f0dcdc" stroke-width="1.65"/>
<line x1="148.7" y1="156.5" x2="149.65" y2="161.3" stroke="#98705a" stroke-width="1.65"/>
<line x1="149.65" y1="161.3" x2="150.6" y2="166.1" stroke="#e83a40" stroke-width="1.65"/>
<line x1="150.6" y1="166.1" x2="154" y2="166.3" stroke="#e83a40" stroke-width="1.65"/>
<line x1="154" y1="166.3" x2="157.4" y2="166.5" stroke="#f0dcdc" stroke-width="1.65"/>
<line x1="133.85" y1="164.9" x2="135.82" y2="169" stroke="#98705a" stroke-width="1.65"/>
<line x1="135.82" y1="169" x2="137.8" y2="173.1" stroke="#98705a" stroke-width="1.65"/>
<line x1="137.8" y1="173.1" x2="139.7" y2="173.1" stroke="#98705a" stroke-width="1.65"/>
<line x1="139.7" y1="173.1" x2="141.6" y2="173.1" stroke="#e83a40" stroke-width="1.65"/>
<line x1="137.8" y1="173.1" x2="137.95" y2="176.8" stroke="#98705a" stroke-width="1.65"/>
<line x1="137.95" y1="176.8" x2="138.1" y2="180.5" stroke="#e83a40" stroke-width="1.65"/>
<line x1="138.1" y1="180.5" x2="139.85" y2="182.85" stroke="#e83a40" stroke-width="1.65"/>
<line x1="139.85" y1="182.85" x2="141.6" y2="185.2" stroke="#f0dcdc" stroke-width="1.65"/>
<line x1="123.95" y1="164.9" x2="120.97" y2="167.85" stroke="#98705a" stroke-width="1.65"/>
<line x1="120.97" y1="167.85" x2="118" y2="170.8" stroke="#98705a" stroke-width="1.65"/>
<line x1="118" y1="170.8" x2="114.5" y2="169.35" stroke="#98705a" stroke-width="1.65"/>
<line x1="114.5" y1="169.35" x2="111" y2="167.9" stroke="#e83a40" stroke-width="1.65"/>
<line x1="118" y1="170.8" x2="119.75" y2="175.2" stroke="#98705a" stroke-width="1.65"/>
<line x1="119.75" y1="175.2" x2="121.5" y2="179.6" stroke="#e83a40" stroke-width="1.65"/>
<line x1="121.5" y1="179.6" x2="119.45" y2="180.15" stroke="#e83a40" stroke-width="1.65"/>
<line x1="119.45" y1="180.15" x2="117.4" y2="180.7" stroke="#f0dcdc" stroke-width="1.65"/>
<line x1="104.15" y1="164.9" x2="106.12" y2="169.6" stroke="#98705a" stroke-width="1.65"/>
<line x1="106.12" y1="169.6" x2="108.1" y2="174.3" stroke="#98705a" stroke-width="1.65"/>
<line x1="108.1" y1="174.3" x2="107.2" y2="178" stroke="#98705a" stroke-width="1.65"/>
<line x1="107.2" y1="178" x2="106.3" y2="181.7" stroke="#e83a40" stroke-width="1.65"/>
<line x1="108.1" y1="174.3" x2="111" y2="173.9" stroke="#98705a" stroke-width="1.65"/>
<line x1="111" y1="173.9" x2="113.9" y2="173.5" stroke="#e83a40" stroke-width="1.65"/>
<line x1="94.25" y1="164.9" x2="91.53" y2="169.8" stroke="#98705a" stroke-width="1.65"/>
<line x1="91.53" y1="169.8" x2="88.8" y2="174.7" stroke="#98705a" stroke-width="1.65"/>
<line x1="88.8" y1="174.7" x2="87.05" y2="176.1" stroke="#98705a" stroke-width="1.65"/>
<line x1="87.05" y1="176.1" x2="85.3" y2="177.5" stroke="#e83a40" stroke-width="1.65"/>
<line x1="88.8" y1="174.7" x2="88.6" y2="177.15" stroke="#98705a" stroke-width="1.65"/>
<line x1="88.6" y1="177.15" x2="88.4" y2="179.6" stroke="#e83a40" stroke-width="1.65"/>
<line x1="85.3" y1="177.5" x2="83.85" y2="180.3" stroke="#e83a40" stroke-width="1.65"/>
<line x1="83.85" y1="180.3" x2="82.4" y2="183.1" stroke="#f0dcdc" stroke-width="1.65"/>
<line x1="79.4" y1="156.5" x2="76.2" y2="160.75" stroke="#98705a" stroke-width="1.65"/>
<line x1="76.2" y1="160.75" x2="73" y2="165" stroke="#98705a" stroke-width="1.65"/>
<line x1="73" y1="165" x2="74.45" y2="164.7" stroke="#98705a" stroke-width="1.65"/>
<line x1="74.45" y1="164.7" x2="75.9" y2="164.4" stroke="#e83a40" stroke-width="1.65"/>
<line x1="73" y1="165" x2="71.25" y2="167.9" stroke="#98705a" stroke-width="1.65"/>
<line x1="71.25" y1="167.9" x2="69.5" y2="170.8" stroke="#e83a40" stroke-width="1.65"/>
<line x1="75.9" y1="164.4" x2="74.75" y2="167.3" stroke="#e83a40" stroke-width="1.65"/>
<line x1="74.75" y1="167.3" x2="73.6" y2="170.2" stroke="#f0dcdc" stroke-width="1.65"/>
<line x1="64.55" y1="148.1" x2="60.62" y2="151.85" stroke="#98705a" stroke-width="1.65"/>
<line x1="60.62" y1="151.85" x2="56.7" y2="155.6" stroke="#98705a" stroke-width="1.65"/>
<line x1="56.7" y1="155.6" x2="55.85" y2="157.55" stroke="#98705a" stroke-width="1.65"/>
<line x1="55.85" y1="157.55" x2="55" y2="159.5" stroke="#e83a40" stroke-width="1.65"/>
<line x1="55" y1="159.5" x2="53.2" y2="161.65" stroke="#e83a40" stroke-width="1.65"/>
<line x1="53.2" y1="161.65" x2="51.4" y2="163.8" stroke="#f0dcdc" stroke-width="1.65"/>
<line x1="59.6" y1="139.7" x2="54.65" y2="139.2" stroke="#98705a" stroke-width="1.65"/>
<line x1="54.65" y1="139.2" x2="49.7" y2="138.7" stroke="#98705a" stroke-width="1.65"/>
<line x1="49.7" y1="138.7" x2="48.35" y2="134.75" stroke="#98705a" stroke-width="1.65"/>
<line x1="48.35" y1="134.75" x2="47" y2="130.8" stroke="#e83a40" stroke-width="1.65"/>
<line x1="49.7" y1="138.7" x2="45.35" y2="137.1" stroke="#98705a" stroke-width="1.65"/>
<line x1="45.35" y1="137.1" x2="41" y2="135.5" stroke="#e83a40" stroke-width="1.65"/>
<line x1="41" y1="135.5" x2="38.4" y2="136.85" stroke="#e83a40" stroke-width="1.65"/>
<line x1="38.4" y1="136.85" x2="35.8" y2="138.2" stroke="#f0dcdc" stroke-width="1.65"/>
<line x1="44.75" y1="114.5" x2="39.52" y2="114.85" stroke="#98705a" stroke-width="1.65"/>
<line x1="39.52" y1="114.85" x2="34.3" y2="115.2" stroke="#98705a" stroke-width="1.65"/>
<line x1="34.3" y1="115.2" x2="31.35" y2="115.55" stroke="#98705a" stroke-width="1.65"/>
<line x1="31.35" y1="115.55" x2="28.4" y2="115.9" stroke="#e83a40" stroke-width="1.65"/>
<line x1="28.4" y1="115.9" x2="25.4" y2="116.05" stroke="#e83a40" stroke-width="1.65"/>
<line x1="25.4" y1="116.05" x2="22.4" y2="116.2" stroke="#f0dcdc" stroke-width="1.65"/>
<line x1="44.75" y1="97.7" x2="39.92" y2="97.9" stroke="#98705a" stroke-width="1.65"/>
<line x1="39.92" y1="97.9" x2="35.1" y2="98.1" stroke="#e83a40" stroke-width="1.65"/>
<line x1="35.1" y1="98.1" x2="34.35" y2="96" stroke="#e83a40" stroke-width="1.65"/>
<line x1="34.35" y1="96" x2="33.6" y2="93.9" stroke="#f0dcdc" stroke-width="1.65"/>
<line x1="44.75" y1="80.9" x2="39.52" y2="80.45" stroke="#98705a" stroke-width="1.65"/>
<line x1="39.52" y1="80.45" x2="34.3" y2="80" stroke="#98705a" stroke-width="1.65"/>
<line x1="34.3" y1="80" x2="31.95" y2="79" stroke="#98705a" stroke-width="1.65"/>
<line x1="31.95" y1="79" x2="29.6" y2="78" stroke="#e83a40" stroke-width="1.65"/>
<line x1="34.3" y1="80" x2="32.45" y2="81" stroke="#98705a" stroke-width="1.65"/>
<line x1="32.45" y1="81" x2="30.6" y2="82" stroke="#e83a40" stroke-width="1.65"/>
<line x1="29.6" y1="78" x2="26.4" y2="78" stroke="#e83a40" stroke-width="1.65"/>
<line x1="26.4" y1="78" x2="23.2" y2="78" stroke="#f0dcdc" stroke-width="1.65"/>
<line x1="49.7" y1="72.5" x2="47.75" y2="67.9" stroke="#98705a" stroke-width="1.65"/>
<line x1="47.75" y1="67.9" x2="45.8" y2="63.3" stroke="#98705a" stroke-width="1.65"/>
<line x1="45.8" y1="63.3" x2="41.2" y2="62.55" stroke="#98705a" stroke-width="1.65"/>
<line x1="41.2" y1="62.55" x2="36.6" y2="61.8" stroke="#e83a40" stroke-width="1.65"/>
<line x1="45.8" y1="63.3" x2="47.85" y2="63.6" stroke="#98705a" stroke-width="1.65"/>
<line x1="47.85" y1="63.6" x2="49.9" y2="63.9" stroke="#e83a40" stroke-width="1.65"/>
<line x1="36.6" y1="61.8" x2="35.85" y2="59.3" stroke="#e83a40" stroke-width="1.65"/>
<line x1="35.85" y1="59.3" x2="35.1" y2="56.8" stroke="#f0dcdc" stroke-width="1.65"/>
<line x1="59.6" y1="55.7" x2="55.05" y2="55.75" stroke="#98705a" stroke-width="1.65"/>
<line x1="55.05" y1="55.75" x2="50.5" y2="55.8" stroke="#98705a" stroke-width="1.65"/>
<line x1="50.5" y1="55.8" x2="47.95" y2="52.85" stroke="#98705a" stroke-width="1.65"/>
<line x1="47.95" y1="52.85" x2="45.4" y2="49.9" stroke="#e83a40" stroke-width="1.65"/>
<line x1="50.5" y1="55.8" x2="50.2" y2="57.65" stroke="#98705a" stroke-width="1.65"/>
<line x1="50.2" y1="57.65" x2="49.9" y2="59.5" stroke="#e83a40" stroke-width="1.65"/>
<line x1="64.55" y1="47.3" x2="61.58" y2="43.2" stroke="#98705a" stroke-width="1.65"/>
<line x1="61.58" y1="43.2" x2="58.6" y2="39.1" stroke="#98705a" stroke-width="1.65"/>
<line x1="58.6" y1="39.1" x2="56.4" y2="37.45" stroke="#98705a" stroke-width="1.65"/>
<line x1="56.4" y1="37.45" x2="54.2" y2="35.8" stroke="#e83a40" stroke-width="1.65"/>
<line x1="58.6" y1="39.1" x2="58.75" y2="37.05" stroke="#98705a" stroke-width="1.65"/>
<line x1="58.75" y1="37.05" x2="58.9" y2="35" stroke="#e83a40" stroke-width="1.65"/>
<line x1="54.2" y1="35.8" x2="54.55" y2="32.85" stroke="#e83a40" stroke-width="1.65"/>
<line x1="54.55" y1="32.85" x2="54.9" y2="29.9" stroke="#f0dcdc" stroke-width="1.65"/>
<circle cx="94.25" cy="30.5" r="2.05" fill="url(#gc)"/>
<circle cx="104.15" cy="30.5" r="2.05" fill="url(#gc)"/>
<circle cx="123.95" cy="30.5" r="2.05" fill="url(#gc)"/>
<circle cx="133.85" cy="30.5" r="2.05" fill="url(#gc)"/>
<circle cx="153.65" cy="30.5" r="2.05" fill="url(#gc)"/>
<circle cx="163.55" cy="30.5" r="2.05" fill="url(#gc)"/>
<circle cx="79.4" cy="38.9" r="2.05" fill="url(#gc)"/>
<circle cx="89.3" cy="38.9" r="2.05" fill="url(#gc)"/>
<circle cx="109.1" cy="38.9" r="2.05" fill="url(#gc)"/>
<circle cx="119" cy="38.9" r="2.05" fill="url(#gc)"/>
<circle cx="138.8" cy="38.9" r="2.05" fill="url(#gc)"/>
<circle cx="148.7" cy="38.9" r="2.05" fill="url(#gc)"/>
<circle cx="168.5" cy="38.9" r="2.05" fill="url(#gc)"/>
<circle cx="64.55" cy="47.3" r="2.05" fill="url(#gc)"/>
<circle cx="74.45" cy="47.3" r="2.05" fill="url(#gc)"/>
<circle cx="94.25" cy="47.3" r="2.05" fill="url(#gc)"/>
<circle cx="104.15" cy="47.3" r="2.05" fill="url(#gc)"/>
<circle cx="123.95" cy="47.3" r="2.05" fill="url(#gc)"/>
<circle cx="133.85" cy="47.3" r="2.05" fill="url(#gc)"/>
<circle cx="153.65" cy="47.3" r="2.05" fill="url(#gc)"/>
<circle cx="163.55" cy="47.3" r="2.05" fill="url(#gc)"/>
<circle cx="59.6" cy="55.7" r="2.05" fill="url(#gc)"/>
<circle cx="79.4" cy="55.7" r="2.05" fill="url(#gc)"/>
<circle cx="89.3" cy="55.7" r="2.05" fill="url(#gc)"/>
<circle cx="109.1" cy="55.7" r="2.05" fill="url(#gc)"/>
<circle cx="119" cy="55.7" r="2.05" fill="url(#gc)"/>
<circle cx="138.8" cy="55.7" r="2.05" fill="url(#gc)"/>
<circle cx="148.7" cy="55.7" r="2.05" fill="url(#gc)"/>
<circle cx="168.5" cy="55.7" r="2.05" fill="url(#gc)"/>
<circle cx="178.4" cy="55.7" r="2.05" fill="url(#gc)"/>
<circle cx="64.55" cy="64.1" r="2.05" fill="url(#gc)"/>
<circle cx="74.45" cy="64.1" r="2.05" fill="url(#gc)"/>
<circle cx="94.25" cy="64.1" r="2.05" fill="url(#gc)"/>
<circle cx="104.15" cy="64.1" r="2.05" fill="url(#gc)"/>
<circle cx="123.95" cy="64.1" r="2.05" fill="url(#gc)"/>
<circle cx="133.85" cy="64.1" r="2.05" fill="url(#gc)"/>
<circle cx="153.65" cy="64.1" r="2.05" fill="url(#gc)"/>
<circle cx="163.55" cy="64.1" r="2.05" fill="url(#gc)"/>
<circle cx="183.35" cy="64.1" r="2.05" fill="url(#gc)"/>
<circle cx="49.7" cy="72.5" r="2.05" fill="url(#gc)"/>
<circle cx="59.6" cy="72.5" r="2.05" fill="url(#gc)"/>
<circle cx="79.4" cy="72.5" r="2.05" fill="url(#gc)"/>
<circle cx="89.3" cy="72.5" r="2.05" fill="url(#gc)"/>
<circle cx="109.1" cy="72.5" r="2.05" fill="url(#gc)"/>
<circle cx="119" cy="72.5" r="2.05" fill="url(#gc)"/>
<circle cx="138.8" cy="72.5" r="2.05" fill="url(#gc)"/>
<circle cx="148.7" cy="72.5" r="2.05" fill="url(#gc)"/>
<circle cx="168.5" cy="72.5" r="2.05" fill="url(#gc)"/>
<circle cx="178.4" cy="72.5" r="2.05" fill="url(#gc)"/>
<circle cx="44.75" cy="80.9" r="2.05" fill="url(#gc)"/>
<circle cx="64.55" cy="80.9" r="2.05" fill="url(#gc)"/>
<circle cx="74.45" cy="80.9" r="2.05" fill="url(#gc)"/>
<circle cx="94.25" cy="80.9" r="2.05" fill="url(#gc)"/>
<circle cx="104.15" cy="80.9" r="2.05" fill="url(#gc)"/>
<circle cx="123.95" cy="80.9" r="2.05" fill="url(#gc)"/>
<circle cx="133.85" cy="80.9" r="2.05" fill="url(#gc)"/>
<circle cx="153.65" cy="80.9" r="2.05" fill="url(#gc)"/>
<circle cx="163.55" cy="80.9" r="2.05" fill="url(#gc)"/>
<circle cx="183.35" cy="80.9" r="2.05" fill="url(#gc)"/>
<circle cx="193.25" cy="80.9" r="2.05" fill="url(#gc)"/>
<circle cx="49.7" cy="89.3" r="2.05" fill="url(#gc)"/>
<circle cx="59.6" cy="89.3" r="2.05" fill="url(#gc)"/>
<circle cx="79.4" cy="89.3" r="2.05" fill="url(#gc)"/>
<circle cx="89.3" cy="89.3" r="2.05" fill="url(#gc)"/>
<circle cx="109.1" cy="89.3" r="2.05" fill="url(#gc)"/>
<circle cx="119" cy="89.3" r="2.05" fill="url(#gc)"/>
<circle cx="138.8" cy="89.3" r="2.05" fill="url(#gc)"/>
<circle cx="148.7" cy="89.3" r="2.05" fill="url(#gc)"/>
<circle cx="168.5" cy="89.3" r="2.05" fill="url(#gc)"/>
<circle cx="178.4" cy="89.3" r="2.05" fill="url(#gc)"/>
<circle cx="198.2" cy="89.3" r="2.05" fill="url(#gc)"/>
<circle cx="44.75" cy="97.7" r="2.05" fill="url(#gc)"/>
<circle cx="64.55" cy="97.7" r="2.05" fill="url(#gc)"/>
<circle cx="74.45" cy="97.7" r="2.05" fill="url(#gc)"/>
<circle cx="94.25" cy="97.7" r="2.05" fill="url(#gc)"/>
<circle cx="104.15" cy="97.7" r="2.05" fill="url(#gc)"/>
<circle cx="123.95" cy="97.7" r="2.05" fill="url(#gc)"/>
<circle cx="133.85" cy="97.7" r="2.05" fill="url(#gc)"/>
<circle cx="153.65" cy="97.7" r="2.05" fill="url(#gc)"/>
<circle cx="163.55" cy="97.7" r="2.05" fill="url(#gc)"/>
<circle cx="183.35" cy="97.7" r="2.05" fill="url(#gc)"/>
<circle cx="193.25" cy="97.7" r="2.05" fill="url(#gc)"/>
<circle cx="49.7" cy="106.1" r="2.05" fill="url(#gc)"/>
<circle cx="59.6" cy="106.1" r="2.05" fill="url(#gc)"/>
<circle cx="79.4" cy="106.1" r="2.05" fill="url(#gc)"/>
<circle cx="89.3" cy="106.1" r="2.05" fill="url(#gc)"/>
<circle cx="109.1" cy="106.1" r="2.05" fill="url(#gc)"/>
<circle cx="119" cy="106.1" r="2.05" fill="url(#gc)"/>
<circle cx="138.8" cy="106.1" r="2.05" fill="url(#gc)"/>
<circle cx="148.7" cy="106.1" r="2.05" fill="url(#gc)"/>
<circle cx="168.5" cy="106.1" r="2.05" fill="url(#gc)"/>
<circle cx="178.4" cy="106.1" r="2.05" fill="url(#gc)"/>
<circle cx="44.75" cy="114.5" r="2.05" fill="url(#gc)"/>
<circle cx="64.55" cy="114.5" r="2.05" fill="url(#gc)"/>
<circle cx="74.45" cy="114.5" r="2.05" fill="url(#gc)"/>
<circle cx="94.25" cy="114.5" r="2.05" fill="url(#gc)"/>
<circle cx="104.15" cy="114.5" r="2.05" fill="url(#gc)"/>
<circle cx="123.95" cy="114.5" r="2.05" fill="url(#gc)"/>
<circle cx="133.85" cy="114.5" r="2.05" fill="url(#gc)"/>
<circle cx="153.65" cy="114.5" r="2.05" fill="url(#gc)"/>
<circle cx="163.55" cy="114.5" r="2.05" fill="url(#gc)"/>
<circle cx="183.35" cy="114.5" r="2.05" fill="url(#gc)"/>
<circle cx="49.7" cy="122.9" r="2.05" fill="url(#gc)"/>
<circle cx="59.6" cy="122.9" r="2.05" fill="url(#gc)"/>
<circle cx="79.4" cy="122.9" r="2.05" fill="url(#gc)"/>
<circle cx="89.3" cy="122.9" r="2.05" fill="url(#gc)"/>
<circle cx="109.1" cy="122.9" r="2.05" fill="url(#gc)"/>
<circle cx="119" cy="122.9" r="2.05" fill="url(#gc)"/>
<circle cx="138.8" cy="122.9" r="2.05" fill="url(#gc)"/>
<circle cx="148.7" cy="122.9" r="2.05" fill="url(#gc)"/>
<circle cx="168.5" cy="122.9" r="2.05" fill="url(#gc)"/>
<circle cx="178.4" cy="122.9" r="2.05" fill="url(#gc)"/>
<circle cx="64.55" cy="131.3" r="2.05" fill="url(#gc)"/>
<circle cx="74.45" cy="131.3" r="2.05" fill="url(#gc)"/>
<circle cx="94.25" cy="131.3" r="2.05" fill="url(#gc)"/>
<circle cx="104.15" cy="131.3" r="2.05" fill="url(#gc)"/>
<circle cx="123.95" cy="131.3" r="2.05" fill="url(#gc)"/>
<circle cx="133.85" cy="131.3" r="2.05" fill="url(#gc)"/>
<circle cx="153.65" cy="131.3" r="2.05" fill="url(#gc)"/>
<circle cx="163.55" cy="131.3" r="2.05" fill="url(#gc)"/>
<circle cx="183.35" cy="131.3" r="2.05" fill="url(#gc)"/>
<circle cx="59.6" cy="139.7" r="2.05" fill="url(#gc)"/>
<circle cx="79.4" cy="139.7" r="2.05" fill="url(#gc)"/>
<circle cx="89.3" cy="139.7" r="2.05" fill="url(#gc)"/>
<circle cx="109.1" cy="139.7" r="2.05" fill="url(#gc)"/>
<circle cx="119" cy="139.7" r="2.05" fill="url(#gc)"/>
<circle cx="138.8" cy="139.7" r="2.05" fill="url(#gc)"/>
<circle cx="148.7" cy="139.7" r="2.05" fill="url(#gc)"/>
<circle cx="168.5" cy="139.7" r="2.05" fill="url(#gc)"/>
<circle cx="178.4" cy="139.7" r="2.05" fill="url(#gc)"/>
<circle cx="64.55" cy="148.1" r="2.05" fill="url(#gc)"/>
<circle cx="74.45" cy="148.1" r="2.05" fill="url(#gc)"/>
<circle cx="94.25" cy="148.1" r="2.05" fill="url(#gc)"/>
<circle cx="104.15" cy="148.1" r="2.05" fill="url(#gc)"/>
<circle cx="123.95" cy="148.1" r="2.05" fill="url(#gc)"/>
<circle cx="133.85" cy="148.1" r="2.05" fill="url(#gc)"/>
<circle cx="153.65" cy="148.1" r="2.05" fill="url(#gc)"/>
<circle cx="163.55" cy="148.1" r="2.05" fill="url(#gc)"/>
<circle cx="79.4" cy="156.5" r="2.05" fill="url(#gc)"/>
<circle cx="89.3" cy="156.5" r="2.05" fill="url(#gc)"/>
<circle cx="109.1" cy="156.5" r="2.05" fill="url(#gc)"/>
<circle cx="119" cy="156.5" r="2.05" fill="url(#gc)"/>
<circle cx="138.8" cy="156.5" r="2.05" fill="url(#gc)"/>
<circle cx="148.7" cy="156.5" r="2.05" fill="url(#gc)"/>
<circle cx="94.25" cy="164.9" r="2.05" fill="url(#gc)"/>
<circle cx="104.15" cy="164.9" r="2.05" fill="url(#gc)"/>
<circle cx="123.95" cy="164.9" r="2.05" fill="url(#gc)"/>
<circle cx="133.85" cy="164.9" r="2.05" fill="url(#gc)"/>
<circle cx="75.4" cy="29.9" r="2.05" fill="url(#gc)"/>
<circle cx="70.3" cy="25.1" r="2.15" fill="url(#go2)"/>
<circle cx="79" cy="26.6" r="2.15" fill="url(#go2)"/>
<circle cx="76.4" cy="20.4" r="1.27" fill="url(#gh)" stroke="#c9a4a4" stroke-width="0.45"/>
<circle cx="89.2" cy="23.4" r="2.05" fill="url(#gc)"/>
<circle cx="86" cy="26" r="2.15" fill="url(#go2)"/>
<circle cx="89.2" cy="14.6" r="2.15" fill="url(#go2)"/>
<circle cx="86.3" cy="10.5" r="1.27" fill="url(#gh)" stroke="#c9a4a4" stroke-width="0.45"/>
<circle cx="108.8" cy="21.9" r="2.05" fill="url(#gc)"/>
<circle cx="114.6" cy="16.4" r="2.15" fill="url(#go2)"/>
<circle cx="105.8" cy="13.9" r="2.15" fill="url(#go2)"/>
<circle cx="99.5" cy="13.4" r="1.27" fill="url(#gh)" stroke="#c9a4a4" stroke-width="0.45"/>
<circle cx="120.4" cy="23.1" r="2.15" fill="url(#go2)"/>
<circle cx="123.4" cy="12.8" r="2.05" fill="url(#gc)"/>
<circle cx="124.1" cy="6.1" r="2.15" fill="url(#go2)"/>
<circle cx="126.3" cy="0.9" r="1.27" fill="url(#gh)" stroke="#c9a4a4" stroke-width="0.45"/>
<circle cx="139.4" cy="23.6" r="2.05" fill="url(#gc)"/>
<circle cx="139.7" cy="15.3" r="2.15" fill="url(#go2)"/>
<circle cx="143.8" cy="27.7" r="2.15" fill="url(#go2)"/>
<circle cx="149.6" cy="25.1" r="2.15" fill="url(#go2)"/>
<circle cx="147" cy="22.6" r="1.27" fill="url(#gh)" stroke="#c9a4a4" stroke-width="0.45"/>
<circle cx="166" cy="21.2" r="2.05" fill="url(#gc)"/>
<circle cx="164.2" cy="14.9" r="2.15" fill="url(#go2)"/>
<circle cx="169.8" cy="18.7" r="2.15" fill="url(#go2)"/>
<circle cx="171.5" cy="12" r="1.27" fill="url(#gh)" stroke="#c9a4a4" stroke-width="0.45"/>
<circle cx="177.1" cy="36.8" r="2.05" fill="url(#gc)"/>
<circle cx="182.9" cy="30.9" r="2.15" fill="url(#go2)"/>
<circle cx="178.1" cy="41.6" r="2.15" fill="url(#go2)"/>
<circle cx="183.9" cy="39.7" r="1.27" fill="url(#gh)" stroke="#c9a4a4" stroke-width="0.45"/>
<circle cx="183.2" cy="49.6" r="2.15" fill="url(#go2)"/>
<circle cx="189.8" cy="50.8" r="1.27" fill="url(#gh)" stroke="#c9a4a4" stroke-width="0.45"/>
<circle cx="192" cy="62.8" r="2.05" fill="url(#gc)"/>
<circle cx="197.1" cy="56.2" r="2.15" fill="url(#go2)"/>
<circle cx="194.5" cy="68" r="2.15" fill="url(#go2)"/>
<circle cx="200.5" cy="65.9" r="1.27" fill="url(#gh)" stroke="#c9a4a4" stroke-width="0.45"/>
<circle cx="197.6" cy="76.3" r="2.15" fill="url(#go2)"/>
<circle cx="203.8" cy="77.9" r="1.27" fill="url(#gh)" stroke="#c9a4a4" stroke-width="0.45"/>
<circle cx="207.6" cy="91" r="2.05" fill="url(#gc)"/>
<circle cx="212.5" cy="84.5" r="2.15" fill="url(#go2)"/>
<circle cx="211.6" cy="98.1" r="2.15" fill="url(#go2)"/>
<circle cx="195.2" cy="105.8" r="2.15" fill="url(#go2)"/>
<circle cx="201.4" cy="105.2" r="1.27" fill="url(#gh)" stroke="#c9a4a4" stroke-width="0.45"/>
<circle cx="192.7" cy="115.7" r="2.05" fill="url(#gc)"/>
<circle cx="196.4" cy="110.8" r="2.15" fill="url(#go2)"/>
<circle cx="197" cy="122.6" r="2.15" fill="url(#go2)"/>
<circle cx="203.2" cy="122.9" r="1.27" fill="url(#gh)" stroke="#c9a4a4" stroke-width="0.45"/>
<circle cx="188.9" cy="133.8" r="2.05" fill="url(#gc)"/>
<circle cx="189.8" cy="126.4" r="2.15" fill="url(#go2)"/>
<circle cx="192.6" cy="141" r="2.15" fill="url(#go2)"/>
<circle cx="194.7" cy="128.2" r="1.27" fill="url(#gh)" stroke="#c9a4a4" stroke-width="0.45"/>
<circle cx="180.1" cy="149.2" r="2.15" fill="url(#go2)"/>
<circle cx="186.6" cy="147.8" r="1.27" fill="url(#gh)" stroke="#c9a4a4" stroke-width="0.45"/>
<circle cx="168.5" cy="157.1" r="2.05" fill="url(#gc)"/>
<circle cx="174.3" cy="153.9" r="2.15" fill="url(#go2)"/>
<circle cx="167.3" cy="165" r="2.15" fill="url(#go2)"/>
<circle cx="178.4" cy="159.5" r="1.27" fill="url(#gh)" stroke="#c9a4a4" stroke-width="0.45"/>
<circle cx="150.6" cy="166.1" r="2.15" fill="url(#go2)"/>
<circle cx="157.4" cy="166.5" r="1.27" fill="url(#gh)" stroke="#c9a4a4" stroke-width="0.45"/>
<circle cx="137.8" cy="173.1" r="2.05" fill="url(#gc)"/>
<circle cx="141.6" cy="173.1" r="2.15" fill="url(#go2)"/>
<circle cx="138.1" cy="180.5" r="2.15" fill="url(#go2)"/>
<circle cx="141.6" cy="185.2" r="1.27" fill="url(#gh)" stroke="#c9a4a4" stroke-width="0.45"/>
<circle cx="118" cy="170.8" r="2.05" fill="url(#gc)"/>
<circle cx="111" cy="167.9" r="2.15" fill="url(#go2)"/>
<circle cx="121.5" cy="179.6" r="2.15" fill="url(#go2)"/>
<circle cx="117.4" cy="180.7" r="1.27" fill="url(#gh)" stroke="#c9a4a4" stroke-width="0.45"/>
<circle cx="108.1" cy="174.3" r="2.05" fill="url(#gc)"/>
<circle cx="106.3" cy="181.7" r="2.15" fill="url(#go2)"/>
<circle cx="113.9" cy="173.5" r="2.15" fill="url(#go2)"/>
<circle cx="88.8" cy="174.7" r="2.05" fill="url(#gc)"/>
<circle cx="85.3" cy="177.5" r="2.15" fill="url(#go2)"/>
<circle cx="88.4" cy="179.6" r="2.15" fill="url(#go2)"/>
<circle cx="82.4" cy="183.1" r="1.27" fill="url(#gh)" stroke="#c9a4a4" stroke-width="0.45"/>
<circle cx="73" cy="165" r="2.05" fill="url(#gc)"/>
<circle cx="75.9" cy="164.4" r="2.15" fill="url(#go2)"/>
<circle cx="69.5" cy="170.8" r="2.15" fill="url(#go2)"/>
<circle cx="73.6" cy="170.2" r="1.27" fill="url(#gh)" stroke="#c9a4a4" stroke-width="0.45"/>
<circle cx="56.7" cy="155.6" r="2.05" fill="url(#gc)"/>
<circle cx="55" cy="159.5" r="2.15" fill="url(#go2)"/>
<circle cx="51.4" cy="163.8" r="1.27" fill="url(#gh)" stroke="#c9a4a4" stroke-width="0.45"/>
<circle cx="49.7" cy="138.7" r="2.05" fill="url(#gc)"/>
<circle cx="47" cy="130.8" r="2.15" fill="url(#go2)"/>
<circle cx="41" cy="135.5" r="2.15" fill="url(#go2)"/>
<circle cx="35.8" cy="138.2" r="1.27" fill="url(#gh)" stroke="#c9a4a4" stroke-width="0.45"/>
<circle cx="34.3" cy="115.2" r="2.05" fill="url(#gc)"/>
<circle cx="28.4" cy="115.9" r="2.15" fill="url(#go2)"/>
<circle cx="22.4" cy="116.2" r="1.27" fill="url(#gh)" stroke="#c9a4a4" stroke-width="0.45"/>
<circle cx="35.1" cy="98.1" r="2.15" fill="url(#go2)"/>
<circle cx="33.6" cy="93.9" r="1.27" fill="url(#gh)" stroke="#c9a4a4" stroke-width="0.45"/>
<circle cx="34.3" cy="80" r="2.05" fill="url(#gc)"/>
<circle cx="29.6" cy="78" r="2.15" fill="url(#go2)"/>
<circle cx="30.6" cy="82" r="2.15" fill="url(#go2)"/>
<circle cx="23.2" cy="78" r="1.27" fill="url(#gh)" stroke="#c9a4a4" stroke-width="0.45"/>
<circle cx="45.8" cy="63.3" r="2.05" fill="url(#gc)"/>
<circle cx="36.6" cy="61.8" r="2.15" fill="url(#go2)"/>
<circle cx="49.9" cy="63.9" r="2.15" fill="url(#go2)"/>
<circle cx="35.1" cy="56.8" r="1.27" fill="url(#gh)" stroke="#c9a4a4" stroke-width="0.45"/>
<circle cx="50.5" cy="55.8" r="2.05" fill="url(#gc)"/>
<circle cx="45.4" cy="49.9" r="2.15" fill="url(#go2)"/>
<circle cx="49.9" cy="59.5" r="2.15" fill="url(#go2)"/>
<circle cx="58.6" cy="39.1" r="2.05" fill="url(#gc)"/>
<circle cx="54.2" cy="35.8" r="2.15" fill="url(#go2)"/>
<circle cx="58.9" cy="35" r="2.15" fill="url(#go2)"/>
<circle cx="54.9" cy="29.9" r="1.27" fill="url(#gh)" stroke="#c9a4a4" stroke-width="0.45"/>
<g stroke="#b38a70" stroke-width="1.7"><line x1="329.05" y1="79.35" x2="334.8" y2="88.5"/><line x1="369.3" y1="33.6" x2="363.55" y2="42.75"/><line x1="311.8" y1="70.2" x2="317.55" y2="79.35"/><line x1="369.3" y1="33.6" x2="380.8" y2="33.6"/><line x1="386.55" y1="115.95" x2="380.8" y2="125.1"/><line x1="398.05" y1="61.05" x2="403.8" y2="70.2"/><line x1="369.3" y1="106.8" x2="380.8" y2="106.8"/><line x1="403.8" y1="125.1" x2="398.05" y2="134.25"/><line x1="317.55" y1="134.25" x2="329.05" y2="134.25"/><line x1="403.8" y1="88.5" x2="398.05" y2="97.65"/><line x1="403.8" y1="51.9" x2="398.05" y2="61.05"/><line x1="363.55" y1="79.35" x2="369.3" y2="88.5"/><line x1="283.05" y1="97.65" x2="294.55" y2="97.65"/><line x1="300.3" y1="70.2" x2="294.55" y2="79.35"/><line x1="386.55" y1="61.05" x2="380.8" y2="70.2"/><line x1="386.55" y1="42.75" x2="380.8" y2="51.9"/><line x1="346.3" y1="51.9" x2="352.05" y2="61.05"/><line x1="300.3" y1="106.8" x2="294.55" y2="115.95"/><line x1="380.8" y1="33.6" x2="386.55" y2="42.75"/><line x1="386.55" y1="134.25" x2="380.8" y2="143.4"/><line x1="294.55" y1="79.35" x2="300.3" y2="88.5"/><line x1="352.05" y1="134.25" x2="346.3" y2="143.4"/><line x1="294.55" y1="97.65" x2="300.3" y2="106.8"/><line x1="403.8" y1="106.8" x2="398.05" y2="115.95"/><line x1="311.8" y1="51.9" x2="317.55" y2="61.05"/><line x1="352.05" y1="79.35" x2="363.55" y2="79.35"/><line x1="334.8" y1="51.9" x2="346.3" y2="51.9"/><line x1="352.05" y1="61.05" x2="363.55" y2="61.05"/><line x1="334.8" y1="70.2" x2="346.3" y2="70.2"/><line x1="334.8" y1="106.8" x2="346.3" y2="106.8"/><line x1="369.3" y1="143.4" x2="380.8" y2="143.4"/><line x1="352.05" y1="42.75" x2="346.3" y2="51.9"/><line x1="346.3" y1="70.2" x2="352.05" y2="79.35"/><line x1="346.3" y1="88.5" x2="352.05" y2="97.65"/><line x1="380.8" y1="51.9" x2="386.55" y2="61.05"/><line x1="369.3" y1="88.5" x2="380.8" y2="88.5"/><line x1="317.55" y1="97.65" x2="329.05" y2="97.65"/><line x1="334.8" y1="88.5" x2="346.3" y2="88.5"/><line x1="334.8" y1="88.5" x2="329.05" y2="97.65"/><line x1="386.55" y1="42.75" x2="398.05" y2="42.75"/><line x1="300.3" y1="51.9" x2="311.8" y2="51.9"/><line x1="317.55" y1="61.05" x2="329.05" y2="61.05"/><line x1="317.55" y1="61.05" x2="311.8" y2="70.2"/><line x1="369.3" y1="125.1" x2="363.55" y2="134.25"/><line x1="294.55" y1="61.05" x2="300.3" y2="70.2"/><line x1="415.3" y1="88.5" x2="421.05" y2="97.65"/><line x1="334.8" y1="70.2" x2="329.05" y2="79.35"/><line x1="334.8" y1="106.8" x2="329.05" y2="115.95"/><line x1="317.55" y1="42.75" x2="311.8" y2="51.9"/><line x1="415.3" y1="70.2" x2="421.05" y2="79.35"/><line x1="363.55" y1="115.95" x2="369.3" y2="125.1"/><line x1="346.3" y1="33.6" x2="352.05" y2="42.75"/><line x1="317.55" y1="115.95" x2="311.8" y2="125.1"/><line x1="311.8" y1="125.1" x2="317.55" y2="134.25"/><line x1="398.05" y1="42.75" x2="403.8" y2="51.9"/><line x1="403.8" y1="88.5" x2="415.3" y2="88.5"/><line x1="317.55" y1="134.25" x2="311.8" y2="143.4"/><line x1="386.55" y1="134.25" x2="398.05" y2="134.25"/><line x1="283.05" y1="79.35" x2="294.55" y2="79.35"/><line x1="317.55" y1="42.75" x2="329.05" y2="42.75"/><line x1="334.8" y1="33.6" x2="329.05" y2="42.75"/><line x1="346.3" y1="125.1" x2="352.05" y2="134.25"/><line x1="311.8" y1="106.8" x2="317.55" y2="115.95"/><line x1="369.3" y1="51.9" x2="380.8" y2="51.9"/><line x1="386.55" y1="61.05" x2="398.05" y2="61.05"/><line x1="369.3" y1="51.9" x2="363.55" y2="61.05"/><line x1="403.8" y1="70.2" x2="398.05" y2="79.35"/><line x1="369.3" y1="125.1" x2="380.8" y2="125.1"/><line x1="334.8" y1="143.4" x2="329.05" y2="152.55"/><line x1="380.8" y1="125.1" x2="386.55" y2="134.25"/><line x1="386.55" y1="115.95" x2="398.05" y2="115.95"/><line x1="300.3" y1="51.9" x2="294.55" y2="61.05"/><line x1="386.55" y1="79.35" x2="398.05" y2="79.35"/><line x1="300.3" y1="125.1" x2="311.8" y2="125.1"/><line x1="363.55" y1="97.65" x2="369.3" y2="106.8"/><line x1="398.05" y1="79.35" x2="403.8" y2="88.5"/><line x1="311.8" y1="33.6" x2="317.55" y2="42.75"/><line x1="363.55" y1="61.05" x2="369.3" y2="70.2"/><line x1="294.55" y1="115.95" x2="300.3" y2="125.1"/><line x1="380.8" y1="106.8" x2="386.55" y2="115.95"/><line x1="300.3" y1="88.5" x2="311.8" y2="88.5"/><line x1="421.05" y1="79.35" x2="415.3" y2="88.5"/><line x1="386.55" y1="97.65" x2="398.05" y2="97.65"/><line x1="421.05" y1="97.65" x2="415.3" y2="106.8"/><line x1="317.55" y1="97.65" x2="311.8" y2="106.8"/><line x1="334.8" y1="125.1" x2="329.05" y2="134.25"/><line x1="403.8" y1="70.2" x2="415.3" y2="70.2"/><line x1="369.3" y1="106.8" x2="363.55" y2="115.95"/><line x1="334.8" y1="125.1" x2="346.3" y2="125.1"/><line x1="352.05" y1="79.35" x2="346.3" y2="88.5"/><line x1="311.8" y1="88.5" x2="317.55" y2="97.65"/><line x1="386.55" y1="79.35" x2="380.8" y2="88.5"/><line x1="352.05" y1="97.65" x2="363.55" y2="97.65"/><line x1="369.3" y1="143.4" x2="363.55" y2="152.55"/><line x1="334.8" y1="33.6" x2="346.3" y2="33.6"/><line x1="386.55" y1="97.65" x2="380.8" y2="106.8"/><line x1="352.05" y1="152.55" x2="363.55" y2="152.55"/><line x1="380.8" y1="88.5" x2="386.55" y2="97.65"/><line x1="329.05" y1="134.25" x2="334.8" y2="143.4"/><line x1="300.3" y1="88.5" x2="294.55" y2="97.65"/><line x1="398.05" y1="115.95" x2="403.8" y2="125.1"/><line x1="380.8" y1="70.2" x2="386.55" y2="79.35"/><line x1="317.55" y1="115.95" x2="329.05" y2="115.95"/><line x1="352.05" y1="134.25" x2="363.55" y2="134.25"/><line x1="380.8" y1="143.4" x2="386.55" y2="152.55"/><line x1="346.3" y1="143.4" x2="352.05" y2="152.55"/><line x1="317.55" y1="79.35" x2="311.8" y2="88.5"/><line x1="369.3" y1="88.5" x2="363.55" y2="97.65"/><line x1="352.05" y1="97.65" x2="346.3" y2="106.8"/><line x1="329.05" y1="42.75" x2="334.8" y2="51.9"/><line x1="398.05" y1="97.65" x2="403.8" y2="106.8"/><line x1="329.05" y1="115.95" x2="334.8" y2="125.1"/><line x1="300.3" y1="70.2" x2="311.8" y2="70.2"/><line x1="352.05" y1="61.05" x2="346.3" y2="70.2"/><line x1="352.05" y1="115.95" x2="346.3" y2="125.1"/><line x1="403.8" y1="106.8" x2="415.3" y2="106.8"/><line x1="369.3" y1="70.2" x2="380.8" y2="70.2"/><line x1="334.8" y1="143.4" x2="346.3" y2="143.4"/><line x1="329.05" y1="97.65" x2="334.8" y2="106.8"/><line x1="369.3" y1="70.2" x2="363.55" y2="79.35"/><line x1="363.55" y1="134.25" x2="369.3" y2="143.4"/><line x1="352.05" y1="115.95" x2="363.55" y2="115.95"/><line x1="329.05" y1="61.05" x2="334.8" y2="70.2"/><line x1="300.3" y1="106.8" x2="311.8" y2="106.8"/><line x1="363.55" y1="42.75" x2="369.3" y2="51.9"/><line x1="334.8" y1="51.9" x2="329.05" y2="61.05"/><line x1="317.55" y1="79.35" x2="329.05" y2="79.35"/><line x1="352.05" y1="42.75" x2="363.55" y2="42.75"/><line x1="346.3" y1="106.8" x2="352.05" y2="115.95"/></g>
<g stroke="#d9bda8" stroke-width="0.77"><line x1="329.05" y1="79.35" x2="334.8" y2="88.5"/><line x1="369.3" y1="33.6" x2="363.55" y2="42.75"/><line x1="311.8" y1="70.2" x2="317.55" y2="79.35"/><line x1="369.3" y1="33.6" x2="380.8" y2="33.6"/><line x1="386.55" y1="115.95" x2="380.8" y2="125.1"/><line x1="398.05" y1="61.05" x2="403.8" y2="70.2"/><line x1="369.3" y1="106.8" x2="380.8" y2="106.8"/><line x1="403.8" y1="125.1" x2="398.05" y2="134.25"/><line x1="317.55" y1="134.25" x2="329.05" y2="134.25"/><line x1="403.8" y1="88.5" x2="398.05" y2="97.65"/><line x1="403.8" y1="51.9" x2="398.05" y2="61.05"/><line x1="363.55" y1="79.35" x2="369.3" y2="88.5"/><line x1="283.05" y1="97.65" x2="294.55" y2="97.65"/><line x1="300.3" y1="70.2" x2="294.55" y2="79.35"/><line x1="386.55" y1="61.05" x2="380.8" y2="70.2"/><line x1="386.55" y1="42.75" x2="380.8" y2="51.9"/><line x1="346.3" y1="51.9" x2="352.05" y2="61.05"/><line x1="300.3" y1="106.8" x2="294.55" y2="115.95"/><line x1="380.8" y1="33.6" x2="386.55" y2="42.75"/><line x1="386.55" y1="134.25" x2="380.8" y2="143.4"/><line x1="294.55" y1="79.35" x2="300.3" y2="88.5"/><line x1="352.05" y1="134.25" x2="346.3" y2="143.4"/><line x1="294.55" y1="97.65" x2="300.3" y2="106.8"/><line x1="403.8" y1="106.8" x2="398.05" y2="115.95"/><line x1="311.8" y1="51.9" x2="317.55" y2="61.05"/><line x1="352.05" y1="79.35" x2="363.55" y2="79.35"/><line x1="334.8" y1="51.9" x2="346.3" y2="51.9"/><line x1="352.05" y1="61.05" x2="363.55" y2="61.05"/><line x1="334.8" y1="70.2" x2="346.3" y2="70.2"/><line x1="334.8" y1="106.8" x2="346.3" y2="106.8"/><line x1="369.3" y1="143.4" x2="380.8" y2="143.4"/><line x1="352.05" y1="42.75" x2="346.3" y2="51.9"/><line x1="346.3" y1="70.2" x2="352.05" y2="79.35"/><line x1="346.3" y1="88.5" x2="352.05" y2="97.65"/><line x1="380.8" y1="51.9" x2="386.55" y2="61.05"/><line x1="369.3" y1="88.5" x2="380.8" y2="88.5"/><line x1="317.55" y1="97.65" x2="329.05" y2="97.65"/><line x1="334.8" y1="88.5" x2="346.3" y2="88.5"/><line x1="334.8" y1="88.5" x2="329.05" y2="97.65"/><line x1="386.55" y1="42.75" x2="398.05" y2="42.75"/><line x1="300.3" y1="51.9" x2="311.8" y2="51.9"/><line x1="317.55" y1="61.05" x2="329.05" y2="61.05"/><line x1="317.55" y1="61.05" x2="311.8" y2="70.2"/><line x1="369.3" y1="125.1" x2="363.55" y2="134.25"/><line x1="294.55" y1="61.05" x2="300.3" y2="70.2"/><line x1="415.3" y1="88.5" x2="421.05" y2="97.65"/><line x1="334.8" y1="70.2" x2="329.05" y2="79.35"/><line x1="334.8" y1="106.8" x2="329.05" y2="115.95"/><line x1="317.55" y1="42.75" x2="311.8" y2="51.9"/><line x1="415.3" y1="70.2" x2="421.05" y2="79.35"/><line x1="363.55" y1="115.95" x2="369.3" y2="125.1"/><line x1="346.3" y1="33.6" x2="352.05" y2="42.75"/><line x1="317.55" y1="115.95" x2="311.8" y2="125.1"/><line x1="311.8" y1="125.1" x2="317.55" y2="134.25"/><line x1="398.05" y1="42.75" x2="403.8" y2="51.9"/><line x1="403.8" y1="88.5" x2="415.3" y2="88.5"/><line x1="317.55" y1="134.25" x2="311.8" y2="143.4"/><line x1="386.55" y1="134.25" x2="398.05" y2="134.25"/><line x1="283.05" y1="79.35" x2="294.55" y2="79.35"/><line x1="317.55" y1="42.75" x2="329.05" y2="42.75"/><line x1="334.8" y1="33.6" x2="329.05" y2="42.75"/><line x1="346.3" y1="125.1" x2="352.05" y2="134.25"/><line x1="311.8" y1="106.8" x2="317.55" y2="115.95"/><line x1="369.3" y1="51.9" x2="380.8" y2="51.9"/><line x1="386.55" y1="61.05" x2="398.05" y2="61.05"/><line x1="369.3" y1="51.9" x2="363.55" y2="61.05"/><line x1="403.8" y1="70.2" x2="398.05" y2="79.35"/><line x1="369.3" y1="125.1" x2="380.8" y2="125.1"/><line x1="334.8" y1="143.4" x2="329.05" y2="152.55"/><line x1="380.8" y1="125.1" x2="386.55" y2="134.25"/><line x1="386.55" y1="115.95" x2="398.05" y2="115.95"/><line x1="300.3" y1="51.9" x2="294.55" y2="61.05"/><line x1="386.55" y1="79.35" x2="398.05" y2="79.35"/><line x1="300.3" y1="125.1" x2="311.8" y2="125.1"/><line x1="363.55" y1="97.65" x2="369.3" y2="106.8"/><line x1="398.05" y1="79.35" x2="403.8" y2="88.5"/><line x1="311.8" y1="33.6" x2="317.55" y2="42.75"/><line x1="363.55" y1="61.05" x2="369.3" y2="70.2"/><line x1="294.55" y1="115.95" x2="300.3" y2="125.1"/><line x1="380.8" y1="106.8" x2="386.55" y2="115.95"/><line x1="300.3" y1="88.5" x2="311.8" y2="88.5"/><line x1="421.05" y1="79.35" x2="415.3" y2="88.5"/><line x1="386.55" y1="97.65" x2="398.05" y2="97.65"/><line x1="421.05" y1="97.65" x2="415.3" y2="106.8"/><line x1="317.55" y1="97.65" x2="311.8" y2="106.8"/><line x1="334.8" y1="125.1" x2="329.05" y2="134.25"/><line x1="403.8" y1="70.2" x2="415.3" y2="70.2"/><line x1="369.3" y1="106.8" x2="363.55" y2="115.95"/><line x1="334.8" y1="125.1" x2="346.3" y2="125.1"/><line x1="352.05" y1="79.35" x2="346.3" y2="88.5"/><line x1="311.8" y1="88.5" x2="317.55" y2="97.65"/><line x1="386.55" y1="79.35" x2="380.8" y2="88.5"/><line x1="352.05" y1="97.65" x2="363.55" y2="97.65"/><line x1="369.3" y1="143.4" x2="363.55" y2="152.55"/><line x1="334.8" y1="33.6" x2="346.3" y2="33.6"/><line x1="386.55" y1="97.65" x2="380.8" y2="106.8"/><line x1="352.05" y1="152.55" x2="363.55" y2="152.55"/><line x1="380.8" y1="88.5" x2="386.55" y2="97.65"/><line x1="329.05" y1="134.25" x2="334.8" y2="143.4"/><line x1="300.3" y1="88.5" x2="294.55" y2="97.65"/><line x1="398.05" y1="115.95" x2="403.8" y2="125.1"/><line x1="380.8" y1="70.2" x2="386.55" y2="79.35"/><line x1="317.55" y1="115.95" x2="329.05" y2="115.95"/><line x1="352.05" y1="134.25" x2="363.55" y2="134.25"/><line x1="380.8" y1="143.4" x2="386.55" y2="152.55"/><line x1="346.3" y1="143.4" x2="352.05" y2="152.55"/><line x1="317.55" y1="79.35" x2="311.8" y2="88.5"/><line x1="369.3" y1="88.5" x2="363.55" y2="97.65"/><line x1="352.05" y1="97.65" x2="346.3" y2="106.8"/><line x1="329.05" y1="42.75" x2="334.8" y2="51.9"/><line x1="398.05" y1="97.65" x2="403.8" y2="106.8"/><line x1="329.05" y1="115.95" x2="334.8" y2="125.1"/><line x1="300.3" y1="70.2" x2="311.8" y2="70.2"/><line x1="352.05" y1="61.05" x2="346.3" y2="70.2"/><line x1="352.05" y1="115.95" x2="346.3" y2="125.1"/><line x1="403.8" y1="106.8" x2="415.3" y2="106.8"/><line x1="369.3" y1="70.2" x2="380.8" y2="70.2"/><line x1="334.8" y1="143.4" x2="346.3" y2="143.4"/><line x1="329.05" y1="97.65" x2="334.8" y2="106.8"/><line x1="369.3" y1="70.2" x2="363.55" y2="79.35"/><line x1="363.55" y1="134.25" x2="369.3" y2="143.4"/><line x1="352.05" y1="115.95" x2="363.55" y2="115.95"/><line x1="329.05" y1="61.05" x2="334.8" y2="70.2"/><line x1="300.3" y1="106.8" x2="311.8" y2="106.8"/><line x1="363.55" y1="42.75" x2="369.3" y2="51.9"/><line x1="334.8" y1="51.9" x2="329.05" y2="61.05"/><line x1="317.55" y1="79.35" x2="329.05" y2="79.35"/><line x1="352.05" y1="42.75" x2="363.55" y2="42.75"/><line x1="346.3" y1="106.8" x2="352.05" y2="115.95"/></g>
<g stroke="#9e7862" stroke-width="1.7"><line x1="403.8" y1="51.9" x2="415.3" y2="51.9"/><line x1="421.05" y1="61.05" x2="415.3" y2="70.2"/><line x1="283.05" y1="61.05" x2="294.55" y2="61.05"/><line x1="283.05" y1="61.05" x2="277.3" y2="70.2"/><line x1="294.55" y1="134.25" x2="300.3" y2="143.4"/><line x1="398.05" y1="24.45" x2="403.8" y2="33.6"/><line x1="300.3" y1="33.6" x2="294.55" y2="42.75"/><line x1="398.05" y1="134.25" x2="403.8" y2="143.4"/><line x1="277.3" y1="106.8" x2="283.05" y2="115.95"/><line x1="317.55" y1="24.45" x2="311.8" y2="33.6"/><line x1="329.05" y1="152.55" x2="334.8" y2="161.7"/><line x1="317.55" y1="24.45" x2="329.05" y2="24.45"/><line x1="283.05" y1="115.95" x2="294.55" y2="115.95"/><line x1="421.05" y1="79.35" x2="432.55" y2="79.35"/><line x1="283.05" y1="79.35" x2="277.3" y2="88.5"/><line x1="403.8" y1="33.6" x2="398.05" y2="42.75"/><line x1="438.3" y1="88.5" x2="432.55" y2="97.65"/><line x1="352.05" y1="24.45" x2="363.55" y2="24.45"/><line x1="432.55" y1="79.35" x2="438.3" y2="88.5"/><line x1="300.3" y1="125.1" x2="294.55" y2="134.25"/><line x1="403.8" y1="125.1" x2="415.3" y2="125.1"/><line x1="386.55" y1="24.45" x2="398.05" y2="24.45"/><line x1="317.55" y1="152.55" x2="329.05" y2="152.55"/><line x1="283.05" y1="97.65" x2="277.3" y2="106.8"/><line x1="421.05" y1="115.95" x2="415.3" y2="125.1"/><line x1="363.55" y1="24.45" x2="369.3" y2="33.6"/><line x1="300.3" y1="33.6" x2="311.8" y2="33.6"/><line x1="311.8" y1="143.4" x2="317.55" y2="152.55"/><line x1="363.55" y1="152.55" x2="369.3" y2="161.7"/><line x1="294.55" y1="42.75" x2="300.3" y2="51.9"/><line x1="403.8" y1="143.4" x2="398.05" y2="152.55"/><line x1="369.3" y1="161.7" x2="380.8" y2="161.7"/><line x1="352.05" y1="24.45" x2="346.3" y2="33.6"/><line x1="352.05" y1="152.55" x2="346.3" y2="161.7"/><line x1="415.3" y1="106.8" x2="421.05" y2="115.95"/><line x1="300.3" y1="143.4" x2="311.8" y2="143.4"/><line x1="386.55" y1="152.55" x2="398.05" y2="152.55"/><line x1="386.55" y1="152.55" x2="380.8" y2="161.7"/><line x1="277.3" y1="70.2" x2="283.05" y2="79.35"/><line x1="415.3" y1="51.9" x2="421.05" y2="61.05"/><line x1="421.05" y1="97.65" x2="432.55" y2="97.65"/><line x1="334.8" y1="161.7" x2="346.3" y2="161.7"/><line x1="386.55" y1="24.45" x2="380.8" y2="33.6"/><line x1="329.05" y1="24.45" x2="334.8" y2="33.6"/><line x1="277.3" y1="88.5" x2="283.05" y2="97.65"/></g>
<line x1="338.4" y1="14.2" x2="348.5" y2="14.6" stroke="#7a7a7a" stroke-width="0.6" stroke-dasharray="1.3,1.1"/><line x1="297.3" y1="19.7" x2="301" y2="13.8" stroke="#7a7a7a" stroke-width="0.6" stroke-dasharray="1.3,1.1"/><line x1="278.7" y1="48" x2="285.9" y2="43.1" stroke="#7a7a7a" stroke-width="0.6" stroke-dasharray="1.3,1.1"/><line x1="265.8" y1="113.5" x2="268.6" y2="124.7" stroke="#7a7a7a" stroke-width="0.6" stroke-dasharray="1.3,1.1"/><line x1="280.2" y1="137" x2="268.6" y2="124.7" stroke="#7a7a7a" stroke-width="0.6" stroke-dasharray="1.3,1.1"/><line x1="286.8" y1="149.1" x2="284.2" y2="133.5" stroke="#7a7a7a" stroke-width="0.6" stroke-dasharray="1.3,1.1"/><line x1="368.4" y1="175.5" x2="359.8" y2="171.4" stroke="#7a7a7a" stroke-width="0.6" stroke-dasharray="1.3,1.1"/><line x1="391.8" y1="170.5" x2="402.3" y2="161.7" stroke="#7a7a7a" stroke-width="0.6" stroke-dasharray="1.3,1.1"/><line x1="416.9" y1="139.5" x2="428.8" y2="137.4" stroke="#7a7a7a" stroke-width="0.6" stroke-dasharray="1.3,1.1"/><line x1="434.9" y1="113.4" x2="437.2" y2="107.4" stroke="#7a7a7a" stroke-width="0.6" stroke-dasharray="1.3,1.1"/><line x1="444.7" y1="106.5" x2="454" y2="97.9" stroke="#7a7a7a" stroke-width="0.6" stroke-dasharray="1.3,1.1"/><line x1="444.2" y1="73.3" x2="453.4" y2="81" stroke="#7a7a7a" stroke-width="0.6" stroke-dasharray="1.3,1.1"/><line x1="432" y1="56.6" x2="420.6" y2="46.4" stroke="#7a7a7a" stroke-width="0.6" stroke-dasharray="1.3,1.1"/><line x1="388.2" y1="11.7" x2="377.2" y2="16.4" stroke="#7a7a7a" stroke-width="0.6" stroke-dasharray="1.3,1.1"/><line x1="379.1" y1="9.9" x2="382.6" y2="16.8" stroke="#7a7a7a" stroke-width="0.6" stroke-dasharray="1.3,1.1"/><line x1="354.3" y1="9.9" x2="365.1" y2="6.6" stroke="#7a7a7a" stroke-width="0.6" stroke-dasharray="1.3,1.1"/>
<line x1="329.05" y1="24.45" x2="330.02" y2="20.23" stroke="#98705a" stroke-width="1.7"/>
<line x1="330.02" y1="20.23" x2="331" y2="16" stroke="#e83a40" stroke-width="1.7"/>
<line x1="331" y1="16" x2="334.7" y2="15.1" stroke="#e83a40" stroke-width="1.7"/>
<line x1="334.7" y1="15.1" x2="338.4" y2="14.2" stroke="#f0dcdc" stroke-width="1.7"/>
<line x1="317.55" y1="24.45" x2="313.23" y2="21.43" stroke="#98705a" stroke-width="1.7"/>
<line x1="313.23" y1="21.43" x2="308.9" y2="18.4" stroke="#98705a" stroke-width="1.7"/>
<line x1="308.9" y1="18.4" x2="304.95" y2="16.1" stroke="#98705a" stroke-width="1.7"/>
<line x1="304.95" y1="16.1" x2="301" y2="13.8" stroke="#e83a40" stroke-width="1.7"/>
<line x1="308.9" y1="18.4" x2="312.85" y2="17.6" stroke="#98705a" stroke-width="1.7"/>
<line x1="312.85" y1="17.6" x2="316.8" y2="16.8" stroke="#e83a40" stroke-width="1.7"/>
<line x1="316.8" y1="16.8" x2="316.1" y2="14.15" stroke="#e83a40" stroke-width="1.7"/>
<line x1="316.1" y1="14.15" x2="315.4" y2="11.5" stroke="#f0dcdc" stroke-width="1.7"/>
<line x1="300.3" y1="33.6" x2="297.9" y2="29.95" stroke="#98705a" stroke-width="1.7"/>
<line x1="297.9" y1="29.95" x2="295.5" y2="26.3" stroke="#e83a40" stroke-width="1.7"/>
<line x1="295.5" y1="26.3" x2="296.4" y2="23" stroke="#e83a40" stroke-width="1.7"/>
<line x1="296.4" y1="23" x2="297.3" y2="19.7" stroke="#f0dcdc" stroke-width="1.7"/>
<line x1="294.55" y1="42.75" x2="290.23" y2="42.92" stroke="#98705a" stroke-width="1.7"/>
<line x1="290.23" y1="42.92" x2="285.9" y2="43.1" stroke="#e83a40" stroke-width="1.7"/>
<line x1="285.9" y1="43.1" x2="285.45" y2="39.4" stroke="#e83a40" stroke-width="1.7"/>
<line x1="285.45" y1="39.4" x2="285" y2="35.7" stroke="#f0dcdc" stroke-width="1.7"/>
<line x1="283.05" y1="61.05" x2="279.88" y2="57.12" stroke="#98705a" stroke-width="1.7"/>
<line x1="279.88" y1="57.12" x2="276.7" y2="53.2" stroke="#e83a40" stroke-width="1.7"/>
<line x1="276.7" y1="53.2" x2="277.7" y2="50.6" stroke="#e83a40" stroke-width="1.7"/>
<line x1="277.7" y1="50.6" x2="278.7" y2="48" stroke="#f0dcdc" stroke-width="1.7"/>
<line x1="277.3" y1="70.2" x2="272" y2="69.7" stroke="#98705a" stroke-width="1.7"/>
<line x1="272" y1="69.7" x2="266.7" y2="69.2" stroke="#e83a40" stroke-width="1.7"/>
<line x1="266.7" y1="69.2" x2="266.05" y2="65.7" stroke="#e83a40" stroke-width="1.7"/>
<line x1="266.05" y1="65.7" x2="265.4" y2="62.2" stroke="#f0dcdc" stroke-width="1.7"/>
<line x1="277.3" y1="88.5" x2="271.15" y2="88.45" stroke="#98705a" stroke-width="1.7"/>
<line x1="271.15" y1="88.45" x2="265" y2="88.4" stroke="#98705a" stroke-width="1.7"/>
<line x1="265" y1="88.4" x2="263.55" y2="87" stroke="#98705a" stroke-width="1.7"/>
<line x1="263.55" y1="87" x2="262.1" y2="85.6" stroke="#e83a40" stroke-width="1.7"/>
<line x1="265" y1="88.4" x2="261.8" y2="89.2" stroke="#98705a" stroke-width="1.7"/>
<line x1="261.8" y1="89.2" x2="258.6" y2="90" stroke="#e83a40" stroke-width="1.7"/>
<line x1="262.1" y1="85.6" x2="259" y2="85.75" stroke="#e83a40" stroke-width="1.7"/>
<line x1="259" y1="85.75" x2="255.9" y2="85.9" stroke="#f0dcdc" stroke-width="1.7"/>
<line x1="277.3" y1="106.8" x2="272.45" y2="106.8" stroke="#98705a" stroke-width="1.7"/>
<line x1="272.45" y1="106.8" x2="267.6" y2="106.8" stroke="#e83a40" stroke-width="1.7"/>
<line x1="267.6" y1="106.8" x2="266.7" y2="110.15" stroke="#e83a40" stroke-width="1.7"/>
<line x1="266.7" y1="110.15" x2="265.8" y2="113.5" stroke="#f0dcdc" stroke-width="1.7"/>
<line x1="277.5" y1="125.7" x2="273.05" y2="125.2" stroke="#98705a" stroke-width="1.7"/>
<line x1="273.05" y1="125.2" x2="268.6" y2="124.7" stroke="#e83a40" stroke-width="1.7"/>
<line x1="294.55" y1="134.25" x2="289.38" y2="133.88" stroke="#98705a" stroke-width="1.7"/>
<line x1="289.38" y1="133.88" x2="284.2" y2="133.5" stroke="#e83a40" stroke-width="1.7"/>
<line x1="284.2" y1="133.5" x2="282.2" y2="135.25" stroke="#e83a40" stroke-width="1.7"/>
<line x1="282.2" y1="135.25" x2="280.2" y2="137" stroke="#f0dcdc" stroke-width="1.7"/>
<line x1="300.3" y1="143.4" x2="297.05" y2="147.4" stroke="#98705a" stroke-width="1.7"/>
<line x1="297.05" y1="147.4" x2="293.8" y2="151.4" stroke="#e83a40" stroke-width="1.7"/>
<line x1="293.8" y1="151.4" x2="290.3" y2="150.25" stroke="#e83a40" stroke-width="1.7"/>
<line x1="290.3" y1="150.25" x2="286.8" y2="149.1" stroke="#f0dcdc" stroke-width="1.7"/>
<line x1="317.55" y1="152.55" x2="313.88" y2="157.62" stroke="#98705a" stroke-width="1.7"/>
<line x1="313.88" y1="157.62" x2="310.2" y2="162.7" stroke="#98705a" stroke-width="1.7"/>
<line x1="310.2" y1="162.7" x2="308" y2="164.85" stroke="#98705a" stroke-width="1.7"/>
<line x1="308" y1="164.85" x2="305.8" y2="167" stroke="#e83a40" stroke-width="1.7"/>
<line x1="310.2" y1="162.7" x2="309.8" y2="164.35" stroke="#98705a" stroke-width="1.7"/>
<line x1="309.8" y1="164.35" x2="309.4" y2="166" stroke="#e83a40" stroke-width="1.7"/>
<line x1="305.8" y1="167" x2="305.45" y2="169.6" stroke="#e83a40" stroke-width="1.7"/>
<line x1="305.45" y1="169.6" x2="305.1" y2="172.2" stroke="#f0dcdc" stroke-width="1.7"/>
<line x1="334.8" y1="161.7" x2="331.6" y2="166.55" stroke="#98705a" stroke-width="1.7"/>
<line x1="331.6" y1="166.55" x2="328.4" y2="171.4" stroke="#e83a40" stroke-width="1.7"/>
<line x1="328.4" y1="171.4" x2="330.95" y2="174.35" stroke="#e83a40" stroke-width="1.7"/>
<line x1="330.95" y1="174.35" x2="333.5" y2="177.3" stroke="#f0dcdc" stroke-width="1.7"/>
<line x1="346.3" y1="161.7" x2="349.05" y2="166.55" stroke="#98705a" stroke-width="1.7"/>
<line x1="349.05" y1="166.55" x2="351.8" y2="171.4" stroke="#98705a" stroke-width="1.7"/>
<line x1="351.8" y1="171.4" x2="355.8" y2="171.4" stroke="#98705a" stroke-width="1.7"/>
<line x1="355.8" y1="171.4" x2="359.8" y2="171.4" stroke="#e83a40" stroke-width="1.7"/>
<line x1="351.8" y1="171.4" x2="349.1" y2="176" stroke="#98705a" stroke-width="1.7"/>
<line x1="349.1" y1="176" x2="346.4" y2="180.6" stroke="#e83a40" stroke-width="1.7"/>
<line x1="369.3" y1="161.7" x2="366.25" y2="166.1" stroke="#98705a" stroke-width="1.7"/>
<line x1="366.25" y1="166.1" x2="363.2" y2="170.5" stroke="#98705a" stroke-width="1.7"/>
<line x1="363.2" y1="170.5" x2="361.45" y2="170.9" stroke="#98705a" stroke-width="1.7"/>
<line x1="361.45" y1="170.9" x2="359.7" y2="171.3" stroke="#e83a40" stroke-width="1.7"/>
<line x1="363.2" y1="170.5" x2="365.8" y2="173" stroke="#98705a" stroke-width="1.7"/>
<line x1="365.8" y1="173" x2="368.4" y2="175.5" stroke="#f0dcdc" stroke-width="1.7"/>
<line x1="380.8" y1="161.7" x2="382.2" y2="166.5" stroke="#98705a" stroke-width="1.7"/>
<line x1="382.2" y1="166.5" x2="383.6" y2="171.3" stroke="#e83a40" stroke-width="1.7"/>
<line x1="383.6" y1="171.3" x2="387.7" y2="170.9" stroke="#e83a40" stroke-width="1.7"/>
<line x1="387.7" y1="170.9" x2="391.8" y2="170.5" stroke="#f0dcdc" stroke-width="1.7"/>
<line x1="398.05" y1="152.55" x2="400.18" y2="157.12" stroke="#98705a" stroke-width="1.7"/>
<line x1="400.18" y1="157.12" x2="402.3" y2="161.7" stroke="#e83a40" stroke-width="1.7"/>
<line x1="402.3" y1="161.7" x2="406.1" y2="160.85" stroke="#e83a40" stroke-width="1.7"/>
<line x1="406.1" y1="160.85" x2="409.9" y2="160" stroke="#f0dcdc" stroke-width="1.7"/>
<line x1="403.8" y1="143.4" x2="408.6" y2="144.5" stroke="#98705a" stroke-width="1.7"/>
<line x1="408.6" y1="144.5" x2="413.4" y2="145.6" stroke="#e83a40" stroke-width="1.7"/>
<line x1="413.4" y1="145.6" x2="415.15" y2="142.55" stroke="#e83a40" stroke-width="1.7"/>
<line x1="415.15" y1="142.55" x2="416.9" y2="139.5" stroke="#f0dcdc" stroke-width="1.7"/>
<line x1="415.3" y1="125.1" x2="416.95" y2="130.1" stroke="#98705a" stroke-width="1.7"/>
<line x1="416.95" y1="130.1" x2="418.6" y2="135.1" stroke="#98705a" stroke-width="1.7"/>
<line x1="418.6" y1="135.1" x2="416" y2="137.3" stroke="#98705a" stroke-width="1.7"/>
<line x1="416" y1="137.3" x2="413.4" y2="139.5" stroke="#e83a40" stroke-width="1.7"/>
<line x1="418.6" y1="135.1" x2="423.7" y2="136.25" stroke="#98705a" stroke-width="1.7"/>
<line x1="423.7" y1="136.25" x2="428.8" y2="137.4" stroke="#e83a40" stroke-width="1.7"/>
<line x1="428.8" y1="137.4" x2="429.85" y2="140.2" stroke="#e83a40" stroke-width="1.7"/>
<line x1="429.85" y1="140.2" x2="430.9" y2="143" stroke="#f0dcdc" stroke-width="1.7"/>
<line x1="421.05" y1="115.95" x2="425.08" y2="116.62" stroke="#98705a" stroke-width="1.7"/>
<line x1="425.08" y1="116.62" x2="429.1" y2="117.3" stroke="#e83a40" stroke-width="1.7"/>
<line x1="429.1" y1="117.3" x2="432" y2="115.35" stroke="#e83a40" stroke-width="1.7"/>
<line x1="432" y1="115.35" x2="434.9" y2="113.4" stroke="#f0dcdc" stroke-width="1.7"/>
<line x1="432.55" y1="97.65" x2="434.88" y2="102.53" stroke="#98705a" stroke-width="1.7"/>
<line x1="434.88" y1="102.53" x2="437.2" y2="107.4" stroke="#e83a40" stroke-width="1.7"/>
<line x1="437.2" y1="107.4" x2="440.95" y2="106.95" stroke="#e83a40" stroke-width="1.7"/>
<line x1="440.95" y1="106.95" x2="444.7" y2="106.5" stroke="#f0dcdc" stroke-width="1.7"/>
<line x1="438.3" y1="88.5" x2="443.35" y2="88.8" stroke="#98705a" stroke-width="1.7"/>
<line x1="443.35" y1="88.8" x2="448.4" y2="89.1" stroke="#98705a" stroke-width="1.7"/>
<line x1="448.4" y1="89.1" x2="450.9" y2="85.05" stroke="#98705a" stroke-width="1.7"/>
<line x1="450.9" y1="85.05" x2="453.4" y2="81" stroke="#e83a40" stroke-width="1.7"/>
<line x1="448.4" y1="89.1" x2="451.2" y2="93.5" stroke="#98705a" stroke-width="1.7"/>
<line x1="451.2" y1="93.5" x2="454" y2="97.9" stroke="#e83a40" stroke-width="1.7"/>
<line x1="454" y1="97.9" x2="456" y2="97.45" stroke="#e83a40" stroke-width="1.7"/>
<line x1="456" y1="97.45" x2="458" y2="97" stroke="#f0dcdc" stroke-width="1.7"/>
<line x1="432.55" y1="79.35" x2="434.48" y2="75.47" stroke="#98705a" stroke-width="1.7"/>
<line x1="434.48" y1="75.47" x2="436.4" y2="71.6" stroke="#e83a40" stroke-width="1.7"/>
<line x1="436.4" y1="71.6" x2="440.3" y2="72.45" stroke="#e83a40" stroke-width="1.7"/>
<line x1="440.3" y1="72.45" x2="444.2" y2="73.3" stroke="#f0dcdc" stroke-width="1.7"/>
<line x1="421.05" y1="61.05" x2="425.77" y2="62.08" stroke="#98705a" stroke-width="1.7"/>
<line x1="425.77" y1="62.08" x2="430.5" y2="63.1" stroke="#e83a40" stroke-width="1.7"/>
<line x1="430.5" y1="63.1" x2="431.25" y2="59.85" stroke="#e83a40" stroke-width="1.7"/>
<line x1="431.25" y1="59.85" x2="432" y2="56.6" stroke="#f0dcdc" stroke-width="1.7"/>
<line x1="415.3" y1="51.9" x2="417.95" y2="49.15" stroke="#98705a" stroke-width="1.7"/>
<line x1="417.95" y1="49.15" x2="420.6" y2="46.4" stroke="#e83a40" stroke-width="1.7"/>
<line x1="420.6" y1="46.4" x2="418.25" y2="43.5" stroke="#e83a40" stroke-width="1.7"/>
<line x1="418.25" y1="43.5" x2="415.9" y2="40.6" stroke="#f0dcdc" stroke-width="1.7"/>
<line x1="403.8" y1="33.6" x2="409.5" y2="32.7" stroke="#98705a" stroke-width="1.7"/>
<line x1="409.5" y1="32.7" x2="415.2" y2="31.8" stroke="#98705a" stroke-width="1.7"/>
<line x1="415.2" y1="31.8" x2="417.75" y2="27.7" stroke="#98705a" stroke-width="1.7"/>
<line x1="417.75" y1="27.7" x2="420.3" y2="23.6" stroke="#e83a40" stroke-width="1.7"/>
<line x1="415.2" y1="31.8" x2="417" y2="35.45" stroke="#98705a" stroke-width="1.7"/>
<line x1="417" y1="35.45" x2="418.8" y2="39.1" stroke="#e83a40" stroke-width="1.7"/>
<line x1="418.8" y1="39.1" x2="422.1" y2="37.8" stroke="#e83a40" stroke-width="1.7"/>
<line x1="422.1" y1="37.8" x2="425.4" y2="36.5" stroke="#f0dcdc" stroke-width="1.7"/>
<line x1="398.05" y1="24.45" x2="400.77" y2="20.12" stroke="#98705a" stroke-width="1.7"/>
<line x1="400.77" y1="20.12" x2="403.5" y2="15.8" stroke="#e83a40" stroke-width="1.7"/>
<line x1="403.5" y1="15.8" x2="407.15" y2="16.5" stroke="#e83a40" stroke-width="1.7"/>
<line x1="407.15" y1="16.5" x2="410.8" y2="17.2" stroke="#f0dcdc" stroke-width="1.7"/>
<line x1="386.55" y1="24.45" x2="384.58" y2="20.62" stroke="#98705a" stroke-width="1.7"/>
<line x1="384.58" y1="20.62" x2="382.6" y2="16.8" stroke="#e83a40" stroke-width="1.7"/>
<line x1="382.6" y1="16.8" x2="385.4" y2="14.25" stroke="#e83a40" stroke-width="1.7"/>
<line x1="385.4" y1="14.25" x2="388.2" y2="11.7" stroke="#f0dcdc" stroke-width="1.7"/>
<line x1="363.55" y1="24.45" x2="366.38" y2="19.53" stroke="#98705a" stroke-width="1.7"/>
<line x1="366.38" y1="19.53" x2="369.2" y2="14.6" stroke="#98705a" stroke-width="1.7"/>
<line x1="369.2" y1="14.6" x2="367.15" y2="10.6" stroke="#98705a" stroke-width="1.7"/>
<line x1="367.15" y1="10.6" x2="365.1" y2="6.6" stroke="#e83a40" stroke-width="1.7"/>
<line x1="369.2" y1="14.6" x2="373.2" y2="15.5" stroke="#98705a" stroke-width="1.7"/>
<line x1="373.2" y1="15.5" x2="377.2" y2="16.4" stroke="#e83a40" stroke-width="1.7"/>
<line x1="377.2" y1="16.4" x2="378.15" y2="13.15" stroke="#e83a40" stroke-width="1.7"/>
<line x1="378.15" y1="13.15" x2="379.1" y2="9.9" stroke="#f0dcdc" stroke-width="1.7"/>
<line x1="352.05" y1="24.45" x2="350.27" y2="19.53" stroke="#98705a" stroke-width="1.7"/>
<line x1="350.27" y1="19.53" x2="348.5" y2="14.6" stroke="#e83a40" stroke-width="1.7"/>
<line x1="348.5" y1="14.6" x2="351.4" y2="12.25" stroke="#e83a40" stroke-width="1.7"/>
<line x1="351.4" y1="12.25" x2="354.3" y2="9.9" stroke="#f0dcdc" stroke-width="1.7"/>
<circle cx="317.55" cy="24.45" r="2.1" fill="url(#gc)"/>
<circle cx="329.05" cy="24.45" r="2.1" fill="url(#gc)"/>
<circle cx="352.05" cy="24.45" r="2.1" fill="url(#gc)"/>
<circle cx="363.55" cy="24.45" r="2.1" fill="url(#gc)"/>
<circle cx="386.55" cy="24.45" r="2.1" fill="url(#gc)"/>
<circle cx="398.05" cy="24.45" r="2.1" fill="url(#gc)"/>
<circle cx="300.3" cy="33.6" r="2.1" fill="url(#gc)"/>
<circle cx="311.8" cy="33.6" r="2.1" fill="url(#gc)"/>
<circle cx="334.8" cy="33.6" r="2.1" fill="url(#gc)"/>
<circle cx="346.3" cy="33.6" r="2.1" fill="url(#gc)"/>
<circle cx="369.3" cy="33.6" r="2.1" fill="url(#gc)"/>
<circle cx="380.8" cy="33.6" r="2.1" fill="url(#gc)"/>
<circle cx="403.8" cy="33.6" r="2.1" fill="url(#gc)"/>
<circle cx="294.55" cy="42.75" r="2.1" fill="url(#gc)"/>
<circle cx="317.55" cy="42.75" r="2.1" fill="url(#gc)"/>
<circle cx="329.05" cy="42.75" r="2.1" fill="url(#gc)"/>
<circle cx="352.05" cy="42.75" r="2.1" fill="url(#gc)"/>
<circle cx="363.55" cy="42.75" r="2.1" fill="url(#gc)"/>
<circle cx="386.55" cy="42.75" r="2.1" fill="url(#gc)"/>
<circle cx="398.05" cy="42.75" r="2.1" fill="url(#gc)"/>
<circle cx="300.3" cy="51.9" r="2.1" fill="url(#gc)"/>
<circle cx="311.8" cy="51.9" r="2.1" fill="url(#gc)"/>
<circle cx="334.8" cy="51.9" r="2.1" fill="url(#gc)"/>
<circle cx="346.3" cy="51.9" r="2.1" fill="url(#gc)"/>
<circle cx="369.3" cy="51.9" r="2.1" fill="url(#gc)"/>
<circle cx="380.8" cy="51.9" r="2.1" fill="url(#gc)"/>
<circle cx="403.8" cy="51.9" r="2.1" fill="url(#gc)"/>
<circle cx="415.3" cy="51.9" r="2.1" fill="url(#gc)"/>
<circle cx="283.05" cy="61.05" r="2.1" fill="url(#gc)"/>
<circle cx="294.55" cy="61.05" r="2.1" fill="url(#gc)"/>
<circle cx="317.55" cy="61.05" r="2.1" fill="url(#gc)"/>
<circle cx="329.05" cy="61.05" r="2.1" fill="url(#gc)"/>
<circle cx="352.05" cy="61.05" r="2.1" fill="url(#gc)"/>
<circle cx="363.55" cy="61.05" r="2.1" fill="url(#gc)"/>
<circle cx="386.55" cy="61.05" r="2.1" fill="url(#gc)"/>
<circle cx="398.05" cy="61.05" r="2.1" fill="url(#gc)"/>
<circle cx="421.05" cy="61.05" r="2.1" fill="url(#gc)"/>
<circle cx="277.3" cy="70.2" r="2.1" fill="url(#gc)"/>
<circle cx="300.3" cy="70.2" r="2.1" fill="url(#gc)"/>
<circle cx="311.8" cy="70.2" r="2.1" fill="url(#gc)"/>
<circle cx="334.8" cy="70.2" r="2.1" fill="url(#gc)"/>
<circle cx="346.3" cy="70.2" r="2.1" fill="url(#gc)"/>
<circle cx="369.3" cy="70.2" r="2.1" fill="url(#gc)"/>
<circle cx="380.8" cy="70.2" r="2.1" fill="url(#gc)"/>
<circle cx="403.8" cy="70.2" r="2.1" fill="url(#gc)"/>
<circle cx="415.3" cy="70.2" r="2.1" fill="url(#gc)"/>
<circle cx="283.05" cy="79.35" r="2.1" fill="url(#gc)"/>
<circle cx="294.55" cy="79.35" r="2.1" fill="url(#gc)"/>
<circle cx="317.55" cy="79.35" r="2.1" fill="url(#gc)"/>
<circle cx="329.05" cy="79.35" r="2.1" fill="url(#gc)"/>
<circle cx="352.05" cy="79.35" r="2.1" fill="url(#gc)"/>
<circle cx="363.55" cy="79.35" r="2.1" fill="url(#gc)"/>
<circle cx="386.55" cy="79.35" r="2.1" fill="url(#gc)"/>
<circle cx="398.05" cy="79.35" r="2.1" fill="url(#gc)"/>
<circle cx="421.05" cy="79.35" r="2.1" fill="url(#gc)"/>
<circle cx="432.55" cy="79.35" r="2.1" fill="url(#gc)"/>
<circle cx="277.3" cy="88.5" r="2.1" fill="url(#gc)"/>
<circle cx="300.3" cy="88.5" r="2.1" fill="url(#gc)"/>
<circle cx="311.8" cy="88.5" r="2.1" fill="url(#gc)"/>
<circle cx="334.8" cy="88.5" r="2.1" fill="url(#gc)"/>
<circle cx="346.3" cy="88.5" r="2.1" fill="url(#gc)"/>
<circle cx="369.3" cy="88.5" r="2.1" fill="url(#gc)"/>
<circle cx="380.8" cy="88.5" r="2.1" fill="url(#gc)"/>
<circle cx="403.8" cy="88.5" r="2.1" fill="url(#gc)"/>
<circle cx="415.3" cy="88.5" r="2.1" fill="url(#gc)"/>
<circle cx="438.3" cy="88.5" r="2.1" fill="url(#gc)"/>
<circle cx="283.05" cy="97.65" r="2.1" fill="url(#gc)"/>
<circle cx="294.55" cy="97.65" r="2.1" fill="url(#gc)"/>
<circle cx="317.55" cy="97.65" r="2.1" fill="url(#gc)"/>
<circle cx="329.05" cy="97.65" r="2.1" fill="url(#gc)"/>
<circle cx="352.05" cy="97.65" r="2.1" fill="url(#gc)"/>
<circle cx="363.55" cy="97.65" r="2.1" fill="url(#gc)"/>
<circle cx="386.55" cy="97.65" r="2.1" fill="url(#gc)"/>
<circle cx="398.05" cy="97.65" r="2.1" fill="url(#gc)"/>
<circle cx="421.05" cy="97.65" r="2.1" fill="url(#gc)"/>
<circle cx="432.55" cy="97.65" r="2.1" fill="url(#gc)"/>
<circle cx="277.3" cy="106.8" r="2.1" fill="url(#gc)"/>
<circle cx="300.3" cy="106.8" r="2.1" fill="url(#gc)"/>
<circle cx="311.8" cy="106.8" r="2.1" fill="url(#gc)"/>
<circle cx="334.8" cy="106.8" r="2.1" fill="url(#gc)"/>
<circle cx="346.3" cy="106.8" r="2.1" fill="url(#gc)"/>
<circle cx="369.3" cy="106.8" r="2.1" fill="url(#gc)"/>
<circle cx="380.8" cy="106.8" r="2.1" fill="url(#gc)"/>
<circle cx="403.8" cy="106.8" r="2.1" fill="url(#gc)"/>
<circle cx="415.3" cy="106.8" r="2.1" fill="url(#gc)"/>
<circle cx="283.05" cy="115.95" r="2.1" fill="url(#gc)"/>
<circle cx="294.55" cy="115.95" r="2.1" fill="url(#gc)"/>
<circle cx="317.55" cy="115.95" r="2.1" fill="url(#gc)"/>
<circle cx="329.05" cy="115.95" r="2.1" fill="url(#gc)"/>
<circle cx="352.05" cy="115.95" r="2.1" fill="url(#gc)"/>
<circle cx="363.55" cy="115.95" r="2.1" fill="url(#gc)"/>
<circle cx="386.55" cy="115.95" r="2.1" fill="url(#gc)"/>
<circle cx="398.05" cy="115.95" r="2.1" fill="url(#gc)"/>
<circle cx="421.05" cy="115.95" r="2.1" fill="url(#gc)"/>
<circle cx="300.3" cy="125.1" r="2.1" fill="url(#gc)"/>
<circle cx="311.8" cy="125.1" r="2.1" fill="url(#gc)"/>
<circle cx="334.8" cy="125.1" r="2.1" fill="url(#gc)"/>
<circle cx="346.3" cy="125.1" r="2.1" fill="url(#gc)"/>
<circle cx="369.3" cy="125.1" r="2.1" fill="url(#gc)"/>
<circle cx="380.8" cy="125.1" r="2.1" fill="url(#gc)"/>
<circle cx="403.8" cy="125.1" r="2.1" fill="url(#gc)"/>
<circle cx="415.3" cy="125.1" r="2.1" fill="url(#gc)"/>
<circle cx="294.55" cy="134.25" r="2.1" fill="url(#gc)"/>
<circle cx="317.55" cy="134.25" r="2.1" fill="url(#gc)"/>
<circle cx="329.05" cy="134.25" r="2.1" fill="url(#gc)"/>
<circle cx="352.05" cy="134.25" r="2.1" fill="url(#gc)"/>
<circle cx="363.55" cy="134.25" r="2.1" fill="url(#gc)"/>
<circle cx="386.55" cy="134.25" r="2.1" fill="url(#gc)"/>
<circle cx="398.05" cy="134.25" r="2.1" fill="url(#gc)"/>
<circle cx="300.3" cy="143.4" r="2.1" fill="url(#gc)"/>
<circle cx="311.8" cy="143.4" r="2.1" fill="url(#gc)"/>
<circle cx="334.8" cy="143.4" r="2.1" fill="url(#gc)"/>
<circle cx="346.3" cy="143.4" r="2.1" fill="url(#gc)"/>
<circle cx="369.3" cy="143.4" r="2.1" fill="url(#gc)"/>
<circle cx="380.8" cy="143.4" r="2.1" fill="url(#gc)"/>
<circle cx="403.8" cy="143.4" r="2.1" fill="url(#gc)"/>
<circle cx="317.55" cy="152.55" r="2.1" fill="url(#gc)"/>
<circle cx="329.05" cy="152.55" r="2.1" fill="url(#gc)"/>
<circle cx="352.05" cy="152.55" r="2.1" fill="url(#gc)"/>
<circle cx="363.55" cy="152.55" r="2.1" fill="url(#gc)"/>
<circle cx="386.55" cy="152.55" r="2.1" fill="url(#gc)"/>
<circle cx="398.05" cy="152.55" r="2.1" fill="url(#gc)"/>
<circle cx="334.8" cy="161.7" r="2.1" fill="url(#gc)"/>
<circle cx="346.3" cy="161.7" r="2.1" fill="url(#gc)"/>
<circle cx="369.3" cy="161.7" r="2.1" fill="url(#gc)"/>
<circle cx="380.8" cy="161.7" r="2.1" fill="url(#gc)"/>
<circle cx="331" cy="16" r="2.21" fill="url(#go2)"/>
<circle cx="338.4" cy="14.2" r="1.3" fill="url(#gh)" stroke="#c9a4a4" stroke-width="0.45"/>
<circle cx="308.9" cy="18.4" r="2.1" fill="url(#gc)"/>
<circle cx="301" cy="13.8" r="2.21" fill="url(#go2)"/>
<circle cx="316.8" cy="16.8" r="2.21" fill="url(#go2)"/>
<circle cx="315.4" cy="11.5" r="1.3" fill="url(#gh)" stroke="#c9a4a4" stroke-width="0.45"/>
<circle cx="295.5" cy="26.3" r="2.21" fill="url(#go2)"/>
<circle cx="297.3" cy="19.7" r="1.3" fill="url(#gh)" stroke="#c9a4a4" stroke-width="0.45"/>
<circle cx="285.9" cy="43.1" r="2.21" fill="url(#go2)"/>
<circle cx="285" cy="35.7" r="1.3" fill="url(#gh)" stroke="#c9a4a4" stroke-width="0.45"/>
<circle cx="276.7" cy="53.2" r="2.21" fill="url(#go2)"/>
<circle cx="278.7" cy="48" r="1.3" fill="url(#gh)" stroke="#c9a4a4" stroke-width="0.45"/>
<circle cx="266.7" cy="69.2" r="2.21" fill="url(#go2)"/>
<circle cx="265.4" cy="62.2" r="1.3" fill="url(#gh)" stroke="#c9a4a4" stroke-width="0.45"/>
<circle cx="265" cy="88.4" r="2.1" fill="url(#gc)"/>
<circle cx="262.1" cy="85.6" r="2.21" fill="url(#go2)"/>
<circle cx="258.6" cy="90" r="2.21" fill="url(#go2)"/>
<circle cx="255.9" cy="85.9" r="1.3" fill="url(#gh)" stroke="#c9a4a4" stroke-width="0.45"/>
<circle cx="267.6" cy="106.8" r="2.21" fill="url(#go2)"/>
<circle cx="265.8" cy="113.5" r="1.3" fill="url(#gh)" stroke="#c9a4a4" stroke-width="0.45"/>
<circle cx="277.5" cy="125.7" r="2.1" fill="url(#gc)"/>
<circle cx="268.6" cy="124.7" r="2.21" fill="url(#go2)"/>
<circle cx="284.2" cy="133.5" r="2.21" fill="url(#go2)"/>
<circle cx="280.2" cy="137" r="1.3" fill="url(#gh)" stroke="#c9a4a4" stroke-width="0.45"/>
<circle cx="293.8" cy="151.4" r="2.21" fill="url(#go2)"/>
<circle cx="286.8" cy="149.1" r="1.3" fill="url(#gh)" stroke="#c9a4a4" stroke-width="0.45"/>
<circle cx="310.2" cy="162.7" r="2.1" fill="url(#gc)"/>
<circle cx="305.8" cy="167" r="2.21" fill="url(#go2)"/>
<circle cx="309.4" cy="166" r="2.21" fill="url(#go2)"/>
<circle cx="305.1" cy="172.2" r="1.3" fill="url(#gh)" stroke="#c9a4a4" stroke-width="0.45"/>
<circle cx="328.4" cy="171.4" r="2.21" fill="url(#go2)"/>
<circle cx="333.5" cy="177.3" r="1.3" fill="url(#gh)" stroke="#c9a4a4" stroke-width="0.45"/>
<circle cx="351.8" cy="171.4" r="2.1" fill="url(#gc)"/>
<circle cx="359.8" cy="171.4" r="2.21" fill="url(#go2)"/>
<circle cx="346.4" cy="180.6" r="2.21" fill="url(#go2)"/>
<circle cx="363.2" cy="170.5" r="2.1" fill="url(#gc)"/>
<circle cx="359.7" cy="171.3" r="2.21" fill="url(#go2)"/>
<circle cx="368.4" cy="175.5" r="1.3" fill="url(#gh)" stroke="#c9a4a4" stroke-width="0.45"/>
<circle cx="383.6" cy="171.3" r="2.21" fill="url(#go2)"/>
<circle cx="391.8" cy="170.5" r="1.3" fill="url(#gh)" stroke="#c9a4a4" stroke-width="0.45"/>
<circle cx="402.3" cy="161.7" r="2.21" fill="url(#go2)"/>
<circle cx="409.9" cy="160" r="1.3" fill="url(#gh)" stroke="#c9a4a4" stroke-width="0.45"/>
<circle cx="413.4" cy="145.6" r="2.21" fill="url(#go2)"/>
<circle cx="416.9" cy="139.5" r="1.3" fill="url(#gh)" stroke="#c9a4a4" stroke-width="0.45"/>
<circle cx="418.6" cy="135.1" r="2.1" fill="url(#gc)"/>
<circle cx="413.4" cy="139.5" r="2.21" fill="url(#go2)"/>
<circle cx="428.8" cy="137.4" r="2.21" fill="url(#go2)"/>
<circle cx="430.9" cy="143" r="1.3" fill="url(#gh)" stroke="#c9a4a4" stroke-width="0.45"/>
<circle cx="429.1" cy="117.3" r="2.21" fill="url(#go2)"/>
<circle cx="434.9" cy="113.4" r="1.3" fill="url(#gh)" stroke="#c9a4a4" stroke-width="0.45"/>
<circle cx="437.2" cy="107.4" r="2.21" fill="url(#go2)"/>
<circle cx="444.7" cy="106.5" r="1.3" fill="url(#gh)" stroke="#c9a4a4" stroke-width="0.45"/>
<circle cx="448.4" cy="89.1" r="2.1" fill="url(#gc)"/>
<circle cx="453.4" cy="81" r="2.21" fill="url(#go2)"/>
<circle cx="454" cy="97.9" r="2.21" fill="url(#go2)"/>
<circle cx="458" cy="97" r="1.3" fill="url(#gh)" stroke="#c9a4a4" stroke-width="0.45"/>
<circle cx="436.4" cy="71.6" r="2.21" fill="url(#go2)"/>
<circle cx="444.2" cy="73.3" r="1.3" fill="url(#gh)" stroke="#c9a4a4" stroke-width="0.45"/>
<circle cx="430.5" cy="63.1" r="2.21" fill="url(#go2)"/>
<circle cx="432" cy="56.6" r="1.3" fill="url(#gh)" stroke="#c9a4a4" stroke-width="0.45"/>
<circle cx="420.6" cy="46.4" r="2.21" fill="url(#go2)"/>
<circle cx="415.9" cy="40.6" r="1.3" fill="url(#gh)" stroke="#c9a4a4" stroke-width="0.45"/>
<circle cx="415.2" cy="31.8" r="2.1" fill="url(#gc)"/>
<circle cx="420.3" cy="23.6" r="2.21" fill="url(#go2)"/>
<circle cx="418.8" cy="39.1" r="2.21" fill="url(#go2)"/>
<circle cx="425.4" cy="36.5" r="1.3" fill="url(#gh)" stroke="#c9a4a4" stroke-width="0.45"/>
<circle cx="403.5" cy="15.8" r="2.21" fill="url(#go2)"/>
<circle cx="410.8" cy="17.2" r="1.3" fill="url(#gh)" stroke="#c9a4a4" stroke-width="0.45"/>
<circle cx="382.6" cy="16.8" r="2.21" fill="url(#go2)"/>
<circle cx="388.2" cy="11.7" r="1.3" fill="url(#gh)" stroke="#c9a4a4" stroke-width="0.45"/>
<circle cx="369.2" cy="14.6" r="2.1" fill="url(#gc)"/>
<circle cx="365.1" cy="6.6" r="2.21" fill="url(#go2)"/>
<circle cx="377.2" cy="16.4" r="2.21" fill="url(#go2)"/>
<circle cx="379.1" cy="9.9" r="1.3" fill="url(#gh)" stroke="#c9a4a4" stroke-width="0.45"/>
<circle cx="348.5" cy="14.6" r="2.21" fill="url(#go2)"/>
<circle cx="354.3" cy="9.9" r="1.3" fill="url(#gh)" stroke="#c9a4a4" stroke-width="0.45"/>
<g stroke="#b38a70" stroke-width="2"><line x1="585.17" y1="83.1" x2="592.39" y2="94"/><line x1="527.46" y1="61.3" x2="541.88" y2="61.3"/><line x1="527.46" y1="61.3" x2="520.24" y2="72.2"/><line x1="563.53" y1="72.2" x2="570.75" y2="83.1"/><line x1="635.68" y1="115.8" x2="650.11" y2="115.8"/><line x1="570.75" y1="148.5" x2="585.17" y2="148.5"/><line x1="628.46" y1="83.1" x2="635.68" y2="94"/><line x1="527.46" y1="104.9" x2="541.88" y2="104.9"/><line x1="549.1" y1="72.2" x2="541.88" y2="83.1"/><line x1="606.82" y1="50.4" x2="614.03" y2="61.3"/><line x1="549.1" y1="115.8" x2="541.88" y2="126.7"/><line x1="505.81" y1="94" x2="520.24" y2="94"/><line x1="520.24" y1="115.8" x2="527.46" y2="126.7"/><line x1="541.88" y1="83.1" x2="549.1" y2="94"/><line x1="541.88" y1="104.9" x2="549.1" y2="115.8"/><line x1="563.53" y1="50.4" x2="570.75" y2="61.3"/><line x1="614.03" y1="83.1" x2="628.46" y2="83.1"/><line x1="592.39" y1="50.4" x2="606.82" y2="50.4"/><line x1="614.03" y1="61.3" x2="628.46" y2="61.3"/><line x1="592.39" y1="72.2" x2="606.82" y2="72.2"/><line x1="505.81" y1="115.8" x2="520.24" y2="115.8"/><line x1="592.39" y1="115.8" x2="606.82" y2="115.8"/><line x1="614.03" y1="39.5" x2="606.82" y2="50.4"/><line x1="606.82" y1="72.2" x2="614.03" y2="83.1"/><line x1="527.46" y1="126.7" x2="541.88" y2="126.7"/><line x1="606.82" y1="94" x2="614.03" y2="104.9"/><line x1="527.46" y1="83.1" x2="520.24" y2="94"/><line x1="635.68" y1="94" x2="650.11" y2="94"/><line x1="570.75" y1="104.9" x2="585.17" y2="104.9"/><line x1="592.39" y1="94" x2="606.82" y2="94"/><line x1="592.39" y1="94" x2="585.17" y2="104.9"/><line x1="549.1" y1="50.4" x2="563.53" y2="50.4"/><line x1="570.75" y1="61.3" x2="585.17" y2="61.3"/><line x1="570.75" y1="61.3" x2="563.53" y2="72.2"/><line x1="541.88" y1="61.3" x2="549.1" y2="72.2"/><line x1="592.39" y1="72.2" x2="585.17" y2="83.1"/><line x1="592.39" y1="115.8" x2="585.17" y2="126.7"/><line x1="570.75" y1="39.5" x2="563.53" y2="50.4"/><line x1="628.46" y1="126.7" x2="635.68" y2="137.6"/><line x1="570.75" y1="126.7" x2="563.53" y2="137.6"/><line x1="563.53" y1="137.6" x2="570.75" y2="148.5"/><line x1="570.75" y1="148.5" x2="563.53" y2="159.4"/><line x1="527.46" y1="83.1" x2="541.88" y2="83.1"/><line x1="570.75" y1="39.5" x2="585.17" y2="39.5"/><line x1="592.39" y1="28.6" x2="585.17" y2="39.5"/><line x1="606.82" y1="137.6" x2="614.03" y2="148.5"/><line x1="563.53" y1="115.8" x2="570.75" y2="126.7"/><line x1="549.1" y1="50.4" x2="541.88" y2="61.3"/><line x1="549.1" y1="137.6" x2="563.53" y2="137.6"/><line x1="628.46" y1="104.9" x2="635.68" y2="115.8"/><line x1="563.53" y1="28.6" x2="570.75" y2="39.5"/><line x1="628.46" y1="61.3" x2="635.68" y2="72.2"/><line x1="541.88" y1="126.7" x2="549.1" y2="137.6"/><line x1="549.1" y1="94" x2="563.53" y2="94"/><line x1="527.46" y1="104.9" x2="520.24" y2="115.8"/><line x1="570.75" y1="104.9" x2="563.53" y2="115.8"/><line x1="592.39" y1="137.6" x2="585.17" y2="148.5"/><line x1="635.68" y1="115.8" x2="628.46" y2="126.7"/><line x1="592.39" y1="137.6" x2="606.82" y2="137.6"/><line x1="614.03" y1="83.1" x2="606.82" y2="94"/><line x1="563.53" y1="94" x2="570.75" y2="104.9"/><line x1="614.03" y1="104.9" x2="628.46" y2="104.9"/><line x1="585.17" y1="148.5" x2="592.39" y2="159.4"/><line x1="549.1" y1="94" x2="541.88" y2="104.9"/><line x1="570.75" y1="126.7" x2="585.17" y2="126.7"/><line x1="505.81" y1="72.2" x2="520.24" y2="72.2"/><line x1="570.75" y1="83.1" x2="563.53" y2="94"/><line x1="635.68" y1="94" x2="628.46" y2="104.9"/><line x1="614.03" y1="104.9" x2="606.82" y2="115.8"/><line x1="585.17" y1="39.5" x2="592.39" y2="50.4"/><line x1="585.17" y1="126.7" x2="592.39" y2="137.6"/><line x1="520.24" y1="72.2" x2="527.46" y2="83.1"/><line x1="614.03" y1="61.3" x2="606.82" y2="72.2"/><line x1="549.1" y1="72.2" x2="563.53" y2="72.2"/><line x1="614.03" y1="126.7" x2="606.82" y2="137.6"/><line x1="585.17" y1="104.9" x2="592.39" y2="115.8"/><line x1="635.68" y1="72.2" x2="628.46" y2="83.1"/><line x1="614.03" y1="126.7" x2="628.46" y2="126.7"/><line x1="585.17" y1="61.3" x2="592.39" y2="72.2"/><line x1="549.1" y1="115.8" x2="563.53" y2="115.8"/><line x1="592.39" y1="50.4" x2="585.17" y2="61.3"/><line x1="520.24" y1="94" x2="527.46" y2="104.9"/><line x1="570.75" y1="83.1" x2="585.17" y2="83.1"/><line x1="606.82" y1="115.8" x2="614.03" y2="126.7"/></g>
<g stroke="#d9bda8" stroke-width="0.9"><line x1="585.17" y1="83.1" x2="592.39" y2="94"/><line x1="527.46" y1="61.3" x2="541.88" y2="61.3"/><line x1="527.46" y1="61.3" x2="520.24" y2="72.2"/><line x1="563.53" y1="72.2" x2="570.75" y2="83.1"/><line x1="635.68" y1="115.8" x2="650.11" y2="115.8"/><line x1="570.75" y1="148.5" x2="585.17" y2="148.5"/><line x1="628.46" y1="83.1" x2="635.68" y2="94"/><line x1="527.46" y1="104.9" x2="541.88" y2="104.9"/><line x1="549.1" y1="72.2" x2="541.88" y2="83.1"/><line x1="606.82" y1="50.4" x2="614.03" y2="61.3"/><line x1="549.1" y1="115.8" x2="541.88" y2="126.7"/><line x1="505.81" y1="94" x2="520.24" y2="94"/><line x1="520.24" y1="115.8" x2="527.46" y2="126.7"/><line x1="541.88" y1="83.1" x2="549.1" y2="94"/><line x1="541.88" y1="104.9" x2="549.1" y2="115.8"/><line x1="563.53" y1="50.4" x2="570.75" y2="61.3"/><line x1="614.03" y1="83.1" x2="628.46" y2="83.1"/><line x1="592.39" y1="50.4" x2="606.82" y2="50.4"/><line x1="614.03" y1="61.3" x2="628.46" y2="61.3"/><line x1="592.39" y1="72.2" x2="606.82" y2="72.2"/><line x1="505.81" y1="115.8" x2="520.24" y2="115.8"/><line x1="592.39" y1="115.8" x2="606.82" y2="115.8"/><line x1="614.03" y1="39.5" x2="606.82" y2="50.4"/><line x1="606.82" y1="72.2" x2="614.03" y2="83.1"/><line x1="527.46" y1="126.7" x2="541.88" y2="126.7"/><line x1="606.82" y1="94" x2="614.03" y2="104.9"/><line x1="527.46" y1="83.1" x2="520.24" y2="94"/><line x1="635.68" y1="94" x2="650.11" y2="94"/><line x1="570.75" y1="104.9" x2="585.17" y2="104.9"/><line x1="592.39" y1="94" x2="606.82" y2="94"/><line x1="592.39" y1="94" x2="585.17" y2="104.9"/><line x1="549.1" y1="50.4" x2="563.53" y2="50.4"/><line x1="570.75" y1="61.3" x2="585.17" y2="61.3"/><line x1="570.75" y1="61.3" x2="563.53" y2="72.2"/><line x1="541.88" y1="61.3" x2="549.1" y2="72.2"/><line x1="592.39" y1="72.2" x2="585.17" y2="83.1"/><line x1="592.39" y1="115.8" x2="585.17" y2="126.7"/><line x1="570.75" y1="39.5" x2="563.53" y2="50.4"/><line x1="628.46" y1="126.7" x2="635.68" y2="137.6"/><line x1="570.75" y1="126.7" x2="563.53" y2="137.6"/><line x1="563.53" y1="137.6" x2="570.75" y2="148.5"/><line x1="570.75" y1="148.5" x2="563.53" y2="159.4"/><line x1="527.46" y1="83.1" x2="541.88" y2="83.1"/><line x1="570.75" y1="39.5" x2="585.17" y2="39.5"/><line x1="592.39" y1="28.6" x2="585.17" y2="39.5"/><line x1="606.82" y1="137.6" x2="614.03" y2="148.5"/><line x1="563.53" y1="115.8" x2="570.75" y2="126.7"/><line x1="549.1" y1="50.4" x2="541.88" y2="61.3"/><line x1="549.1" y1="137.6" x2="563.53" y2="137.6"/><line x1="628.46" y1="104.9" x2="635.68" y2="115.8"/><line x1="563.53" y1="28.6" x2="570.75" y2="39.5"/><line x1="628.46" y1="61.3" x2="635.68" y2="72.2"/><line x1="541.88" y1="126.7" x2="549.1" y2="137.6"/><line x1="549.1" y1="94" x2="563.53" y2="94"/><line x1="527.46" y1="104.9" x2="520.24" y2="115.8"/><line x1="570.75" y1="104.9" x2="563.53" y2="115.8"/><line x1="592.39" y1="137.6" x2="585.17" y2="148.5"/><line x1="635.68" y1="115.8" x2="628.46" y2="126.7"/><line x1="592.39" y1="137.6" x2="606.82" y2="137.6"/><line x1="614.03" y1="83.1" x2="606.82" y2="94"/><line x1="563.53" y1="94" x2="570.75" y2="104.9"/><line x1="614.03" y1="104.9" x2="628.46" y2="104.9"/><line x1="585.17" y1="148.5" x2="592.39" y2="159.4"/><line x1="549.1" y1="94" x2="541.88" y2="104.9"/><line x1="570.75" y1="126.7" x2="585.17" y2="126.7"/><line x1="505.81" y1="72.2" x2="520.24" y2="72.2"/><line x1="570.75" y1="83.1" x2="563.53" y2="94"/><line x1="635.68" y1="94" x2="628.46" y2="104.9"/><line x1="614.03" y1="104.9" x2="606.82" y2="115.8"/><line x1="585.17" y1="39.5" x2="592.39" y2="50.4"/><line x1="585.17" y1="126.7" x2="592.39" y2="137.6"/><line x1="520.24" y1="72.2" x2="527.46" y2="83.1"/><line x1="614.03" y1="61.3" x2="606.82" y2="72.2"/><line x1="549.1" y1="72.2" x2="563.53" y2="72.2"/><line x1="614.03" y1="126.7" x2="606.82" y2="137.6"/><line x1="585.17" y1="104.9" x2="592.39" y2="115.8"/><line x1="635.68" y1="72.2" x2="628.46" y2="83.1"/><line x1="614.03" y1="126.7" x2="628.46" y2="126.7"/><line x1="585.17" y1="61.3" x2="592.39" y2="72.2"/><line x1="549.1" y1="115.8" x2="563.53" y2="115.8"/><line x1="592.39" y1="50.4" x2="585.17" y2="61.3"/><line x1="520.24" y1="94" x2="527.46" y2="104.9"/><line x1="570.75" y1="83.1" x2="585.17" y2="83.1"/><line x1="606.82" y1="115.8" x2="614.03" y2="126.7"/></g>
<g stroke="#9e7862" stroke-width="2"><line x1="657.33" y1="126.7" x2="650.11" y2="137.6"/><line x1="505.81" y1="50.4" x2="520.24" y2="50.4"/><line x1="505.81" y1="50.4" x2="498.6" y2="61.3"/><line x1="541.88" y1="148.5" x2="549.1" y2="159.4"/><line x1="549.1" y1="28.6" x2="541.88" y2="39.5"/><line x1="498.6" y1="61.3" x2="505.81" y2="72.2"/><line x1="505.81" y1="94" x2="498.6" y2="104.9"/><line x1="614.03" y1="148.5" x2="606.82" y2="159.4"/><line x1="570.75" y1="17.7" x2="563.53" y2="28.6"/><line x1="498.6" y1="126.7" x2="505.81" y2="137.6"/><line x1="570.75" y1="17.7" x2="585.17" y2="17.7"/><line x1="498.6" y1="83.1" x2="505.81" y2="94"/><line x1="498.6" y1="104.9" x2="505.81" y2="115.8"/><line x1="635.68" y1="137.6" x2="628.46" y2="148.5"/><line x1="606.82" y1="28.6" x2="614.03" y2="39.5"/><line x1="635.68" y1="50.4" x2="628.46" y2="61.3"/><line x1="635.68" y1="137.6" x2="650.11" y2="137.6"/><line x1="592.39" y1="159.4" x2="585.17" y2="170.3"/><line x1="520.24" y1="50.4" x2="527.46" y2="61.3"/><line x1="505.81" y1="115.8" x2="498.6" y2="126.7"/><line x1="549.1" y1="137.6" x2="541.88" y2="148.5"/><line x1="650.11" y1="115.8" x2="657.33" y2="126.7"/><line x1="570.75" y1="170.3" x2="585.17" y2="170.3"/><line x1="549.1" y1="28.6" x2="563.53" y2="28.6"/><line x1="563.53" y1="159.4" x2="570.75" y2="170.3"/><line x1="657.33" y1="83.1" x2="650.11" y2="94"/><line x1="592.39" y1="28.6" x2="606.82" y2="28.6"/><line x1="541.88" y1="39.5" x2="549.1" y2="50.4"/><line x1="657.33" y1="104.9" x2="650.11" y2="115.8"/><line x1="650.11" y1="94" x2="657.33" y2="104.9"/><line x1="650.11" y1="72.2" x2="657.33" y2="83.1"/><line x1="505.81" y1="137.6" x2="520.24" y2="137.6"/><line x1="614.03" y1="148.5" x2="628.46" y2="148.5"/><line x1="549.1" y1="159.4" x2="563.53" y2="159.4"/><line x1="527.46" y1="126.7" x2="520.24" y2="137.6"/><line x1="505.81" y1="72.2" x2="498.6" y2="83.1"/><line x1="635.68" y1="72.2" x2="650.11" y2="72.2"/><line x1="592.39" y1="159.4" x2="606.82" y2="159.4"/><line x1="628.46" y1="39.5" x2="635.68" y2="50.4"/><line x1="585.17" y1="17.7" x2="592.39" y2="28.6"/><line x1="614.03" y1="39.5" x2="628.46" y2="39.5"/></g>
<line x1="530.2" y1="20.6" x2="531.8" y2="40.1" stroke="#7a7a7a" stroke-width="0.6" stroke-dasharray="1.3,1.1"/><line x1="511.8" y1="39.3" x2="501.3" y2="30.8" stroke="#7a7a7a" stroke-width="0.6" stroke-dasharray="1.3,1.1"/><line x1="492.5" y1="86" x2="480.7" y2="94.1" stroke="#7a7a7a" stroke-width="0.6" stroke-dasharray="1.3,1.1"/><line x1="482.3" y1="109.3" x2="486.4" y2="128.6" stroke="#7a7a7a" stroke-width="0.6" stroke-dasharray="1.3,1.1"/><line x1="667" y1="64" x2="677.6" y2="72" stroke="#7a7a7a" stroke-width="0.6" stroke-dasharray="1.3,1.1"/><line x1="676.9" y1="90.7" x2="671.2" y2="106.1" stroke="#7a7a7a" stroke-width="0.6" stroke-dasharray="1.3,1.1"/><line x1="664.2" y1="110" x2="671.2" y2="106.1" stroke="#7a7a7a" stroke-width="0.6" stroke-dasharray="1.3,1.1"/><line x1="652.9" y1="157.3" x2="644.9" y2="158.5" stroke="#7a7a7a" stroke-width="0.6" stroke-dasharray="1.3,1.1"/><line x1="625.1" y1="162.9" x2="613.5" y2="147.4" stroke="#7a7a7a" stroke-width="0.6" stroke-dasharray="1.3,1.1"/><line x1="611" y1="163.9" x2="606.2" y2="174.9" stroke="#7a7a7a" stroke-width="0.6" stroke-dasharray="1.3,1.1"/><line x1="615.7" y1="162.4" x2="613.5" y2="147.4" stroke="#7a7a7a" stroke-width="0.6" stroke-dasharray="1.3,1.1"/><line x1="555.1" y1="179.5" x2="545.4" y2="160.2" stroke="#7a7a7a" stroke-width="0.6" stroke-dasharray="1.3,1.1"/><line x1="485" y1="137.4" x2="488.5" y2="149.7" stroke="#7a7a7a" stroke-width="0.6" stroke-dasharray="1.3,1.1"/>
<line x1="549.1" y1="28.6" x2="544.5" y2="23.8" stroke="#98705a" stroke-width="2"/>
<line x1="544.5" y1="23.8" x2="539.9" y2="19" stroke="#98705a" stroke-width="2"/>
<line x1="539.9" y1="19" x2="541.1" y2="13.5" stroke="#98705a" stroke-width="2"/>
<line x1="541.1" y1="13.5" x2="542.3" y2="8" stroke="#e83a40" stroke-width="2"/>
<line x1="539.9" y1="19" x2="535.05" y2="19.8" stroke="#98705a" stroke-width="2"/>
<line x1="535.05" y1="19.8" x2="530.2" y2="20.6" stroke="#f0dcdc" stroke-width="2"/>
<line x1="570.75" y1="17.7" x2="568.57" y2="12.45" stroke="#98705a" stroke-width="2"/>
<line x1="568.57" y1="12.45" x2="566.4" y2="7.2" stroke="#e83a40" stroke-width="2"/>
<line x1="566.4" y1="7.2" x2="561.55" y2="7.2" stroke="#e83a40" stroke-width="2"/>
<line x1="561.55" y1="7.2" x2="556.7" y2="7.2" stroke="#f0dcdc" stroke-width="2"/>
<line x1="541.88" y1="39.5" x2="536.84" y2="39.8" stroke="#98705a" stroke-width="2"/>
<line x1="536.84" y1="39.8" x2="531.8" y2="40.1" stroke="#e83a40" stroke-width="2"/>
<line x1="531.8" y1="40.1" x2="530.6" y2="35.7" stroke="#e83a40" stroke-width="2"/>
<line x1="530.6" y1="35.7" x2="529.4" y2="31.3" stroke="#f0dcdc" stroke-width="2"/>
<line x1="520.24" y1="50.4" x2="520.42" y2="47.05" stroke="#98705a" stroke-width="2"/>
<line x1="520.42" y1="47.05" x2="520.6" y2="43.7" stroke="#98705a" stroke-width="2"/>
<line x1="520.6" y1="43.7" x2="516.2" y2="41.5" stroke="#98705a" stroke-width="2"/>
<line x1="516.2" y1="41.5" x2="511.8" y2="39.3" stroke="#f0dcdc" stroke-width="2"/>
<line x1="505.81" y1="50.4" x2="501.15" y2="45.7" stroke="#98705a" stroke-width="2"/>
<line x1="501.15" y1="45.7" x2="496.5" y2="41" stroke="#98705a" stroke-width="2"/>
<line x1="496.5" y1="41" x2="498.9" y2="35.9" stroke="#98705a" stroke-width="2"/>
<line x1="498.9" y1="35.9" x2="501.3" y2="30.8" stroke="#e83a40" stroke-width="2"/>
<line x1="496.5" y1="41" x2="490.9" y2="41.55" stroke="#98705a" stroke-width="2"/>
<line x1="490.9" y1="41.55" x2="485.3" y2="42.1" stroke="#f0dcdc" stroke-width="2"/>
<line x1="498.6" y1="61.3" x2="493.5" y2="61.25" stroke="#98705a" stroke-width="2"/>
<line x1="493.5" y1="61.25" x2="488.4" y2="61.2" stroke="#98705a" stroke-width="2"/>
<line x1="488.4" y1="61.2" x2="486.75" y2="65.2" stroke="#98705a" stroke-width="2"/>
<line x1="486.75" y1="65.2" x2="485.1" y2="69.2" stroke="#e83a40" stroke-width="2"/>
<line x1="488.4" y1="61.2" x2="485.35" y2="57.05" stroke="#98705a" stroke-width="2"/>
<line x1="485.35" y1="57.05" x2="482.3" y2="52.9" stroke="#f0dcdc" stroke-width="2"/>
<line x1="498.6" y1="83.1" x2="503.8" y2="86.05" stroke="#98705a" stroke-width="2"/>
<line x1="503.8" y1="86.05" x2="509" y2="89" stroke="#e83a40" stroke-width="2"/>
<line x1="498.6" y1="83.1" x2="495.55" y2="84.55" stroke="#98705a" stroke-width="2"/>
<line x1="495.55" y1="84.55" x2="492.5" y2="86" stroke="#f0dcdc" stroke-width="2"/>
<line x1="498.6" y1="104.9" x2="492.45" y2="104.8" stroke="#98705a" stroke-width="2"/>
<line x1="492.45" y1="104.8" x2="486.3" y2="104.7" stroke="#98705a" stroke-width="2"/>
<line x1="486.3" y1="104.7" x2="483.5" y2="99.4" stroke="#98705a" stroke-width="2"/>
<line x1="483.5" y1="99.4" x2="480.7" y2="94.1" stroke="#e83a40" stroke-width="2"/>
<line x1="486.3" y1="104.7" x2="484.3" y2="107" stroke="#98705a" stroke-width="2"/>
<line x1="484.3" y1="107" x2="482.3" y2="109.3" stroke="#f0dcdc" stroke-width="2"/>
<line x1="585.17" y1="17.7" x2="588.94" y2="13.85" stroke="#98705a" stroke-width="2"/>
<line x1="588.94" y1="13.85" x2="592.7" y2="10" stroke="#98705a" stroke-width="2"/>
<line x1="592.7" y1="10" x2="599.1" y2="10.45" stroke="#98705a" stroke-width="2"/>
<line x1="599.1" y1="10.45" x2="605.5" y2="10.9" stroke="#e83a40" stroke-width="2"/>
<line x1="592.7" y1="10" x2="590.25" y2="6" stroke="#98705a" stroke-width="2"/>
<line x1="590.25" y1="6" x2="587.8" y2="2" stroke="#f0dcdc" stroke-width="2"/>
<line x1="592.39" y1="28.6" x2="594" y2="27.8" stroke="#98705a" stroke-width="2"/>
<line x1="594" y1="27.8" x2="595.6" y2="27" stroke="#e83a40" stroke-width="2"/>
<line x1="606.82" y1="28.6" x2="606.16" y2="28.75" stroke="#98705a" stroke-width="2"/>
<line x1="606.16" y1="28.75" x2="605.5" y2="28.9" stroke="#e83a40" stroke-width="2"/>
<line x1="605.5" y1="28.9" x2="607.1" y2="25.7" stroke="#e83a40" stroke-width="2"/>
<line x1="607.1" y1="25.7" x2="608.7" y2="22.5" stroke="#f0dcdc" stroke-width="2"/>
<line x1="628.46" y1="39.5" x2="631.58" y2="35.8" stroke="#98705a" stroke-width="2"/>
<line x1="631.58" y1="35.8" x2="634.7" y2="32.1" stroke="#98705a" stroke-width="2"/>
<line x1="634.7" y1="32.1" x2="632.15" y2="27.15" stroke="#98705a" stroke-width="2"/>
<line x1="632.15" y1="27.15" x2="629.6" y2="22.2" stroke="#e83a40" stroke-width="2"/>
<line x1="634.7" y1="32.1" x2="640.2" y2="32.75" stroke="#98705a" stroke-width="2"/>
<line x1="640.2" y1="32.75" x2="645.7" y2="33.4" stroke="#f0dcdc" stroke-width="2"/>
<line x1="650.5" y1="51.7" x2="652.8" y2="55.4" stroke="#98705a" stroke-width="2"/>
<line x1="652.8" y1="55.4" x2="655.1" y2="59.1" stroke="#e83a40" stroke-width="2"/>
<line x1="650.5" y1="51.7" x2="653.85" y2="56.9" stroke="#98705a" stroke-width="2"/>
<line x1="653.85" y1="56.9" x2="657.2" y2="62.1" stroke="#e83a40" stroke-width="2"/>
<line x1="650.5" y1="51.7" x2="654.1" y2="48.75" stroke="#98705a" stroke-width="2"/>
<line x1="654.1" y1="48.75" x2="657.7" y2="45.8" stroke="#f0dcdc" stroke-width="2"/>
<line x1="657.2" y1="62.1" x2="662.1" y2="63.05" stroke="#e83a40" stroke-width="2"/>
<line x1="662.1" y1="63.05" x2="667" y2="64" stroke="#f0dcdc" stroke-width="2"/>
<line x1="657.33" y1="83.1" x2="664.61" y2="82.7" stroke="#98705a" stroke-width="2"/>
<line x1="664.61" y1="82.7" x2="671.9" y2="82.3" stroke="#98705a" stroke-width="2"/>
<line x1="671.9" y1="82.3" x2="674.75" y2="77.15" stroke="#98705a" stroke-width="2"/>
<line x1="674.75" y1="77.15" x2="677.6" y2="72" stroke="#e83a40" stroke-width="2"/>
<line x1="671.9" y1="82.3" x2="674.4" y2="86.5" stroke="#98705a" stroke-width="2"/>
<line x1="674.4" y1="86.5" x2="676.9" y2="90.7" stroke="#f0dcdc" stroke-width="2"/>
<line x1="657.33" y1="104.9" x2="664.26" y2="105.5" stroke="#98705a" stroke-width="2"/>
<line x1="664.26" y1="105.5" x2="671.2" y2="106.1" stroke="#e83a40" stroke-width="2"/>
<line x1="650.11" y1="115.8" x2="652.61" y2="115.55" stroke="#98705a" stroke-width="2"/>
<line x1="652.61" y1="115.55" x2="655.1" y2="115.3" stroke="#e83a40" stroke-width="2"/>
<line x1="655.1" y1="115.3" x2="659.65" y2="112.65" stroke="#e83a40" stroke-width="2"/>
<line x1="659.65" y1="112.65" x2="664.2" y2="110" stroke="#f0dcdc" stroke-width="2"/>
<line x1="657.33" y1="126.7" x2="664.96" y2="127.05" stroke="#98705a" stroke-width="2"/>
<line x1="664.96" y1="127.05" x2="672.6" y2="127.4" stroke="#98705a" stroke-width="2"/>
<line x1="672.6" y1="127.4" x2="673.7" y2="126.45" stroke="#98705a" stroke-width="2"/>
<line x1="673.7" y1="126.45" x2="674.8" y2="125.5" stroke="#e83a40" stroke-width="2"/>
<line x1="672.6" y1="127.4" x2="676.6" y2="127.4" stroke="#98705a" stroke-width="2"/>
<line x1="676.6" y1="127.4" x2="680.6" y2="127.4" stroke="#f0dcdc" stroke-width="2"/>
<line x1="650.11" y1="137.6" x2="654.4" y2="143.45" stroke="#98705a" stroke-width="2"/>
<line x1="654.4" y1="143.45" x2="658.7" y2="149.3" stroke="#98705a" stroke-width="2"/>
<line x1="658.7" y1="149.3" x2="664.9" y2="149.5" stroke="#98705a" stroke-width="2"/>
<line x1="664.9" y1="149.5" x2="671.1" y2="149.7" stroke="#e83a40" stroke-width="2"/>
<line x1="658.7" y1="149.3" x2="655.8" y2="153.3" stroke="#98705a" stroke-width="2"/>
<line x1="655.8" y1="153.3" x2="652.9" y2="157.3" stroke="#f0dcdc" stroke-width="2"/>
<line x1="628.46" y1="148.5" x2="630.83" y2="153.05" stroke="#98705a" stroke-width="2"/>
<line x1="630.83" y1="153.05" x2="633.2" y2="157.6" stroke="#98705a" stroke-width="2"/>
<line x1="633.2" y1="157.6" x2="639.05" y2="158.05" stroke="#98705a" stroke-width="2"/>
<line x1="639.05" y1="158.05" x2="644.9" y2="158.5" stroke="#e83a40" stroke-width="2"/>
<line x1="633.2" y1="157.6" x2="629.15" y2="160.25" stroke="#98705a" stroke-width="2"/>
<line x1="629.15" y1="160.25" x2="625.1" y2="162.9" stroke="#f0dcdc" stroke-width="2"/>
<line x1="606.82" y1="137.6" x2="610.16" y2="142.5" stroke="#98705a" stroke-width="2"/>
<line x1="610.16" y1="142.5" x2="613.5" y2="147.4" stroke="#e83a40" stroke-width="2"/>
<line x1="592.39" y1="159.4" x2="600.75" y2="158" stroke="#98705a" stroke-width="2"/>
<line x1="600.75" y1="158" x2="609.1" y2="156.6" stroke="#98705a" stroke-width="2"/>
<line x1="609.1" y1="156.6" x2="607.25" y2="157.7" stroke="#98705a" stroke-width="2"/>
<line x1="607.25" y1="157.7" x2="605.4" y2="158.8" stroke="#e83a40" stroke-width="2"/>
<line x1="609.1" y1="156.6" x2="610.05" y2="160.25" stroke="#98705a" stroke-width="2"/>
<line x1="610.05" y1="160.25" x2="611" y2="163.9" stroke="#f0dcdc" stroke-width="2"/>
<line x1="609.1" y1="156.6" x2="612.4" y2="159.5" stroke="#98705a" stroke-width="2"/>
<line x1="612.4" y1="159.5" x2="615.7" y2="162.4" stroke="#f0dcdc" stroke-width="2"/>
<line x1="585.17" y1="170.3" x2="589.84" y2="173.65" stroke="#98705a" stroke-width="2"/>
<line x1="589.84" y1="173.65" x2="594.5" y2="177" stroke="#98705a" stroke-width="2"/>
<line x1="594.5" y1="177" x2="600.35" y2="175.95" stroke="#98705a" stroke-width="2"/>
<line x1="600.35" y1="175.95" x2="606.2" y2="174.9" stroke="#e83a40" stroke-width="2"/>
<line x1="594.5" y1="177" x2="593.05" y2="181.4" stroke="#98705a" stroke-width="2"/>
<line x1="593.05" y1="181.4" x2="591.6" y2="185.8" stroke="#f0dcdc" stroke-width="2"/>
<line x1="570.75" y1="170.3" x2="568.17" y2="173.75" stroke="#98705a" stroke-width="2"/>
<line x1="568.17" y1="173.75" x2="565.6" y2="177.2" stroke="#98705a" stroke-width="2"/>
<line x1="565.6" y1="177.2" x2="569.1" y2="179.8" stroke="#98705a" stroke-width="2"/>
<line x1="569.1" y1="179.8" x2="572.6" y2="182.4" stroke="#e83a40" stroke-width="2"/>
<line x1="565.6" y1="177.2" x2="560.35" y2="178.35" stroke="#98705a" stroke-width="2"/>
<line x1="560.35" y1="178.35" x2="555.1" y2="179.5" stroke="#f0dcdc" stroke-width="2"/>
<line x1="549.1" y1="159.4" x2="545.95" y2="164.15" stroke="#98705a" stroke-width="2"/>
<line x1="545.95" y1="164.15" x2="542.8" y2="168.9" stroke="#98705a" stroke-width="2"/>
<line x1="542.8" y1="168.9" x2="544.1" y2="164.55" stroke="#98705a" stroke-width="2"/>
<line x1="544.1" y1="164.55" x2="545.4" y2="160.2" stroke="#e83a40" stroke-width="2"/>
<line x1="542.8" y1="168.9" x2="538" y2="168.5" stroke="#98705a" stroke-width="2"/>
<line x1="538" y1="168.5" x2="533.2" y2="168.1" stroke="#e83a40" stroke-width="2"/>
<line x1="542.8" y1="168.9" x2="546.3" y2="173.05" stroke="#98705a" stroke-width="2"/>
<line x1="546.3" y1="173.05" x2="549.8" y2="177.2" stroke="#e83a40" stroke-width="2"/>
<line x1="533.2" y1="168.1" x2="529.7" y2="165.05" stroke="#e83a40" stroke-width="2"/>
<line x1="529.7" y1="165.05" x2="526.2" y2="162" stroke="#f0dcdc" stroke-width="2"/>
<line x1="541.88" y1="148.5" x2="537.69" y2="148.75" stroke="#98705a" stroke-width="2"/>
<line x1="537.69" y1="148.75" x2="533.5" y2="149" stroke="#98705a" stroke-width="2"/>
<line x1="533.5" y1="149" x2="531.15" y2="148.3" stroke="#98705a" stroke-width="2"/>
<line x1="531.15" y1="148.3" x2="528.8" y2="147.6" stroke="#e83a40" stroke-width="2"/>
<line x1="533.5" y1="149" x2="531.6" y2="153.45" stroke="#98705a" stroke-width="2"/>
<line x1="531.6" y1="153.45" x2="529.7" y2="157.9" stroke="#e83a40" stroke-width="2"/>
<line x1="528.8" y1="147.6" x2="526.6" y2="144.7" stroke="#e83a40" stroke-width="2"/>
<line x1="526.6" y1="144.7" x2="524.4" y2="141.8" stroke="#f0dcdc" stroke-width="2"/>
<line x1="505.81" y1="137.6" x2="503.75" y2="143.35" stroke="#98705a" stroke-width="2"/>
<line x1="503.75" y1="143.35" x2="501.7" y2="149.1" stroke="#98705a" stroke-width="2"/>
<line x1="501.7" y1="149.1" x2="495.1" y2="149.4" stroke="#98705a" stroke-width="2"/>
<line x1="495.1" y1="149.4" x2="488.5" y2="149.7" stroke="#e83a40" stroke-width="2"/>
<line x1="501.7" y1="149.1" x2="504.75" y2="153.15" stroke="#98705a" stroke-width="2"/>
<line x1="504.75" y1="153.15" x2="507.8" y2="157.2" stroke="#f0dcdc" stroke-width="2"/>
<line x1="498.6" y1="126.7" x2="492.5" y2="127.65" stroke="#98705a" stroke-width="2"/>
<line x1="492.5" y1="127.65" x2="486.4" y2="128.6" stroke="#e83a40" stroke-width="2"/>
<line x1="486.4" y1="128.6" x2="485.7" y2="133" stroke="#e83a40" stroke-width="2"/>
<line x1="485.7" y1="133" x2="485" y2="137.4" stroke="#f0dcdc" stroke-width="2"/>
<circle cx="570.75" cy="17.7" r="2.5" fill="url(#gc)"/>
<circle cx="585.17" cy="17.7" r="2.5" fill="url(#gc)"/>
<circle cx="549.1" cy="28.6" r="2.5" fill="url(#gc)"/>
<circle cx="563.53" cy="28.6" r="2.5" fill="url(#gc)"/>
<circle cx="592.39" cy="28.6" r="2.5" fill="url(#gc)"/>
<circle cx="606.82" cy="28.6" r="2.5" fill="url(#gc)"/>
<circle cx="541.88" cy="39.5" r="2.5" fill="url(#gc)"/>
<circle cx="570.75" cy="39.5" r="2.5" fill="url(#gc)"/>
<circle cx="585.17" cy="39.5" r="2.5" fill="url(#gc)"/>
<circle cx="614.03" cy="39.5" r="2.5" fill="url(#gc)"/>
<circle cx="628.46" cy="39.5" r="2.5" fill="url(#gc)"/>
<circle cx="505.81" cy="50.4" r="2.5" fill="url(#gc)"/>
<circle cx="520.24" cy="50.4" r="2.5" fill="url(#gc)"/>
<circle cx="549.1" cy="50.4" r="2.5" fill="url(#gc)"/>
<circle cx="563.53" cy="50.4" r="2.5" fill="url(#gc)"/>
<circle cx="592.39" cy="50.4" r="2.5" fill="url(#gc)"/>
<circle cx="606.82" cy="50.4" r="2.5" fill="url(#gc)"/>
<circle cx="635.68" cy="50.4" r="2.5" fill="url(#gc)"/>
<circle cx="498.6" cy="61.3" r="2.5" fill="url(#gc)"/>
<circle cx="527.46" cy="61.3" r="2.5" fill="url(#gc)"/>
<circle cx="541.88" cy="61.3" r="2.5" fill="url(#gc)"/>
<circle cx="570.75" cy="61.3" r="2.5" fill="url(#gc)"/>
<circle cx="585.17" cy="61.3" r="2.5" fill="url(#gc)"/>
<circle cx="614.03" cy="61.3" r="2.5" fill="url(#gc)"/>
<circle cx="628.46" cy="61.3" r="2.5" fill="url(#gc)"/>
<circle cx="505.81" cy="72.2" r="2.5" fill="url(#gc)"/>
<circle cx="520.24" cy="72.2" r="2.5" fill="url(#gc)"/>
<circle cx="549.1" cy="72.2" r="2.5" fill="url(#gc)"/>
<circle cx="563.53" cy="72.2" r="2.5" fill="url(#gc)"/>
<circle cx="592.39" cy="72.2" r="2.5" fill="url(#gc)"/>
<circle cx="606.82" cy="72.2" r="2.5" fill="url(#gc)"/>
<circle cx="635.68" cy="72.2" r="2.5" fill="url(#gc)"/>
<circle cx="650.11" cy="72.2" r="2.5" fill="url(#gc)"/>
<circle cx="498.6" cy="83.1" r="2.5" fill="url(#gc)"/>
<circle cx="527.46" cy="83.1" r="2.5" fill="url(#gc)"/>
<circle cx="541.88" cy="83.1" r="2.5" fill="url(#gc)"/>
<circle cx="570.75" cy="83.1" r="2.5" fill="url(#gc)"/>
<circle cx="585.17" cy="83.1" r="2.5" fill="url(#gc)"/>
<circle cx="614.03" cy="83.1" r="2.5" fill="url(#gc)"/>
<circle cx="628.46" cy="83.1" r="2.5" fill="url(#gc)"/>
<circle cx="657.33" cy="83.1" r="2.5" fill="url(#gc)"/>
<circle cx="505.81" cy="94" r="2.5" fill="url(#gc)"/>
<circle cx="520.24" cy="94" r="2.5" fill="url(#gc)"/>
<circle cx="549.1" cy="94" r="2.5" fill="url(#gc)"/>
<circle cx="563.53" cy="94" r="2.5" fill="url(#gc)"/>
<circle cx="592.39" cy="94" r="2.5" fill="url(#gc)"/>
<circle cx="606.82" cy="94" r="2.5" fill="url(#gc)"/>
<circle cx="635.68" cy="94" r="2.5" fill="url(#gc)"/>
<circle cx="650.11" cy="94" r="2.5" fill="url(#gc)"/>
<circle cx="498.6" cy="104.9" r="2.5" fill="url(#gc)"/>
<circle cx="527.46" cy="104.9" r="2.5" fill="url(#gc)"/>
<circle cx="541.88" cy="104.9" r="2.5" fill="url(#gc)"/>
<circle cx="570.75" cy="104.9" r="2.5" fill="url(#gc)"/>
<circle cx="585.17" cy="104.9" r="2.5" fill="url(#gc)"/>
<circle cx="614.03" cy="104.9" r="2.5" fill="url(#gc)"/>
<circle cx="628.46" cy="104.9" r="2.5" fill="url(#gc)"/>
<circle cx="657.33" cy="104.9" r="2.5" fill="url(#gc)"/>
<circle cx="505.81" cy="115.8" r="2.5" fill="url(#gc)"/>
<circle cx="520.24" cy="115.8" r="2.5" fill="url(#gc)"/>
<circle cx="549.1" cy="115.8" r="2.5" fill="url(#gc)"/>
<circle cx="563.53" cy="115.8" r="2.5" fill="url(#gc)"/>
<circle cx="592.39" cy="115.8" r="2.5" fill="url(#gc)"/>
<circle cx="606.82" cy="115.8" r="2.5" fill="url(#gc)"/>
<circle cx="635.68" cy="115.8" r="2.5" fill="url(#gc)"/>
<circle cx="650.11" cy="115.8" r="2.5" fill="url(#gc)"/>
<circle cx="498.6" cy="126.7" r="2.5" fill="url(#gc)"/>
<circle cx="527.46" cy="126.7" r="2.5" fill="url(#gc)"/>
<circle cx="541.88" cy="126.7" r="2.5" fill="url(#gc)"/>
<circle cx="570.75" cy="126.7" r="2.5" fill="url(#gc)"/>
<circle cx="585.17" cy="126.7" r="2.5" fill="url(#gc)"/>
<circle cx="614.03" cy="126.7" r="2.5" fill="url(#gc)"/>
<circle cx="628.46" cy="126.7" r="2.5" fill="url(#gc)"/>
<circle cx="657.33" cy="126.7" r="2.5" fill="url(#gc)"/>
<circle cx="505.81" cy="137.6" r="2.5" fill="url(#gc)"/>
<circle cx="520.24" cy="137.6" r="2.5" fill="url(#gc)"/>
<circle cx="549.1" cy="137.6" r="2.5" fill="url(#gc)"/>
<circle cx="563.53" cy="137.6" r="2.5" fill="url(#gc)"/>
<circle cx="592.39" cy="137.6" r="2.5" fill="url(#gc)"/>
<circle cx="606.82" cy="137.6" r="2.5" fill="url(#gc)"/>
<circle cx="635.68" cy="137.6" r="2.5" fill="url(#gc)"/>
<circle cx="650.11" cy="137.6" r="2.5" fill="url(#gc)"/>
<circle cx="541.88" cy="148.5" r="2.5" fill="url(#gc)"/>
<circle cx="570.75" cy="148.5" r="2.5" fill="url(#gc)"/>
<circle cx="585.17" cy="148.5" r="2.5" fill="url(#gc)"/>
<circle cx="614.03" cy="148.5" r="2.5" fill="url(#gc)"/>
<circle cx="628.46" cy="148.5" r="2.5" fill="url(#gc)"/>
<circle cx="549.1" cy="159.4" r="2.5" fill="url(#gc)"/>
<circle cx="563.53" cy="159.4" r="2.5" fill="url(#gc)"/>
<circle cx="592.39" cy="159.4" r="2.5" fill="url(#gc)"/>
<circle cx="606.82" cy="159.4" r="2.5" fill="url(#gc)"/>
<circle cx="570.75" cy="170.3" r="2.5" fill="url(#gc)"/>
<circle cx="585.17" cy="170.3" r="2.5" fill="url(#gc)"/>
<circle cx="539.9" cy="19" r="2.5" fill="url(#gc)"/>
<circle cx="542.3" cy="8" r="2.62" fill="url(#go2)"/>
<circle cx="530.2" cy="20.6" r="1.55" fill="url(#gh)" stroke="#c9a4a4" stroke-width="0.45"/>
<circle cx="566.4" cy="7.2" r="2.62" fill="url(#go2)"/>
<circle cx="556.7" cy="7.2" r="1.55" fill="url(#gh)" stroke="#c9a4a4" stroke-width="0.45"/>
<circle cx="531.8" cy="40.1" r="2.62" fill="url(#go2)"/>
<circle cx="529.4" cy="31.3" r="1.55" fill="url(#gh)" stroke="#c9a4a4" stroke-width="0.45"/>
<circle cx="520.6" cy="43.7" r="2.5" fill="url(#gc)"/>
<circle cx="511.8" cy="39.3" r="1.55" fill="url(#gh)" stroke="#c9a4a4" stroke-width="0.45"/>
<circle cx="496.5" cy="41" r="2.5" fill="url(#gc)"/>
<circle cx="501.3" cy="30.8" r="2.62" fill="url(#go2)"/>
<circle cx="485.3" cy="42.1" r="1.55" fill="url(#gh)" stroke="#c9a4a4" stroke-width="0.45"/>
<circle cx="488.4" cy="61.2" r="2.5" fill="url(#gc)"/>
<circle cx="485.1" cy="69.2" r="2.62" fill="url(#go2)"/>
<circle cx="482.3" cy="52.9" r="1.55" fill="url(#gh)" stroke="#c9a4a4" stroke-width="0.45"/>
<circle cx="509" cy="89" r="2.62" fill="url(#go2)"/>
<circle cx="492.5" cy="86" r="1.55" fill="url(#gh)" stroke="#c9a4a4" stroke-width="0.45"/>
<circle cx="486.3" cy="104.7" r="2.5" fill="url(#gc)"/>
<circle cx="480.7" cy="94.1" r="2.62" fill="url(#go2)"/>
<circle cx="482.3" cy="109.3" r="1.55" fill="url(#gh)" stroke="#c9a4a4" stroke-width="0.45"/>
<circle cx="592.7" cy="10" r="2.5" fill="url(#gc)"/>
<circle cx="605.5" cy="10.9" r="2.62" fill="url(#go2)"/>
<circle cx="587.8" cy="2" r="1.55" fill="url(#gh)" stroke="#c9a4a4" stroke-width="0.45"/>
<circle cx="595.6" cy="27" r="2.62" fill="url(#go2)"/>
<circle cx="605.5" cy="28.9" r="2.62" fill="url(#go2)"/>
<circle cx="608.7" cy="22.5" r="1.55" fill="url(#gh)" stroke="#c9a4a4" stroke-width="0.45"/>
<circle cx="634.7" cy="32.1" r="2.5" fill="url(#gc)"/>
<circle cx="629.6" cy="22.2" r="2.62" fill="url(#go2)"/>
<circle cx="645.7" cy="33.4" r="1.55" fill="url(#gh)" stroke="#c9a4a4" stroke-width="0.45"/>
<circle cx="650.5" cy="51.7" r="2.5" fill="url(#gc)"/>
<circle cx="655.1" cy="59.1" r="2.62" fill="url(#go2)"/>
<circle cx="657.2" cy="62.1" r="2.62" fill="url(#go2)"/>
<circle cx="657.7" cy="45.8" r="1.55" fill="url(#gh)" stroke="#c9a4a4" stroke-width="0.45"/>
<circle cx="667" cy="64" r="1.55" fill="url(#gh)" stroke="#c9a4a4" stroke-width="0.45"/>
<circle cx="671.9" cy="82.3" r="2.5" fill="url(#gc)"/>
<circle cx="677.6" cy="72" r="2.62" fill="url(#go2)"/>
<circle cx="676.9" cy="90.7" r="1.55" fill="url(#gh)" stroke="#c9a4a4" stroke-width="0.45"/>
<circle cx="671.2" cy="106.1" r="2.62" fill="url(#go2)"/>
<circle cx="655.1" cy="115.3" r="2.62" fill="url(#go2)"/>
<circle cx="664.2" cy="110" r="1.55" fill="url(#gh)" stroke="#c9a4a4" stroke-width="0.45"/>
<circle cx="672.6" cy="127.4" r="2.5" fill="url(#gc)"/>
<circle cx="674.8" cy="125.5" r="2.62" fill="url(#go2)"/>
<circle cx="680.6" cy="127.4" r="1.55" fill="url(#gh)" stroke="#c9a4a4" stroke-width="0.45"/>
<circle cx="658.7" cy="149.3" r="2.5" fill="url(#gc)"/>
<circle cx="671.1" cy="149.7" r="2.62" fill="url(#go2)"/>
<circle cx="652.9" cy="157.3" r="1.55" fill="url(#gh)" stroke="#c9a4a4" stroke-width="0.45"/>
<circle cx="633.2" cy="157.6" r="2.5" fill="url(#gc)"/>
<circle cx="644.9" cy="158.5" r="2.62" fill="url(#go2)"/>
<circle cx="625.1" cy="162.9" r="1.55" fill="url(#gh)" stroke="#c9a4a4" stroke-width="0.45"/>
<circle cx="613.5" cy="147.4" r="2.62" fill="url(#go2)"/>
<circle cx="609.1" cy="156.6" r="2.5" fill="url(#gc)"/>
<circle cx="605.4" cy="158.8" r="2.62" fill="url(#go2)"/>
<circle cx="611" cy="163.9" r="1.55" fill="url(#gh)" stroke="#c9a4a4" stroke-width="0.45"/>
<circle cx="615.7" cy="162.4" r="1.55" fill="url(#gh)" stroke="#c9a4a4" stroke-width="0.45"/>
<circle cx="594.5" cy="177" r="2.5" fill="url(#gc)"/>
<circle cx="606.2" cy="174.9" r="2.62" fill="url(#go2)"/>
<circle cx="591.6" cy="185.8" r="1.55" fill="url(#gh)" stroke="#c9a4a4" stroke-width="0.45"/>
<circle cx="565.6" cy="177.2" r="2.5" fill="url(#gc)"/>
<circle cx="572.6" cy="182.4" r="2.62" fill="url(#go2)"/>
<circle cx="555.1" cy="179.5" r="1.55" fill="url(#gh)" stroke="#c9a4a4" stroke-width="0.45"/>
<circle cx="542.8" cy="168.9" r="2.5" fill="url(#gc)"/>
<circle cx="545.4" cy="160.2" r="2.62" fill="url(#go2)"/>
<circle cx="533.2" cy="168.1" r="2.62" fill="url(#go2)"/>
<circle cx="549.8" cy="177.2" r="2.62" fill="url(#go2)"/>
<circle cx="526.2" cy="162" r="1.55" fill="url(#gh)" stroke="#c9a4a4" stroke-width="0.45"/>
<circle cx="533.5" cy="149" r="2.5" fill="url(#gc)"/>
<circle cx="528.8" cy="147.6" r="2.62" fill="url(#go2)"/>
<circle cx="529.7" cy="157.9" r="2.62" fill="url(#go2)"/>
<circle cx="524.4" cy="141.8" r="1.55" fill="url(#gh)" stroke="#c9a4a4" stroke-width="0.45"/>
<circle cx="501.7" cy="149.1" r="2.5" fill="url(#gc)"/>
<circle cx="488.5" cy="149.7" r="2.62" fill="url(#go2)"/>
<circle cx="507.8" cy="157.2" r="1.55" fill="url(#gh)" stroke="#c9a4a4" stroke-width="0.45"/>
<circle cx="486.4" cy="128.6" r="2.62" fill="url(#go2)"/>
<circle cx="485" cy="137.4" r="1.55" fill="url(#gh)" stroke="#c9a4a4" stroke-width="0.45"/>
<line x1="14.1" y1="185.6" x2="14.1" y2="161" stroke="#e82030" stroke-width="1.3"/>
<path d="M14.1,155.4 L17.6,163.4 L10.6,163.4 Z" fill="#e82030"/>
<line x1="14.1" y1="185.6" x2="39" y2="185.6" stroke="#5b7cf7" stroke-width="1.3"/>
<path d="M45.1,185.6 L37.2,182.2 L37.2,189.1 Z" fill="#5b7cf7"/>
<text x="14.5" y="152.3" font-size="9.5" text-anchor="middle" font-weight="bold" fill="#000" >x</text>
<text x="50.7" y="189.2" font-size="9.5" text-anchor="middle" font-weight="bold" fill="#000" >y</text>
</svg></body></html>
